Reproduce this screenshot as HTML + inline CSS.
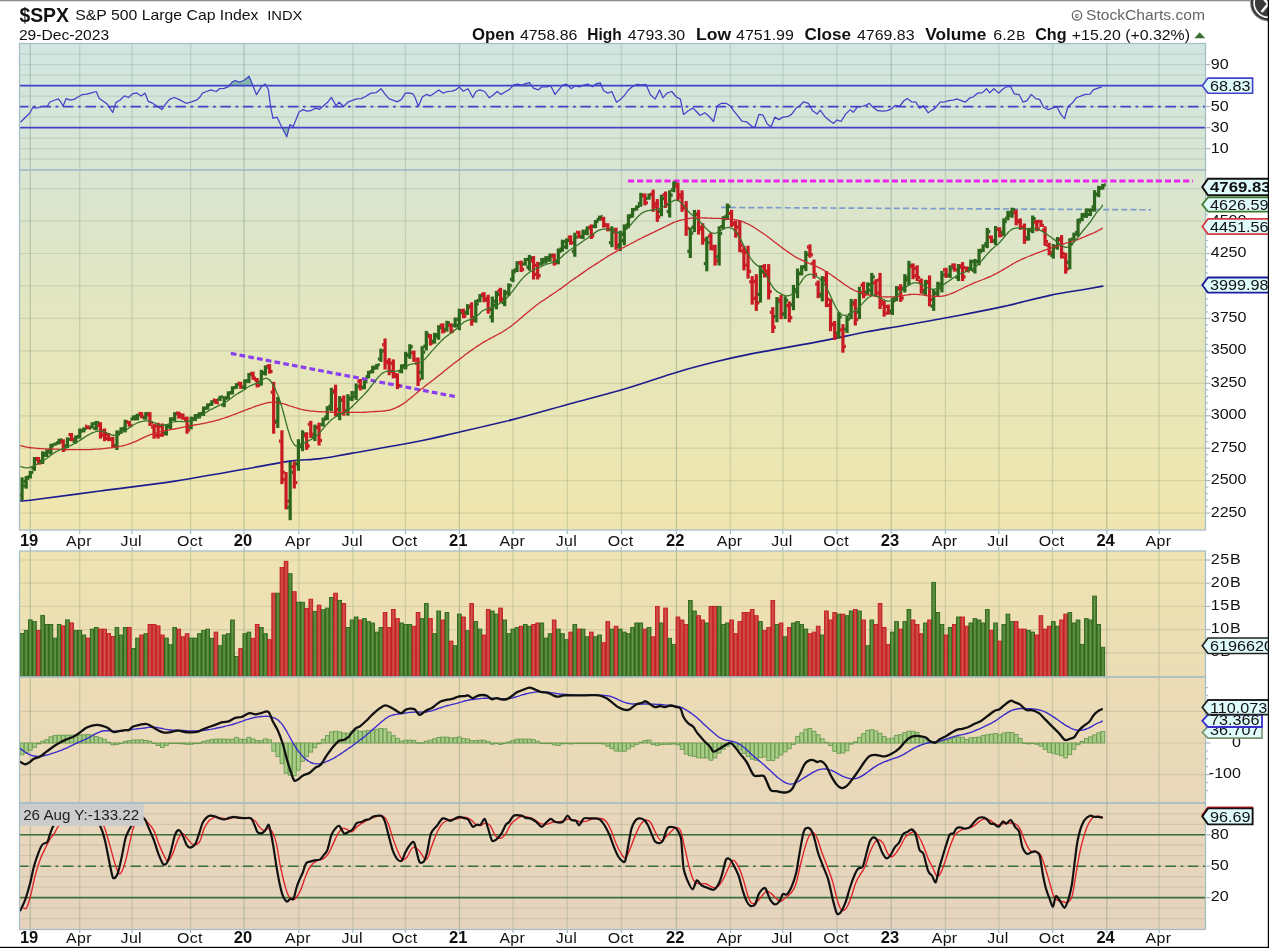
<!DOCTYPE html>
<html><head><meta charset="utf-8"><title>$SPX</title><style>html,body{margin:0;padding:0;background:#fff;overflow:hidden}svg{display:block;filter:blur(0.45px)}</style></head><body>
<svg width="1269" height="948" viewBox="0 0 1269 948" font-family="'Liberation Sans', sans-serif">
<defs>
<linearGradient id="bg" gradientUnits="userSpaceOnUse" x1="0" y1="43" x2="0" y2="930">
<stop offset="0" stop-color="#d1e6e2"/><stop offset="0.14" stop-color="#d8e5d2"/><stop offset="0.32" stop-color="#e4e6bd"/><stop offset="0.52" stop-color="#efe6af"/><stop offset="0.72" stop-color="#ebdcb5"/><stop offset="1" stop-color="#e5d3bf"/>
</linearGradient>
<linearGradient id="vg" x1="0" y1="0" x2="1" y2="0"><stop offset="0" stop-color="#35701f"/><stop offset="0.5" stop-color="#6a9648"/><stop offset="1" stop-color="#35701f"/></linearGradient>
<linearGradient id="vr" x1="0" y1="0" x2="1" y2="0"><stop offset="0" stop-color="#c8202a"/><stop offset="0.5" stop-color="#d05a4a"/><stop offset="1" stop-color="#c8202a"/></linearGradient>
<clipPath id="cR"><rect x="19.5" y="43.5" width="1186" height="126.5"/></clipPath>
<clipPath id="cP"><rect x="19.5" y="170" width="1186" height="360"/></clipPath>
<clipPath id="cM"><rect x="19.5" y="677" width="1186" height="126"/></clipPath>
<clipPath id="cS"><rect x="19.5" y="803" width="1186" height="126.5"/></clipPath>
<clipPath id="c70"><rect x="19.5" y="43.5" width="1186" height="42"/></clipPath>
<clipPath id="c30"><rect x="19.5" y="127.6" width="1186" height="42"/></clipPath>
</defs>
<rect width="1269" height="948" fill="#fff"/>
<rect x="19.5" y="43.5" width="1186.0" height="126.5" fill="url(#bg)"/>
<rect x="19.5" y="170.0" width="1186.0" height="360.0" fill="url(#bg)"/>
<rect x="19.5" y="551.0" width="1186.0" height="126.0" fill="url(#bg)"/>
<rect x="19.5" y="677.0" width="1186.0" height="126.0" fill="url(#bg)"/>
<rect x="19.5" y="803.0" width="1186.0" height="126.5" fill="url(#bg)"/>
<line x1="19.5" y1="159.1" x2="1205.5" y2="159.1" stroke="rgba(105,130,110,0.19)" stroke-width="1.2"/>
<line x1="19.5" y1="148.6" x2="1205.5" y2="148.6" stroke="rgba(105,130,110,0.19)" stroke-width="1.2"/>
<line x1="19.5" y1="138.1" x2="1205.5" y2="138.1" stroke="rgba(105,130,110,0.19)" stroke-width="1.2"/>
<line x1="19.5" y1="127.6" x2="1205.5" y2="127.6" stroke="rgba(105,130,110,0.19)" stroke-width="1.2"/>
<line x1="19.5" y1="117.1" x2="1205.5" y2="117.1" stroke="rgba(105,130,110,0.19)" stroke-width="1.2"/>
<line x1="19.5" y1="106.6" x2="1205.5" y2="106.6" stroke="rgba(105,130,110,0.19)" stroke-width="1.2"/>
<line x1="19.5" y1="96.1" x2="1205.5" y2="96.1" stroke="rgba(105,130,110,0.19)" stroke-width="1.2"/>
<line x1="19.5" y1="85.6" x2="1205.5" y2="85.6" stroke="rgba(105,130,110,0.19)" stroke-width="1.2"/>
<line x1="19.5" y1="75.1" x2="1205.5" y2="75.1" stroke="rgba(105,130,110,0.19)" stroke-width="1.2"/>
<line x1="19.5" y1="64.6" x2="1205.5" y2="64.6" stroke="rgba(105,130,110,0.19)" stroke-width="1.2"/>
<line x1="19.5" y1="54.1" x2="1205.5" y2="54.1" stroke="rgba(105,130,110,0.19)" stroke-width="1.2"/>
<line x1="19.5" y1="513.1" x2="1205.5" y2="513.1" stroke="rgba(105,130,110,0.19)" stroke-width="1.2"/>
<line x1="19.5" y1="480.6" x2="1205.5" y2="480.6" stroke="rgba(105,130,110,0.19)" stroke-width="1.2"/>
<line x1="19.5" y1="448.2" x2="1205.5" y2="448.2" stroke="rgba(105,130,110,0.19)" stroke-width="1.2"/>
<line x1="19.5" y1="415.8" x2="1205.5" y2="415.8" stroke="rgba(105,130,110,0.19)" stroke-width="1.2"/>
<line x1="19.5" y1="383.3" x2="1205.5" y2="383.3" stroke="rgba(105,130,110,0.19)" stroke-width="1.2"/>
<line x1="19.5" y1="350.9" x2="1205.5" y2="350.9" stroke="rgba(105,130,110,0.19)" stroke-width="1.2"/>
<line x1="19.5" y1="318.4" x2="1205.5" y2="318.4" stroke="rgba(105,130,110,0.19)" stroke-width="1.2"/>
<line x1="19.5" y1="285.9" x2="1205.5" y2="285.9" stroke="rgba(105,130,110,0.19)" stroke-width="1.2"/>
<line x1="19.5" y1="253.5" x2="1205.5" y2="253.5" stroke="rgba(105,130,110,0.19)" stroke-width="1.2"/>
<line x1="19.5" y1="221.1" x2="1205.5" y2="221.1" stroke="rgba(105,130,110,0.19)" stroke-width="1.2"/>
<line x1="19.5" y1="188.6" x2="1205.5" y2="188.6" stroke="rgba(105,130,110,0.19)" stroke-width="1.2"/>
<line x1="19.5" y1="652.8" x2="1205.5" y2="652.8" stroke="rgba(105,130,110,0.19)" stroke-width="1.2"/>
<line x1="19.5" y1="629.6" x2="1205.5" y2="629.6" stroke="rgba(105,130,110,0.19)" stroke-width="1.2"/>
<line x1="19.5" y1="606.4" x2="1205.5" y2="606.4" stroke="rgba(105,130,110,0.19)" stroke-width="1.2"/>
<line x1="19.5" y1="583.2" x2="1205.5" y2="583.2" stroke="rgba(105,130,110,0.19)" stroke-width="1.2"/>
<line x1="19.5" y1="560.0" x2="1205.5" y2="560.0" stroke="rgba(105,130,110,0.19)" stroke-width="1.2"/>
<line x1="19.5" y1="774.6" x2="1205.5" y2="774.6" stroke="rgba(105,130,110,0.19)" stroke-width="1.2"/>
<line x1="19.5" y1="743.0" x2="1205.5" y2="743.0" stroke="rgba(105,130,110,0.19)" stroke-width="1.2"/>
<line x1="19.5" y1="711.4" x2="1205.5" y2="711.4" stroke="rgba(105,130,110,0.19)" stroke-width="1.2"/>
<line x1="19.5" y1="918.6" x2="1205.5" y2="918.6" stroke="rgba(105,130,110,0.19)" stroke-width="1.2"/>
<line x1="19.5" y1="908.1" x2="1205.5" y2="908.1" stroke="rgba(105,130,110,0.19)" stroke-width="1.2"/>
<line x1="19.5" y1="897.6" x2="1205.5" y2="897.6" stroke="rgba(105,130,110,0.19)" stroke-width="1.2"/>
<line x1="19.5" y1="887.2" x2="1205.5" y2="887.2" stroke="rgba(105,130,110,0.19)" stroke-width="1.2"/>
<line x1="19.5" y1="876.7" x2="1205.5" y2="876.7" stroke="rgba(105,130,110,0.19)" stroke-width="1.2"/>
<line x1="19.5" y1="866.2" x2="1205.5" y2="866.2" stroke="rgba(105,130,110,0.19)" stroke-width="1.2"/>
<line x1="19.5" y1="855.7" x2="1205.5" y2="855.7" stroke="rgba(105,130,110,0.19)" stroke-width="1.2"/>
<line x1="19.5" y1="845.2" x2="1205.5" y2="845.2" stroke="rgba(105,130,110,0.19)" stroke-width="1.2"/>
<line x1="19.5" y1="834.8" x2="1205.5" y2="834.8" stroke="rgba(105,130,110,0.19)" stroke-width="1.2"/>
<line x1="19.5" y1="824.3" x2="1205.5" y2="824.3" stroke="rgba(105,130,110,0.19)" stroke-width="1.2"/>
<line x1="19.5" y1="813.8" x2="1205.5" y2="813.8" stroke="rgba(105,130,110,0.19)" stroke-width="1.2"/>
<line x1="30.3" y1="43.5" x2="30.3" y2="170.0" stroke="rgba(105,135,110,0.34)" stroke-width="1.3"/>
<line x1="30.3" y1="170.0" x2="30.3" y2="530.0" stroke="rgba(105,135,110,0.34)" stroke-width="1.3"/>
<line x1="30.3" y1="551.0" x2="30.3" y2="677.0" stroke="rgba(105,135,110,0.34)" stroke-width="1.3"/>
<line x1="30.3" y1="677.0" x2="30.3" y2="803.0" stroke="rgba(105,135,110,0.34)" stroke-width="1.3"/>
<line x1="30.3" y1="803.0" x2="30.3" y2="929.5" stroke="rgba(105,135,110,0.34)" stroke-width="1.3"/>
<line x1="30.3" y1="530" x2="30.3" y2="534" stroke="#a3bcc6" stroke-width="1.2"/>
<line x1="30.3" y1="547" x2="30.3" y2="551" stroke="#a3bcc6" stroke-width="1.2"/>
<line x1="30.3" y1="929.5" x2="30.3" y2="933" stroke="#a3bcc6" stroke-width="1.2"/>
<line x1="79.7" y1="43.5" x2="79.7" y2="170.0" stroke="rgba(110,138,112,0.24)" stroke-width="1.3"/>
<line x1="79.7" y1="170.0" x2="79.7" y2="530.0" stroke="rgba(110,138,112,0.24)" stroke-width="1.3"/>
<line x1="79.7" y1="551.0" x2="79.7" y2="677.0" stroke="rgba(110,138,112,0.24)" stroke-width="1.3"/>
<line x1="79.7" y1="677.0" x2="79.7" y2="803.0" stroke="rgba(110,138,112,0.24)" stroke-width="1.3"/>
<line x1="79.7" y1="803.0" x2="79.7" y2="929.5" stroke="rgba(110,138,112,0.24)" stroke-width="1.3"/>
<line x1="79.7" y1="530" x2="79.7" y2="534" stroke="#a3bcc6" stroke-width="1.2"/>
<line x1="79.7" y1="547" x2="79.7" y2="551" stroke="#a3bcc6" stroke-width="1.2"/>
<line x1="79.7" y1="929.5" x2="79.7" y2="933" stroke="#a3bcc6" stroke-width="1.2"/>
<line x1="132.1" y1="43.5" x2="132.1" y2="170.0" stroke="rgba(110,138,112,0.24)" stroke-width="1.3"/>
<line x1="132.1" y1="170.0" x2="132.1" y2="530.0" stroke="rgba(110,138,112,0.24)" stroke-width="1.3"/>
<line x1="132.1" y1="551.0" x2="132.1" y2="677.0" stroke="rgba(110,138,112,0.24)" stroke-width="1.3"/>
<line x1="132.1" y1="677.0" x2="132.1" y2="803.0" stroke="rgba(110,138,112,0.24)" stroke-width="1.3"/>
<line x1="132.1" y1="803.0" x2="132.1" y2="929.5" stroke="rgba(110,138,112,0.24)" stroke-width="1.3"/>
<line x1="132.1" y1="530" x2="132.1" y2="534" stroke="#a3bcc6" stroke-width="1.2"/>
<line x1="132.1" y1="547" x2="132.1" y2="551" stroke="#a3bcc6" stroke-width="1.2"/>
<line x1="132.1" y1="929.5" x2="132.1" y2="933" stroke="#a3bcc6" stroke-width="1.2"/>
<line x1="190.6" y1="43.5" x2="190.6" y2="170.0" stroke="rgba(110,138,112,0.24)" stroke-width="1.3"/>
<line x1="190.6" y1="170.0" x2="190.6" y2="530.0" stroke="rgba(110,138,112,0.24)" stroke-width="1.3"/>
<line x1="190.6" y1="551.0" x2="190.6" y2="677.0" stroke="rgba(110,138,112,0.24)" stroke-width="1.3"/>
<line x1="190.6" y1="677.0" x2="190.6" y2="803.0" stroke="rgba(110,138,112,0.24)" stroke-width="1.3"/>
<line x1="190.6" y1="803.0" x2="190.6" y2="929.5" stroke="rgba(110,138,112,0.24)" stroke-width="1.3"/>
<line x1="190.6" y1="530" x2="190.6" y2="534" stroke="#a3bcc6" stroke-width="1.2"/>
<line x1="190.6" y1="547" x2="190.6" y2="551" stroke="#a3bcc6" stroke-width="1.2"/>
<line x1="190.6" y1="929.5" x2="190.6" y2="933" stroke="#a3bcc6" stroke-width="1.2"/>
<line x1="244.1" y1="43.5" x2="244.1" y2="170.0" stroke="rgba(105,135,110,0.34)" stroke-width="1.3"/>
<line x1="244.1" y1="170.0" x2="244.1" y2="530.0" stroke="rgba(105,135,110,0.34)" stroke-width="1.3"/>
<line x1="244.1" y1="551.0" x2="244.1" y2="677.0" stroke="rgba(105,135,110,0.34)" stroke-width="1.3"/>
<line x1="244.1" y1="677.0" x2="244.1" y2="803.0" stroke="rgba(105,135,110,0.34)" stroke-width="1.3"/>
<line x1="244.1" y1="803.0" x2="244.1" y2="929.5" stroke="rgba(105,135,110,0.34)" stroke-width="1.3"/>
<line x1="244.1" y1="530" x2="244.1" y2="534" stroke="#a3bcc6" stroke-width="1.2"/>
<line x1="244.1" y1="547" x2="244.1" y2="551" stroke="#a3bcc6" stroke-width="1.2"/>
<line x1="244.1" y1="929.5" x2="244.1" y2="933" stroke="#a3bcc6" stroke-width="1.2"/>
<line x1="298.8" y1="43.5" x2="298.8" y2="170.0" stroke="rgba(110,138,112,0.24)" stroke-width="1.3"/>
<line x1="298.8" y1="170.0" x2="298.8" y2="530.0" stroke="rgba(110,138,112,0.24)" stroke-width="1.3"/>
<line x1="298.8" y1="551.0" x2="298.8" y2="677.0" stroke="rgba(110,138,112,0.24)" stroke-width="1.3"/>
<line x1="298.8" y1="677.0" x2="298.8" y2="803.0" stroke="rgba(110,138,112,0.24)" stroke-width="1.3"/>
<line x1="298.8" y1="803.0" x2="298.8" y2="929.5" stroke="rgba(110,138,112,0.24)" stroke-width="1.3"/>
<line x1="298.8" y1="530" x2="298.8" y2="534" stroke="#a3bcc6" stroke-width="1.2"/>
<line x1="298.8" y1="547" x2="298.8" y2="551" stroke="#a3bcc6" stroke-width="1.2"/>
<line x1="298.8" y1="929.5" x2="298.8" y2="933" stroke="#a3bcc6" stroke-width="1.2"/>
<line x1="352.9" y1="43.5" x2="352.9" y2="170.0" stroke="rgba(110,138,112,0.24)" stroke-width="1.3"/>
<line x1="352.9" y1="170.0" x2="352.9" y2="530.0" stroke="rgba(110,138,112,0.24)" stroke-width="1.3"/>
<line x1="352.9" y1="551.0" x2="352.9" y2="677.0" stroke="rgba(110,138,112,0.24)" stroke-width="1.3"/>
<line x1="352.9" y1="677.0" x2="352.9" y2="803.0" stroke="rgba(110,138,112,0.24)" stroke-width="1.3"/>
<line x1="352.9" y1="803.0" x2="352.9" y2="929.5" stroke="rgba(110,138,112,0.24)" stroke-width="1.3"/>
<line x1="352.9" y1="530" x2="352.9" y2="534" stroke="#a3bcc6" stroke-width="1.2"/>
<line x1="352.9" y1="547" x2="352.9" y2="551" stroke="#a3bcc6" stroke-width="1.2"/>
<line x1="352.9" y1="929.5" x2="352.9" y2="933" stroke="#a3bcc6" stroke-width="1.2"/>
<line x1="405.4" y1="43.5" x2="405.4" y2="170.0" stroke="rgba(110,138,112,0.24)" stroke-width="1.3"/>
<line x1="405.4" y1="170.0" x2="405.4" y2="530.0" stroke="rgba(110,138,112,0.24)" stroke-width="1.3"/>
<line x1="405.4" y1="551.0" x2="405.4" y2="677.0" stroke="rgba(110,138,112,0.24)" stroke-width="1.3"/>
<line x1="405.4" y1="677.0" x2="405.4" y2="803.0" stroke="rgba(110,138,112,0.24)" stroke-width="1.3"/>
<line x1="405.4" y1="803.0" x2="405.4" y2="929.5" stroke="rgba(110,138,112,0.24)" stroke-width="1.3"/>
<line x1="405.4" y1="530" x2="405.4" y2="534" stroke="#a3bcc6" stroke-width="1.2"/>
<line x1="405.4" y1="547" x2="405.4" y2="551" stroke="#a3bcc6" stroke-width="1.2"/>
<line x1="405.4" y1="929.5" x2="405.4" y2="933" stroke="#a3bcc6" stroke-width="1.2"/>
<line x1="459.4" y1="43.5" x2="459.4" y2="170.0" stroke="rgba(105,135,110,0.34)" stroke-width="1.3"/>
<line x1="459.4" y1="170.0" x2="459.4" y2="530.0" stroke="rgba(105,135,110,0.34)" stroke-width="1.3"/>
<line x1="459.4" y1="551.0" x2="459.4" y2="677.0" stroke="rgba(105,135,110,0.34)" stroke-width="1.3"/>
<line x1="459.4" y1="677.0" x2="459.4" y2="803.0" stroke="rgba(105,135,110,0.34)" stroke-width="1.3"/>
<line x1="459.4" y1="803.0" x2="459.4" y2="929.5" stroke="rgba(105,135,110,0.34)" stroke-width="1.3"/>
<line x1="459.4" y1="530" x2="459.4" y2="534" stroke="#a3bcc6" stroke-width="1.2"/>
<line x1="459.4" y1="547" x2="459.4" y2="551" stroke="#a3bcc6" stroke-width="1.2"/>
<line x1="459.4" y1="929.5" x2="459.4" y2="933" stroke="#a3bcc6" stroke-width="1.2"/>
<line x1="513.1" y1="43.5" x2="513.1" y2="170.0" stroke="rgba(110,138,112,0.24)" stroke-width="1.3"/>
<line x1="513.1" y1="170.0" x2="513.1" y2="530.0" stroke="rgba(110,138,112,0.24)" stroke-width="1.3"/>
<line x1="513.1" y1="551.0" x2="513.1" y2="677.0" stroke="rgba(110,138,112,0.24)" stroke-width="1.3"/>
<line x1="513.1" y1="677.0" x2="513.1" y2="803.0" stroke="rgba(110,138,112,0.24)" stroke-width="1.3"/>
<line x1="513.1" y1="803.0" x2="513.1" y2="929.5" stroke="rgba(110,138,112,0.24)" stroke-width="1.3"/>
<line x1="513.1" y1="530" x2="513.1" y2="534" stroke="#a3bcc6" stroke-width="1.2"/>
<line x1="513.1" y1="547" x2="513.1" y2="551" stroke="#a3bcc6" stroke-width="1.2"/>
<line x1="513.1" y1="929.5" x2="513.1" y2="933" stroke="#a3bcc6" stroke-width="1.2"/>
<line x1="567.3" y1="43.5" x2="567.3" y2="170.0" stroke="rgba(110,138,112,0.24)" stroke-width="1.3"/>
<line x1="567.3" y1="170.0" x2="567.3" y2="530.0" stroke="rgba(110,138,112,0.24)" stroke-width="1.3"/>
<line x1="567.3" y1="551.0" x2="567.3" y2="677.0" stroke="rgba(110,138,112,0.24)" stroke-width="1.3"/>
<line x1="567.3" y1="677.0" x2="567.3" y2="803.0" stroke="rgba(110,138,112,0.24)" stroke-width="1.3"/>
<line x1="567.3" y1="803.0" x2="567.3" y2="929.5" stroke="rgba(110,138,112,0.24)" stroke-width="1.3"/>
<line x1="567.3" y1="530" x2="567.3" y2="534" stroke="#a3bcc6" stroke-width="1.2"/>
<line x1="567.3" y1="547" x2="567.3" y2="551" stroke="#a3bcc6" stroke-width="1.2"/>
<line x1="567.3" y1="929.5" x2="567.3" y2="933" stroke="#a3bcc6" stroke-width="1.2"/>
<line x1="621.4" y1="43.5" x2="621.4" y2="170.0" stroke="rgba(110,138,112,0.24)" stroke-width="1.3"/>
<line x1="621.4" y1="170.0" x2="621.4" y2="530.0" stroke="rgba(110,138,112,0.24)" stroke-width="1.3"/>
<line x1="621.4" y1="551.0" x2="621.4" y2="677.0" stroke="rgba(110,138,112,0.24)" stroke-width="1.3"/>
<line x1="621.4" y1="677.0" x2="621.4" y2="803.0" stroke="rgba(110,138,112,0.24)" stroke-width="1.3"/>
<line x1="621.4" y1="803.0" x2="621.4" y2="929.5" stroke="rgba(110,138,112,0.24)" stroke-width="1.3"/>
<line x1="621.4" y1="530" x2="621.4" y2="534" stroke="#a3bcc6" stroke-width="1.2"/>
<line x1="621.4" y1="547" x2="621.4" y2="551" stroke="#a3bcc6" stroke-width="1.2"/>
<line x1="621.4" y1="929.5" x2="621.4" y2="933" stroke="#a3bcc6" stroke-width="1.2"/>
<line x1="676.4" y1="43.5" x2="676.4" y2="170.0" stroke="rgba(105,135,110,0.34)" stroke-width="1.3"/>
<line x1="676.4" y1="170.0" x2="676.4" y2="530.0" stroke="rgba(105,135,110,0.34)" stroke-width="1.3"/>
<line x1="676.4" y1="551.0" x2="676.4" y2="677.0" stroke="rgba(105,135,110,0.34)" stroke-width="1.3"/>
<line x1="676.4" y1="677.0" x2="676.4" y2="803.0" stroke="rgba(105,135,110,0.34)" stroke-width="1.3"/>
<line x1="676.4" y1="803.0" x2="676.4" y2="929.5" stroke="rgba(105,135,110,0.34)" stroke-width="1.3"/>
<line x1="676.4" y1="530" x2="676.4" y2="534" stroke="#a3bcc6" stroke-width="1.2"/>
<line x1="676.4" y1="547" x2="676.4" y2="551" stroke="#a3bcc6" stroke-width="1.2"/>
<line x1="676.4" y1="929.5" x2="676.4" y2="933" stroke="#a3bcc6" stroke-width="1.2"/>
<line x1="730.4" y1="43.5" x2="730.4" y2="170.0" stroke="rgba(110,138,112,0.24)" stroke-width="1.3"/>
<line x1="730.4" y1="170.0" x2="730.4" y2="530.0" stroke="rgba(110,138,112,0.24)" stroke-width="1.3"/>
<line x1="730.4" y1="551.0" x2="730.4" y2="677.0" stroke="rgba(110,138,112,0.24)" stroke-width="1.3"/>
<line x1="730.4" y1="677.0" x2="730.4" y2="803.0" stroke="rgba(110,138,112,0.24)" stroke-width="1.3"/>
<line x1="730.4" y1="803.0" x2="730.4" y2="929.5" stroke="rgba(110,138,112,0.24)" stroke-width="1.3"/>
<line x1="730.4" y1="530" x2="730.4" y2="534" stroke="#a3bcc6" stroke-width="1.2"/>
<line x1="730.4" y1="547" x2="730.4" y2="551" stroke="#a3bcc6" stroke-width="1.2"/>
<line x1="730.4" y1="929.5" x2="730.4" y2="933" stroke="#a3bcc6" stroke-width="1.2"/>
<line x1="782.8" y1="43.5" x2="782.8" y2="170.0" stroke="rgba(110,138,112,0.24)" stroke-width="1.3"/>
<line x1="782.8" y1="170.0" x2="782.8" y2="530.0" stroke="rgba(110,138,112,0.24)" stroke-width="1.3"/>
<line x1="782.8" y1="551.0" x2="782.8" y2="677.0" stroke="rgba(110,138,112,0.24)" stroke-width="1.3"/>
<line x1="782.8" y1="677.0" x2="782.8" y2="803.0" stroke="rgba(110,138,112,0.24)" stroke-width="1.3"/>
<line x1="782.8" y1="803.0" x2="782.8" y2="929.5" stroke="rgba(110,138,112,0.24)" stroke-width="1.3"/>
<line x1="782.8" y1="530" x2="782.8" y2="534" stroke="#a3bcc6" stroke-width="1.2"/>
<line x1="782.8" y1="547" x2="782.8" y2="551" stroke="#a3bcc6" stroke-width="1.2"/>
<line x1="782.8" y1="929.5" x2="782.8" y2="933" stroke="#a3bcc6" stroke-width="1.2"/>
<line x1="837.0" y1="43.5" x2="837.0" y2="170.0" stroke="rgba(110,138,112,0.24)" stroke-width="1.3"/>
<line x1="837.0" y1="170.0" x2="837.0" y2="530.0" stroke="rgba(110,138,112,0.24)" stroke-width="1.3"/>
<line x1="837.0" y1="551.0" x2="837.0" y2="677.0" stroke="rgba(110,138,112,0.24)" stroke-width="1.3"/>
<line x1="837.0" y1="677.0" x2="837.0" y2="803.0" stroke="rgba(110,138,112,0.24)" stroke-width="1.3"/>
<line x1="837.0" y1="803.0" x2="837.0" y2="929.5" stroke="rgba(110,138,112,0.24)" stroke-width="1.3"/>
<line x1="837.0" y1="530" x2="837.0" y2="534" stroke="#a3bcc6" stroke-width="1.2"/>
<line x1="837.0" y1="547" x2="837.0" y2="551" stroke="#a3bcc6" stroke-width="1.2"/>
<line x1="837.0" y1="929.5" x2="837.0" y2="933" stroke="#a3bcc6" stroke-width="1.2"/>
<line x1="891.2" y1="43.5" x2="891.2" y2="170.0" stroke="rgba(105,135,110,0.34)" stroke-width="1.3"/>
<line x1="891.2" y1="170.0" x2="891.2" y2="530.0" stroke="rgba(105,135,110,0.34)" stroke-width="1.3"/>
<line x1="891.2" y1="551.0" x2="891.2" y2="677.0" stroke="rgba(105,135,110,0.34)" stroke-width="1.3"/>
<line x1="891.2" y1="677.0" x2="891.2" y2="803.0" stroke="rgba(105,135,110,0.34)" stroke-width="1.3"/>
<line x1="891.2" y1="803.0" x2="891.2" y2="929.5" stroke="rgba(105,135,110,0.34)" stroke-width="1.3"/>
<line x1="891.2" y1="530" x2="891.2" y2="534" stroke="#a3bcc6" stroke-width="1.2"/>
<line x1="891.2" y1="547" x2="891.2" y2="551" stroke="#a3bcc6" stroke-width="1.2"/>
<line x1="891.2" y1="929.5" x2="891.2" y2="933" stroke="#a3bcc6" stroke-width="1.2"/>
<line x1="945.4" y1="43.5" x2="945.4" y2="170.0" stroke="rgba(110,138,112,0.24)" stroke-width="1.3"/>
<line x1="945.4" y1="170.0" x2="945.4" y2="530.0" stroke="rgba(110,138,112,0.24)" stroke-width="1.3"/>
<line x1="945.4" y1="551.0" x2="945.4" y2="677.0" stroke="rgba(110,138,112,0.24)" stroke-width="1.3"/>
<line x1="945.4" y1="677.0" x2="945.4" y2="803.0" stroke="rgba(110,138,112,0.24)" stroke-width="1.3"/>
<line x1="945.4" y1="803.0" x2="945.4" y2="929.5" stroke="rgba(110,138,112,0.24)" stroke-width="1.3"/>
<line x1="945.4" y1="530" x2="945.4" y2="534" stroke="#a3bcc6" stroke-width="1.2"/>
<line x1="945.4" y1="547" x2="945.4" y2="551" stroke="#a3bcc6" stroke-width="1.2"/>
<line x1="945.4" y1="929.5" x2="945.4" y2="933" stroke="#a3bcc6" stroke-width="1.2"/>
<line x1="998.8" y1="43.5" x2="998.8" y2="170.0" stroke="rgba(110,138,112,0.24)" stroke-width="1.3"/>
<line x1="998.8" y1="170.0" x2="998.8" y2="530.0" stroke="rgba(110,138,112,0.24)" stroke-width="1.3"/>
<line x1="998.8" y1="551.0" x2="998.8" y2="677.0" stroke="rgba(110,138,112,0.24)" stroke-width="1.3"/>
<line x1="998.8" y1="677.0" x2="998.8" y2="803.0" stroke="rgba(110,138,112,0.24)" stroke-width="1.3"/>
<line x1="998.8" y1="803.0" x2="998.8" y2="929.5" stroke="rgba(110,138,112,0.24)" stroke-width="1.3"/>
<line x1="998.8" y1="530" x2="998.8" y2="534" stroke="#a3bcc6" stroke-width="1.2"/>
<line x1="998.8" y1="547" x2="998.8" y2="551" stroke="#a3bcc6" stroke-width="1.2"/>
<line x1="998.8" y1="929.5" x2="998.8" y2="933" stroke="#a3bcc6" stroke-width="1.2"/>
<line x1="1052.5" y1="43.5" x2="1052.5" y2="170.0" stroke="rgba(110,138,112,0.24)" stroke-width="1.3"/>
<line x1="1052.5" y1="170.0" x2="1052.5" y2="530.0" stroke="rgba(110,138,112,0.24)" stroke-width="1.3"/>
<line x1="1052.5" y1="551.0" x2="1052.5" y2="677.0" stroke="rgba(110,138,112,0.24)" stroke-width="1.3"/>
<line x1="1052.5" y1="677.0" x2="1052.5" y2="803.0" stroke="rgba(110,138,112,0.24)" stroke-width="1.3"/>
<line x1="1052.5" y1="803.0" x2="1052.5" y2="929.5" stroke="rgba(110,138,112,0.24)" stroke-width="1.3"/>
<line x1="1052.5" y1="530" x2="1052.5" y2="534" stroke="#a3bcc6" stroke-width="1.2"/>
<line x1="1052.5" y1="547" x2="1052.5" y2="551" stroke="#a3bcc6" stroke-width="1.2"/>
<line x1="1052.5" y1="929.5" x2="1052.5" y2="933" stroke="#a3bcc6" stroke-width="1.2"/>
<line x1="1106.8" y1="43.5" x2="1106.8" y2="170.0" stroke="rgba(105,135,110,0.34)" stroke-width="1.3"/>
<line x1="1106.8" y1="170.0" x2="1106.8" y2="530.0" stroke="rgba(105,135,110,0.34)" stroke-width="1.3"/>
<line x1="1106.8" y1="551.0" x2="1106.8" y2="677.0" stroke="rgba(105,135,110,0.34)" stroke-width="1.3"/>
<line x1="1106.8" y1="677.0" x2="1106.8" y2="803.0" stroke="rgba(105,135,110,0.34)" stroke-width="1.3"/>
<line x1="1106.8" y1="803.0" x2="1106.8" y2="929.5" stroke="rgba(105,135,110,0.34)" stroke-width="1.3"/>
<line x1="1106.8" y1="530" x2="1106.8" y2="534" stroke="#a3bcc6" stroke-width="1.2"/>
<line x1="1106.8" y1="547" x2="1106.8" y2="551" stroke="#a3bcc6" stroke-width="1.2"/>
<line x1="1106.8" y1="929.5" x2="1106.8" y2="933" stroke="#a3bcc6" stroke-width="1.2"/>
<line x1="1159.2" y1="43.5" x2="1159.2" y2="170.0" stroke="rgba(110,138,112,0.24)" stroke-width="1.3"/>
<line x1="1159.2" y1="170.0" x2="1159.2" y2="530.0" stroke="rgba(110,138,112,0.24)" stroke-width="1.3"/>
<line x1="1159.2" y1="551.0" x2="1159.2" y2="677.0" stroke="rgba(110,138,112,0.24)" stroke-width="1.3"/>
<line x1="1159.2" y1="677.0" x2="1159.2" y2="803.0" stroke="rgba(110,138,112,0.24)" stroke-width="1.3"/>
<line x1="1159.2" y1="803.0" x2="1159.2" y2="929.5" stroke="rgba(110,138,112,0.24)" stroke-width="1.3"/>
<line x1="1159.2" y1="530" x2="1159.2" y2="534" stroke="#a3bcc6" stroke-width="1.2"/>
<line x1="1159.2" y1="547" x2="1159.2" y2="551" stroke="#a3bcc6" stroke-width="1.2"/>
<line x1="1159.2" y1="929.5" x2="1159.2" y2="933" stroke="#a3bcc6" stroke-width="1.2"/>
<g clip-path="url(#c70)"><polygon points="20.5,85.6 20.5,122.3 30.0,112.8 33.1,107.0 34.7,108.1 38.6,107.6 41.8,106.5 47.3,106.2 49.7,102.2 53.6,100.5 58.3,98.9 60.7,101.8 63.1,106.0 66.2,98.6 70.2,100.2 74.1,99.4 78.0,97.0 82.0,94.7 86.7,94.2 91.4,92.8 96.2,91.5 99.3,98.6 103.3,101.3 107.2,104.1 110.4,108.9 112.7,112.5 115.9,102.6 119.8,100.2 124.5,95.9 128.5,97.5 132.4,93.9 136.4,92.8 141.1,95.9 145.0,93.1 148.2,101.3 152.1,102.9 156.8,106.0 161.9,109.6 165.5,104.1 169.5,99.4 174.2,97.5 178.9,99.4 186.0,103.3 191.5,101.8 196.2,100.2 199.4,97.8 202.5,93.1 206.5,91.5 211.2,89.9 213.2,90.7 216.3,91.5 219.5,88.7 224.2,88.4 228.1,86.8 232.1,82.1 235.2,80.5 239.2,82.1 243.9,80.5 249.1,76.2 251.8,82.9 256.5,94.7 261.2,87.1 265.2,84.0 268.3,89.2 270.7,107.3 273.0,118.3 277.0,117.1 281.7,127.0 286.8,136.8 289.9,124.6 293.2,126.5 295.9,119.9 299.0,112.0 303.0,109.6 306.9,111.2 310.9,110.7 315.6,108.1 319.5,109.3 323.5,105.7 327.4,102.6 331.4,97.4 336.1,105.7 339.2,102.2 343.6,106.5 347.9,102.2 351.8,100.7 356.6,98.9 361.3,98.6 366.0,96.2 370.8,93.1 376.3,92.6 381.0,88.7 384.9,93.9 388.9,98.6 392.8,100.2 397.5,101.8 401.5,99.4 405.4,93.1 408.9,92.8 412.9,93.9 415.2,97.8 418.4,106.5 422.3,97.0 426.3,94.4 430.2,95.9 434.9,92.8 438.9,89.9 442.8,93.1 447.6,91.5 452.3,91.2 456.2,89.6 459.4,87.1 463.3,91.2 468.0,88.7 472.8,97.5 475.9,91.5 479.9,89.9 484.6,91.5 489.3,97.8 493.3,95.0 497.2,91.5 501.1,94.4 505.9,91.5 509.8,89.2 513.7,84.9 517.7,84.1 521.6,85.2 525.6,83.6 529.5,82.5 533.4,88.1 538.2,89.9 542.1,86.8 546.8,86.8 550.8,86.0 555.0,94.4 558.7,89.9 562.6,85.2 566.5,84.1 571.3,88.7 575.2,85.7 579.2,86.8 583.9,85.2 587.8,84.1 592.5,86.8 596.5,83.6 600.4,82.9 603.6,90.7 607.9,93.1 611.8,91.5 616.5,102.2 620.5,99.4 624.4,95.5 628.4,89.9 632.3,86.8 637.0,84.4 641.8,84.9 646.0,84.4 650.4,94.7 655.2,99.1 659.6,89.9 663.0,97.8 667.0,93.1 671.7,91.5 676.4,97.0 680.4,99.1 683.5,114.4 688.3,110.7 693.0,108.1 696.1,111.2 700.1,115.5 704.8,112.8 708.7,115.9 713.5,121.5 717.4,105.7 721.4,103.3 726.1,103.3 730.0,105.7 734.0,111.2 737.9,115.9 741.8,121.2 746.6,121.8 752.6,127.0 755.2,126.5 758.9,114.4 763.1,115.2 767.1,123.8 771.0,127.0 774.9,117.1 778.9,119.6 782.8,117.1 787.5,116.7 791.5,114.4 796.2,108.1 799.7,105.7 803.7,101.8 808.4,103.3 812.3,110.4 817.1,114.1 820.2,110.1 824.9,116.7 829.7,120.7 833.6,123.4 836.8,119.9 841.0,121.5 845.4,114.4 850.2,109.6 853.3,112.3 857.3,107.0 862.0,106.5 866.7,104.9 869.4,103.3 873.0,107.3 877.7,110.7 882.5,111.2 887.2,110.7 891.1,109.2 895.1,105.4 899.8,106.0 903.7,101.0 907.2,98.6 911.6,101.8 916.0,102.2 919.5,108.1 923.4,105.7 928.2,112.8 932.1,110.1 935.3,108.1 940.0,102.2 944.7,101.8 948.7,100.7 953.4,100.2 956.5,98.9 961.3,100.7 965.2,102.2 969.9,97.8 973.1,97.0 977.8,93.1 982.5,92.6 986.5,88.7 989.6,92.8 993.9,88.7 998.7,93.1 1002.6,89.2 1006.5,86.8 1010.5,86.5 1014.4,93.9 1019.2,94.7 1023.1,102.2 1027.0,100.7 1031.3,94.4 1035.7,98.6 1039.6,99.4 1043.6,107.3 1048.3,109.6 1052.3,108.1 1057.0,107.0 1060.9,114.4 1064.5,118.6 1068.0,106.5 1072.0,103.3 1076.7,97.5 1080.6,96.2 1085.4,94.4 1090.1,94.2 1093.2,89.9 1097.2,88.4 1101.9,86.8 1101.9,85.6" fill="#84b8ad"/></g>
<g clip-path="url(#c30)"><polygon points="20.5,127.6 20.5,122.3 30.0,112.8 33.1,107.0 34.7,108.1 38.6,107.6 41.8,106.5 47.3,106.2 49.7,102.2 53.6,100.5 58.3,98.9 60.7,101.8 63.1,106.0 66.2,98.6 70.2,100.2 74.1,99.4 78.0,97.0 82.0,94.7 86.7,94.2 91.4,92.8 96.2,91.5 99.3,98.6 103.3,101.3 107.2,104.1 110.4,108.9 112.7,112.5 115.9,102.6 119.8,100.2 124.5,95.9 128.5,97.5 132.4,93.9 136.4,92.8 141.1,95.9 145.0,93.1 148.2,101.3 152.1,102.9 156.8,106.0 161.9,109.6 165.5,104.1 169.5,99.4 174.2,97.5 178.9,99.4 186.0,103.3 191.5,101.8 196.2,100.2 199.4,97.8 202.5,93.1 206.5,91.5 211.2,89.9 213.2,90.7 216.3,91.5 219.5,88.7 224.2,88.4 228.1,86.8 232.1,82.1 235.2,80.5 239.2,82.1 243.9,80.5 249.1,76.2 251.8,82.9 256.5,94.7 261.2,87.1 265.2,84.0 268.3,89.2 270.7,107.3 273.0,118.3 277.0,117.1 281.7,127.0 286.8,136.8 289.9,124.6 293.2,126.5 295.9,119.9 299.0,112.0 303.0,109.6 306.9,111.2 310.9,110.7 315.6,108.1 319.5,109.3 323.5,105.7 327.4,102.6 331.4,97.4 336.1,105.7 339.2,102.2 343.6,106.5 347.9,102.2 351.8,100.7 356.6,98.9 361.3,98.6 366.0,96.2 370.8,93.1 376.3,92.6 381.0,88.7 384.9,93.9 388.9,98.6 392.8,100.2 397.5,101.8 401.5,99.4 405.4,93.1 408.9,92.8 412.9,93.9 415.2,97.8 418.4,106.5 422.3,97.0 426.3,94.4 430.2,95.9 434.9,92.8 438.9,89.9 442.8,93.1 447.6,91.5 452.3,91.2 456.2,89.6 459.4,87.1 463.3,91.2 468.0,88.7 472.8,97.5 475.9,91.5 479.9,89.9 484.6,91.5 489.3,97.8 493.3,95.0 497.2,91.5 501.1,94.4 505.9,91.5 509.8,89.2 513.7,84.9 517.7,84.1 521.6,85.2 525.6,83.6 529.5,82.5 533.4,88.1 538.2,89.9 542.1,86.8 546.8,86.8 550.8,86.0 555.0,94.4 558.7,89.9 562.6,85.2 566.5,84.1 571.3,88.7 575.2,85.7 579.2,86.8 583.9,85.2 587.8,84.1 592.5,86.8 596.5,83.6 600.4,82.9 603.6,90.7 607.9,93.1 611.8,91.5 616.5,102.2 620.5,99.4 624.4,95.5 628.4,89.9 632.3,86.8 637.0,84.4 641.8,84.9 646.0,84.4 650.4,94.7 655.2,99.1 659.6,89.9 663.0,97.8 667.0,93.1 671.7,91.5 676.4,97.0 680.4,99.1 683.5,114.4 688.3,110.7 693.0,108.1 696.1,111.2 700.1,115.5 704.8,112.8 708.7,115.9 713.5,121.5 717.4,105.7 721.4,103.3 726.1,103.3 730.0,105.7 734.0,111.2 737.9,115.9 741.8,121.2 746.6,121.8 752.6,127.0 755.2,126.5 758.9,114.4 763.1,115.2 767.1,123.8 771.0,127.0 774.9,117.1 778.9,119.6 782.8,117.1 787.5,116.7 791.5,114.4 796.2,108.1 799.7,105.7 803.7,101.8 808.4,103.3 812.3,110.4 817.1,114.1 820.2,110.1 824.9,116.7 829.7,120.7 833.6,123.4 836.8,119.9 841.0,121.5 845.4,114.4 850.2,109.6 853.3,112.3 857.3,107.0 862.0,106.5 866.7,104.9 869.4,103.3 873.0,107.3 877.7,110.7 882.5,111.2 887.2,110.7 891.1,109.2 895.1,105.4 899.8,106.0 903.7,101.0 907.2,98.6 911.6,101.8 916.0,102.2 919.5,108.1 923.4,105.7 928.2,112.8 932.1,110.1 935.3,108.1 940.0,102.2 944.7,101.8 948.7,100.7 953.4,100.2 956.5,98.9 961.3,100.7 965.2,102.2 969.9,97.8 973.1,97.0 977.8,93.1 982.5,92.6 986.5,88.7 989.6,92.8 993.9,88.7 998.7,93.1 1002.6,89.2 1006.5,86.8 1010.5,86.5 1014.4,93.9 1019.2,94.7 1023.1,102.2 1027.0,100.7 1031.3,94.4 1035.7,98.6 1039.6,99.4 1043.6,107.3 1048.3,109.6 1052.3,108.1 1057.0,107.0 1060.9,114.4 1064.5,118.6 1068.0,106.5 1072.0,103.3 1076.7,97.5 1080.6,96.2 1085.4,94.4 1090.1,94.2 1093.2,89.9 1097.2,88.4 1101.9,86.8 1101.9,127.6" fill="#84b8ad"/></g>
<line x1="19.5" y1="85.6" x2="1205.5" y2="85.6" stroke="#4242c8" stroke-width="1.6"/>
<line x1="19.5" y1="127.6" x2="1205.5" y2="127.6" stroke="#4242c8" stroke-width="1.6"/>
<line x1="19.5" y1="106.6" x2="1205.5" y2="106.6" stroke="#4242c8" stroke-width="1.6" stroke-dasharray="10.5,4.6,2.8,4.6" stroke-dashoffset="1.6"/>
<polyline points="20.5,122.3 30.0,112.8 33.1,107.0 34.7,108.1 38.6,107.6 41.8,106.5 47.3,106.2 49.7,102.2 53.6,100.5 58.3,98.9 60.7,101.8 63.1,106.0 66.2,98.6 70.2,100.2 74.1,99.4 78.0,97.0 82.0,94.7 86.7,94.2 91.4,92.8 96.2,91.5 99.3,98.6 103.3,101.3 107.2,104.1 110.4,108.9 112.7,112.5 115.9,102.6 119.8,100.2 124.5,95.9 128.5,97.5 132.4,93.9 136.4,92.8 141.1,95.9 145.0,93.1 148.2,101.3 152.1,102.9 156.8,106.0 161.9,109.6 165.5,104.1 169.5,99.4 174.2,97.5 178.9,99.4 186.0,103.3 191.5,101.8 196.2,100.2 199.4,97.8 202.5,93.1 206.5,91.5 211.2,89.9 213.2,90.7 216.3,91.5 219.5,88.7 224.2,88.4 228.1,86.8 232.1,82.1 235.2,80.5 239.2,82.1 243.9,80.5 249.1,76.2 251.8,82.9 256.5,94.7 261.2,87.1 265.2,84.0 268.3,89.2 270.7,107.3 273.0,118.3 277.0,117.1 281.7,127.0 286.8,136.8 289.9,124.6 293.2,126.5 295.9,119.9 299.0,112.0 303.0,109.6 306.9,111.2 310.9,110.7 315.6,108.1 319.5,109.3 323.5,105.7 327.4,102.6 331.4,97.4 336.1,105.7 339.2,102.2 343.6,106.5 347.9,102.2 351.8,100.7 356.6,98.9 361.3,98.6 366.0,96.2 370.8,93.1 376.3,92.6 381.0,88.7 384.9,93.9 388.9,98.6 392.8,100.2 397.5,101.8 401.5,99.4 405.4,93.1 408.9,92.8 412.9,93.9 415.2,97.8 418.4,106.5 422.3,97.0 426.3,94.4 430.2,95.9 434.9,92.8 438.9,89.9 442.8,93.1 447.6,91.5 452.3,91.2 456.2,89.6 459.4,87.1 463.3,91.2 468.0,88.7 472.8,97.5 475.9,91.5 479.9,89.9 484.6,91.5 489.3,97.8 493.3,95.0 497.2,91.5 501.1,94.4 505.9,91.5 509.8,89.2 513.7,84.9 517.7,84.1 521.6,85.2 525.6,83.6 529.5,82.5 533.4,88.1 538.2,89.9 542.1,86.8 546.8,86.8 550.8,86.0 555.0,94.4 558.7,89.9 562.6,85.2 566.5,84.1 571.3,88.7 575.2,85.7 579.2,86.8 583.9,85.2 587.8,84.1 592.5,86.8 596.5,83.6 600.4,82.9 603.6,90.7 607.9,93.1 611.8,91.5 616.5,102.2 620.5,99.4 624.4,95.5 628.4,89.9 632.3,86.8 637.0,84.4 641.8,84.9 646.0,84.4 650.4,94.7 655.2,99.1 659.6,89.9 663.0,97.8 667.0,93.1 671.7,91.5 676.4,97.0 680.4,99.1 683.5,114.4 688.3,110.7 693.0,108.1 696.1,111.2 700.1,115.5 704.8,112.8 708.7,115.9 713.5,121.5 717.4,105.7 721.4,103.3 726.1,103.3 730.0,105.7 734.0,111.2 737.9,115.9 741.8,121.2 746.6,121.8 752.6,127.0 755.2,126.5 758.9,114.4 763.1,115.2 767.1,123.8 771.0,127.0 774.9,117.1 778.9,119.6 782.8,117.1 787.5,116.7 791.5,114.4 796.2,108.1 799.7,105.7 803.7,101.8 808.4,103.3 812.3,110.4 817.1,114.1 820.2,110.1 824.9,116.7 829.7,120.7 833.6,123.4 836.8,119.9 841.0,121.5 845.4,114.4 850.2,109.6 853.3,112.3 857.3,107.0 862.0,106.5 866.7,104.9 869.4,103.3 873.0,107.3 877.7,110.7 882.5,111.2 887.2,110.7 891.1,109.2 895.1,105.4 899.8,106.0 903.7,101.0 907.2,98.6 911.6,101.8 916.0,102.2 919.5,108.1 923.4,105.7 928.2,112.8 932.1,110.1 935.3,108.1 940.0,102.2 944.7,101.8 948.7,100.7 953.4,100.2 956.5,98.9 961.3,100.7 965.2,102.2 969.9,97.8 973.1,97.0 977.8,93.1 982.5,92.6 986.5,88.7 989.6,92.8 993.9,88.7 998.7,93.1 1002.6,89.2 1006.5,86.8 1010.5,86.5 1014.4,93.9 1019.2,94.7 1023.1,102.2 1027.0,100.7 1031.3,94.4 1035.7,98.6 1039.6,99.4 1043.6,107.3 1048.3,109.6 1052.3,108.1 1057.0,107.0 1060.9,114.4 1064.5,118.6 1068.0,106.5 1072.0,103.3 1076.7,97.5 1080.6,96.2 1085.4,94.4 1090.1,94.2 1093.2,89.9 1097.2,88.4 1101.9,86.8" fill="none" stroke="#4242c8" stroke-width="1.25" stroke-linejoin="round" clip-path="url(#cR)"/>
<g clip-path="url(#cP)">
<line x1="230.8" y1="353.4" x2="458" y2="397.1" stroke="#8a3ff2" stroke-width="3.2" stroke-dasharray="5.7,3.2"/>
<line x1="628" y1="181" x2="1193" y2="181" stroke="#ee22ee" stroke-width="3.2" stroke-dasharray="6.1,3"/>
<line x1="721" y1="207.4" x2="1151" y2="209.8" stroke="#7c9ccc" stroke-width="1.7" stroke-dasharray="6,3.1"/>
<path d="M19.8,500.4 C21.5,500.4 16.8,501.8 30.2,500.2 C43.6,498.6 75.9,494.2 100.0,491.0 C124.1,487.8 148.3,485.2 175.0,481.1 C201.7,477.0 240.6,469.8 260.0,466.4 C279.4,463.0 281.5,462.2 291.6,460.9 C301.7,459.6 310.7,459.9 320.8,458.6 C330.9,457.3 335.9,456.0 352.4,453.1 C368.9,450.2 402.6,444.4 420.0,441.0 C437.4,437.6 441.1,436.3 456.7,432.7 C472.3,429.1 494.6,424.2 513.5,419.4 C532.4,414.6 551.3,409.0 570.2,403.8 C589.1,398.6 609.1,393.5 627.0,388.2 C644.9,382.9 663.0,376.3 677.8,371.9 C692.6,367.5 703.0,364.9 715.6,361.8 C728.2,358.7 740.9,355.9 753.5,353.4 C766.1,350.9 778.7,348.9 791.3,346.6 C803.9,344.3 816.5,342.1 829.1,339.6 C841.7,337.1 854.3,334.2 866.9,331.8 C879.5,329.4 889.3,328.0 904.8,325.2 C920.3,322.4 943.5,318.3 960.0,315.2 C976.5,312.1 988.9,309.7 1003.9,306.4 C1018.9,303.1 1036.2,298.3 1050.0,295.4 C1063.8,292.5 1078.2,290.6 1087.0,289.0 C1095.8,287.4 1100.2,286.6 1102.8,286.1" fill="none" stroke="#1c1c8c" stroke-width="1.6" stroke-linecap="round"/>
<rect x="20.45" y="477.3" width="3.2" height="22.8" fill="#2c661c"/>
<rect x="19.05" y="493.5" width="1.7" height="3.2" fill="#2c661c"/>
<rect x="23.35" y="479.8" width="1.7" height="3.2" fill="#2c661c"/>
<rect x="24.57" y="476.0" width="3.2" height="12.7" fill="#2c661c"/>
<rect x="23.18" y="484.3" width="1.7" height="3.2" fill="#2c661c"/>
<rect x="27.48" y="476.7" width="1.7" height="3.2" fill="#2c661c"/>
<rect x="28.70" y="470.9" width="3.2" height="7.6" fill="#2c661c"/>
<rect x="27.30" y="475.3" width="1.7" height="3.2" fill="#2c661c"/>
<rect x="31.60" y="470.7" width="1.7" height="3.2" fill="#2c661c"/>
<rect x="32.82" y="457.0" width="3.2" height="13.9" fill="#2c661c"/>
<rect x="31.42" y="466.3" width="1.7" height="3.2" fill="#2c661c"/>
<rect x="35.72" y="457.9" width="1.7" height="3.2" fill="#2c661c"/>
<rect x="36.95" y="457.0" width="3.2" height="7.6" fill="#c81a22"/>
<rect x="35.55" y="456.9" width="1.7" height="3.2" fill="#c81a22"/>
<rect x="39.85" y="461.3" width="1.7" height="3.2" fill="#c81a22"/>
<rect x="41.07" y="451.3" width="3.2" height="12.7" fill="#2c661c"/>
<rect x="39.67" y="459.6" width="1.7" height="3.2" fill="#2c661c"/>
<rect x="43.97" y="452.0" width="1.7" height="3.2" fill="#2c661c"/>
<rect x="45.20" y="449.4" width="3.2" height="7.6" fill="#2c661c"/>
<rect x="43.80" y="453.8" width="1.7" height="3.2" fill="#2c661c"/>
<rect x="48.10" y="449.2" width="1.7" height="3.2" fill="#2c661c"/>
<rect x="49.32" y="443.7" width="3.2" height="10.8" fill="#2c661c"/>
<rect x="47.92" y="450.5" width="1.7" height="3.2" fill="#2c661c"/>
<rect x="52.22" y="444.1" width="1.7" height="3.2" fill="#2c661c"/>
<rect x="53.45" y="442.5" width="3.2" height="3.2" fill="#2c661c"/>
<rect x="52.05" y="443.3" width="1.7" height="3.2" fill="#2c661c"/>
<rect x="56.35" y="441.4" width="1.7" height="3.2" fill="#2c661c"/>
<rect x="57.57" y="438.7" width="3.2" height="5.7" fill="#2c661c"/>
<rect x="56.17" y="441.5" width="1.7" height="3.2" fill="#2c661c"/>
<rect x="60.47" y="438.1" width="1.7" height="3.2" fill="#2c661c"/>
<rect x="61.70" y="439.3" width="3.2" height="12.7" fill="#c81a22"/>
<rect x="60.30" y="440.2" width="1.7" height="3.2" fill="#c81a22"/>
<rect x="64.60" y="447.6" width="1.7" height="3.2" fill="#c81a22"/>
<rect x="65.83" y="437.4" width="3.2" height="10.8" fill="#2c661c"/>
<rect x="64.42" y="444.2" width="1.7" height="3.2" fill="#2c661c"/>
<rect x="68.72" y="437.7" width="1.7" height="3.2" fill="#2c661c"/>
<rect x="69.95" y="433.0" width="3.2" height="8.2" fill="#c81a22"/>
<rect x="68.55" y="433.0" width="1.7" height="3.2" fill="#c81a22"/>
<rect x="72.85" y="437.8" width="1.7" height="3.2" fill="#c81a22"/>
<rect x="74.08" y="435.5" width="3.2" height="8.2" fill="#2c661c"/>
<rect x="72.67" y="440.3" width="1.7" height="3.2" fill="#2c661c"/>
<rect x="76.97" y="435.4" width="1.7" height="3.2" fill="#2c661c"/>
<rect x="78.20" y="428.5" width="3.2" height="10.1" fill="#2c661c"/>
<rect x="76.80" y="434.8" width="1.7" height="3.2" fill="#2c661c"/>
<rect x="81.10" y="428.8" width="1.7" height="3.2" fill="#2c661c"/>
<rect x="82.33" y="427.3" width="3.2" height="5.1" fill="#2c661c"/>
<rect x="80.92" y="429.6" width="1.7" height="3.2" fill="#2c661c"/>
<rect x="85.22" y="426.6" width="1.7" height="3.2" fill="#2c661c"/>
<rect x="86.45" y="425.4" width="3.2" height="3.8" fill="#c81a22"/>
<rect x="85.05" y="424.5" width="1.7" height="3.2" fill="#c81a22"/>
<rect x="89.35" y="426.7" width="1.7" height="3.2" fill="#c81a22"/>
<rect x="90.58" y="422.2" width="3.2" height="6.3" fill="#2c661c"/>
<rect x="89.17" y="425.6" width="1.7" height="3.2" fill="#2c661c"/>
<rect x="93.47" y="421.8" width="1.7" height="3.2" fill="#2c661c"/>
<rect x="94.70" y="420.9" width="3.2" height="9.5" fill="#2c661c"/>
<rect x="93.30" y="426.8" width="1.7" height="3.2" fill="#2c661c"/>
<rect x="97.60" y="421.1" width="1.7" height="3.2" fill="#2c661c"/>
<rect x="98.83" y="422.2" width="3.2" height="16.5" fill="#c81a22"/>
<rect x="97.42" y="423.9" width="1.7" height="3.2" fill="#c81a22"/>
<rect x="101.72" y="433.5" width="1.7" height="3.2" fill="#c81a22"/>
<rect x="102.95" y="428.5" width="3.2" height="12.7" fill="#c81a22"/>
<rect x="101.55" y="429.5" width="1.7" height="3.2" fill="#c81a22"/>
<rect x="105.85" y="436.8" width="1.7" height="3.2" fill="#c81a22"/>
<rect x="107.08" y="433.0" width="3.2" height="8.2" fill="#c81a22"/>
<rect x="105.67" y="433.0" width="1.7" height="3.2" fill="#c81a22"/>
<rect x="109.97" y="437.8" width="1.7" height="3.2" fill="#c81a22"/>
<rect x="111.20" y="436.8" width="3.2" height="11.4" fill="#c81a22"/>
<rect x="109.80" y="437.5" width="1.7" height="3.2" fill="#c81a22"/>
<rect x="114.10" y="444.1" width="1.7" height="3.2" fill="#c81a22"/>
<rect x="115.33" y="430.4" width="3.2" height="19.6" fill="#2c661c"/>
<rect x="113.92" y="444.1" width="1.7" height="3.2" fill="#2c661c"/>
<rect x="118.22" y="432.4" width="1.7" height="3.2" fill="#2c661c"/>
<rect x="119.45" y="427.3" width="3.2" height="6.3" fill="#2c661c"/>
<rect x="118.05" y="430.6" width="1.7" height="3.2" fill="#2c661c"/>
<rect x="122.35" y="426.8" width="1.7" height="3.2" fill="#2c661c"/>
<rect x="123.58" y="419.7" width="3.2" height="12.7" fill="#2c661c"/>
<rect x="122.17" y="428.0" width="1.7" height="3.2" fill="#2c661c"/>
<rect x="126.47" y="420.4" width="1.7" height="3.2" fill="#2c661c"/>
<rect x="127.70" y="420.9" width="3.2" height="5.7" fill="#c81a22"/>
<rect x="126.30" y="420.5" width="1.7" height="3.2" fill="#c81a22"/>
<rect x="130.60" y="423.8" width="1.7" height="3.2" fill="#c81a22"/>
<rect x="131.83" y="415.3" width="3.2" height="5.1" fill="#2c661c"/>
<rect x="130.43" y="417.6" width="1.7" height="3.2" fill="#2c661c"/>
<rect x="134.73" y="414.6" width="1.7" height="3.2" fill="#2c661c"/>
<rect x="135.95" y="413.7" width="3.2" height="6.6" fill="#2c661c"/>
<rect x="134.55" y="417.3" width="1.7" height="3.2" fill="#2c661c"/>
<rect x="138.85" y="413.3" width="1.7" height="3.2" fill="#2c661c"/>
<rect x="140.08" y="412.1" width="3.2" height="6.3" fill="#c81a22"/>
<rect x="138.68" y="411.8" width="1.7" height="3.2" fill="#c81a22"/>
<rect x="142.98" y="415.4" width="1.7" height="3.2" fill="#c81a22"/>
<rect x="144.20" y="412.1" width="3.2" height="7.6" fill="#2c661c"/>
<rect x="142.80" y="416.4" width="1.7" height="3.2" fill="#2c661c"/>
<rect x="147.10" y="411.9" width="1.7" height="3.2" fill="#2c661c"/>
<rect x="148.33" y="412.1" width="3.2" height="13.9" fill="#c81a22"/>
<rect x="146.93" y="413.3" width="1.7" height="3.2" fill="#c81a22"/>
<rect x="151.23" y="421.3" width="1.7" height="3.2" fill="#c81a22"/>
<rect x="152.45" y="424.1" width="3.2" height="14.6" fill="#c81a22"/>
<rect x="151.05" y="425.4" width="1.7" height="3.2" fill="#c81a22"/>
<rect x="155.35" y="433.9" width="1.7" height="3.2" fill="#c81a22"/>
<rect x="156.58" y="422.8" width="3.2" height="15.8" fill="#c81a22"/>
<rect x="155.18" y="424.4" width="1.7" height="3.2" fill="#c81a22"/>
<rect x="159.48" y="433.6" width="1.7" height="3.2" fill="#c81a22"/>
<rect x="160.70" y="423.5" width="3.2" height="13.3" fill="#c81a22"/>
<rect x="159.30" y="424.5" width="1.7" height="3.2" fill="#c81a22"/>
<rect x="163.60" y="432.2" width="1.7" height="3.2" fill="#c81a22"/>
<rect x="164.83" y="424.1" width="3.2" height="11.4" fill="#2c661c"/>
<rect x="163.43" y="431.4" width="1.7" height="3.2" fill="#2c661c"/>
<rect x="167.73" y="424.6" width="1.7" height="3.2" fill="#2c661c"/>
<rect x="168.95" y="417.3" width="3.2" height="12.0" fill="#2c661c"/>
<rect x="167.55" y="425.1" width="1.7" height="3.2" fill="#2c661c"/>
<rect x="171.85" y="417.8" width="1.7" height="3.2" fill="#2c661c"/>
<rect x="173.08" y="412.2" width="3.2" height="8.9" fill="#2c661c"/>
<rect x="171.68" y="417.5" width="1.7" height="3.2" fill="#2c661c"/>
<rect x="175.98" y="412.2" width="1.7" height="3.2" fill="#2c661c"/>
<rect x="177.20" y="411.6" width="3.2" height="7.0" fill="#c81a22"/>
<rect x="175.80" y="411.4" width="1.7" height="3.2" fill="#c81a22"/>
<rect x="180.10" y="415.4" width="1.7" height="3.2" fill="#c81a22"/>
<rect x="181.33" y="413.5" width="3.2" height="6.3" fill="#c81a22"/>
<rect x="179.93" y="413.1" width="1.7" height="3.2" fill="#c81a22"/>
<rect x="184.23" y="416.8" width="1.7" height="3.2" fill="#c81a22"/>
<rect x="185.45" y="416.6" width="3.2" height="17.1" fill="#c81a22"/>
<rect x="184.05" y="418.5" width="1.7" height="3.2" fill="#c81a22"/>
<rect x="188.35" y="428.4" width="1.7" height="3.2" fill="#c81a22"/>
<rect x="189.58" y="416.6" width="3.2" height="12.7" fill="#2c661c"/>
<rect x="188.18" y="424.9" width="1.7" height="3.2" fill="#2c661c"/>
<rect x="192.48" y="417.3" width="1.7" height="3.2" fill="#2c661c"/>
<rect x="193.70" y="414.1" width="3.2" height="7.0" fill="#2c661c"/>
<rect x="192.30" y="417.9" width="1.7" height="3.2" fill="#2c661c"/>
<rect x="196.60" y="413.8" width="1.7" height="3.2" fill="#2c661c"/>
<rect x="197.83" y="412.2" width="3.2" height="6.3" fill="#2c661c"/>
<rect x="196.43" y="415.6" width="1.7" height="3.2" fill="#2c661c"/>
<rect x="200.73" y="411.8" width="1.7" height="3.2" fill="#2c661c"/>
<rect x="201.95" y="406.5" width="3.2" height="9.5" fill="#2c661c"/>
<rect x="200.55" y="412.3" width="1.7" height="3.2" fill="#2c661c"/>
<rect x="204.85" y="406.6" width="1.7" height="3.2" fill="#2c661c"/>
<rect x="206.08" y="403.4" width="3.2" height="6.3" fill="#2c661c"/>
<rect x="204.68" y="406.7" width="1.7" height="3.2" fill="#2c661c"/>
<rect x="208.98" y="402.9" width="1.7" height="3.2" fill="#2c661c"/>
<rect x="210.20" y="400.2" width="3.2" height="5.7" fill="#2c661c"/>
<rect x="208.80" y="403.0" width="1.7" height="3.2" fill="#2c661c"/>
<rect x="213.10" y="399.6" width="1.7" height="3.2" fill="#2c661c"/>
<rect x="214.33" y="398.9" width="3.2" height="5.1" fill="#c81a22"/>
<rect x="212.93" y="398.3" width="1.7" height="3.2" fill="#c81a22"/>
<rect x="217.23" y="401.3" width="1.7" height="3.2" fill="#c81a22"/>
<rect x="218.45" y="395.8" width="3.2" height="5.1" fill="#2c661c"/>
<rect x="217.05" y="398.1" width="1.7" height="3.2" fill="#2c661c"/>
<rect x="221.35" y="395.1" width="1.7" height="3.2" fill="#2c661c"/>
<rect x="222.58" y="396.4" width="3.2" height="10.8" fill="#2c661c"/>
<rect x="221.18" y="403.2" width="1.7" height="3.2" fill="#2c661c"/>
<rect x="225.48" y="396.7" width="1.7" height="3.2" fill="#2c661c"/>
<rect x="226.70" y="391.3" width="3.2" height="8.2" fill="#2c661c"/>
<rect x="225.30" y="396.1" width="1.7" height="3.2" fill="#2c661c"/>
<rect x="229.60" y="391.2" width="1.7" height="3.2" fill="#2c661c"/>
<rect x="230.83" y="386.3" width="3.2" height="8.2" fill="#2c661c"/>
<rect x="229.43" y="391.1" width="1.7" height="3.2" fill="#2c661c"/>
<rect x="233.73" y="386.1" width="1.7" height="3.2" fill="#2c661c"/>
<rect x="234.95" y="383.1" width="3.2" height="5.7" fill="#2c661c"/>
<rect x="233.55" y="385.9" width="1.7" height="3.2" fill="#2c661c"/>
<rect x="237.85" y="382.5" width="1.7" height="3.2" fill="#2c661c"/>
<rect x="239.08" y="381.8" width="3.2" height="7.0" fill="#c81a22"/>
<rect x="237.68" y="381.6" width="1.7" height="3.2" fill="#c81a22"/>
<rect x="241.98" y="385.7" width="1.7" height="3.2" fill="#c81a22"/>
<rect x="243.20" y="379.3" width="3.2" height="10.1" fill="#2c661c"/>
<rect x="241.80" y="385.6" width="1.7" height="3.2" fill="#2c661c"/>
<rect x="246.10" y="379.5" width="1.7" height="3.2" fill="#2c661c"/>
<rect x="247.33" y="373.0" width="3.2" height="10.1" fill="#2c661c"/>
<rect x="245.93" y="379.3" width="1.7" height="3.2" fill="#2c661c"/>
<rect x="250.23" y="373.2" width="1.7" height="3.2" fill="#2c661c"/>
<rect x="251.45" y="371.7" width="3.2" height="8.2" fill="#c81a22"/>
<rect x="250.05" y="371.8" width="1.7" height="3.2" fill="#c81a22"/>
<rect x="254.35" y="376.5" width="1.7" height="3.2" fill="#c81a22"/>
<rect x="255.58" y="378.0" width="3.2" height="9.5" fill="#c81a22"/>
<rect x="254.18" y="378.3" width="1.7" height="3.2" fill="#c81a22"/>
<rect x="258.48" y="383.8" width="1.7" height="3.2" fill="#c81a22"/>
<rect x="259.70" y="369.8" width="3.2" height="15.8" fill="#2c661c"/>
<rect x="258.30" y="380.6" width="1.7" height="3.2" fill="#2c661c"/>
<rect x="262.60" y="371.1" width="1.7" height="3.2" fill="#2c661c"/>
<rect x="263.82" y="365.4" width="3.2" height="10.1" fill="#2c661c"/>
<rect x="262.43" y="371.7" width="1.7" height="3.2" fill="#2c661c"/>
<rect x="266.73" y="365.6" width="1.7" height="3.2" fill="#2c661c"/>
<rect x="267.95" y="364.1" width="3.2" height="9.5" fill="#c81a22"/>
<rect x="266.55" y="364.4" width="1.7" height="3.2" fill="#c81a22"/>
<rect x="270.85" y="369.9" width="1.7" height="3.2" fill="#c81a22"/>
<rect x="272.07" y="381.8" width="3.2" height="51.9" fill="#c81a22"/>
<rect x="270.68" y="390.6" width="1.7" height="3.2" fill="#c81a22"/>
<rect x="274.98" y="420.7" width="1.7" height="3.2" fill="#c81a22"/>
<rect x="276.20" y="397.0" width="3.2" height="31.0" fill="#2c661c"/>
<rect x="274.80" y="419.6" width="1.7" height="3.2" fill="#2c661c"/>
<rect x="279.10" y="401.0" width="1.7" height="3.2" fill="#2c661c"/>
<rect x="280.32" y="430.3" width="3.2" height="53.8" fill="#c81a22"/>
<rect x="278.93" y="439.5" width="1.7" height="3.2" fill="#c81a22"/>
<rect x="283.23" y="470.7" width="1.7" height="3.2" fill="#c81a22"/>
<rect x="284.45" y="472.1" width="3.2" height="37.3" fill="#c81a22"/>
<rect x="283.05" y="478.0" width="1.7" height="3.2" fill="#c81a22"/>
<rect x="287.35" y="499.6" width="1.7" height="3.2" fill="#c81a22"/>
<rect x="288.57" y="462.0" width="3.2" height="58.2" fill="#2c661c"/>
<rect x="287.18" y="505.8" width="1.7" height="3.2" fill="#2c661c"/>
<rect x="291.48" y="470.8" width="1.7" height="3.2" fill="#2c661c"/>
<rect x="292.70" y="461.3" width="3.2" height="27.2" fill="#c81a22"/>
<rect x="291.30" y="465.2" width="1.7" height="3.2" fill="#c81a22"/>
<rect x="295.60" y="481.0" width="1.7" height="3.2" fill="#c81a22"/>
<rect x="296.82" y="439.2" width="3.2" height="31.6" fill="#2c661c"/>
<rect x="295.43" y="462.3" width="1.7" height="3.2" fill="#2c661c"/>
<rect x="299.73" y="443.3" width="1.7" height="3.2" fill="#2c661c"/>
<rect x="300.95" y="430.3" width="3.2" height="20.9" fill="#2c661c"/>
<rect x="299.55" y="445.0" width="1.7" height="3.2" fill="#2c661c"/>
<rect x="303.85" y="432.5" width="1.7" height="3.2" fill="#2c661c"/>
<rect x="305.07" y="432.2" width="3.2" height="17.7" fill="#c81a22"/>
<rect x="303.68" y="434.2" width="1.7" height="3.2" fill="#c81a22"/>
<rect x="307.98" y="444.4" width="1.7" height="3.2" fill="#c81a22"/>
<rect x="309.20" y="420.8" width="3.2" height="17.1" fill="#c81a22"/>
<rect x="307.80" y="422.6" width="1.7" height="3.2" fill="#c81a22"/>
<rect x="312.10" y="432.6" width="1.7" height="3.2" fill="#c81a22"/>
<rect x="313.32" y="424.6" width="3.2" height="16.5" fill="#2c661c"/>
<rect x="311.93" y="435.9" width="1.7" height="3.2" fill="#2c661c"/>
<rect x="316.23" y="426.0" width="1.7" height="3.2" fill="#2c661c"/>
<rect x="317.45" y="422.7" width="3.2" height="22.8" fill="#c81a22"/>
<rect x="316.05" y="425.7" width="1.7" height="3.2" fill="#c81a22"/>
<rect x="320.35" y="438.9" width="1.7" height="3.2" fill="#c81a22"/>
<rect x="321.57" y="417.6" width="3.2" height="8.9" fill="#2c661c"/>
<rect x="320.18" y="422.9" width="1.7" height="3.2" fill="#2c661c"/>
<rect x="324.48" y="417.6" width="1.7" height="3.2" fill="#2c661c"/>
<rect x="325.70" y="406.2" width="3.2" height="13.9" fill="#2c661c"/>
<rect x="324.30" y="415.5" width="1.7" height="3.2" fill="#2c661c"/>
<rect x="328.60" y="407.1" width="1.7" height="3.2" fill="#2c661c"/>
<rect x="329.82" y="387.8" width="3.2" height="23.4" fill="#2c661c"/>
<rect x="328.43" y="404.5" width="1.7" height="3.2" fill="#2c661c"/>
<rect x="332.73" y="390.5" width="1.7" height="3.2" fill="#2c661c"/>
<rect x="333.95" y="384.7" width="3.2" height="31.6" fill="#c81a22"/>
<rect x="332.55" y="389.4" width="1.7" height="3.2" fill="#c81a22"/>
<rect x="336.85" y="407.8" width="1.7" height="3.2" fill="#c81a22"/>
<rect x="338.07" y="396.1" width="3.2" height="24.1" fill="#2c661c"/>
<rect x="336.68" y="413.2" width="1.7" height="3.2" fill="#2c661c"/>
<rect x="340.98" y="398.8" width="1.7" height="3.2" fill="#2c661c"/>
<rect x="342.20" y="395.4" width="3.2" height="20.3" fill="#c81a22"/>
<rect x="340.80" y="397.9" width="1.7" height="3.2" fill="#c81a22"/>
<rect x="345.10" y="409.6" width="1.7" height="3.2" fill="#c81a22"/>
<rect x="346.32" y="394.2" width="3.2" height="21.5" fill="#2c661c"/>
<rect x="344.93" y="409.4" width="1.7" height="3.2" fill="#2c661c"/>
<rect x="349.23" y="396.5" width="1.7" height="3.2" fill="#2c661c"/>
<rect x="350.45" y="391.0" width="3.2" height="10.1" fill="#2c661c"/>
<rect x="349.05" y="397.3" width="1.7" height="3.2" fill="#2c661c"/>
<rect x="353.35" y="391.2" width="1.7" height="3.2" fill="#2c661c"/>
<rect x="354.57" y="383.4" width="3.2" height="16.5" fill="#2c661c"/>
<rect x="353.18" y="394.7" width="1.7" height="3.2" fill="#2c661c"/>
<rect x="357.48" y="384.8" width="1.7" height="3.2" fill="#2c661c"/>
<rect x="358.70" y="379.0" width="3.2" height="11.4" fill="#c81a22"/>
<rect x="357.30" y="379.7" width="1.7" height="3.2" fill="#c81a22"/>
<rect x="361.60" y="386.3" width="1.7" height="3.2" fill="#c81a22"/>
<rect x="362.82" y="380.3" width="3.2" height="8.9" fill="#2c661c"/>
<rect x="361.43" y="385.6" width="1.7" height="3.2" fill="#2c661c"/>
<rect x="365.73" y="380.2" width="1.7" height="3.2" fill="#2c661c"/>
<rect x="366.95" y="370.8" width="3.2" height="7.6" fill="#2c661c"/>
<rect x="365.55" y="375.1" width="1.7" height="3.2" fill="#2c661c"/>
<rect x="369.85" y="370.5" width="1.7" height="3.2" fill="#2c661c"/>
<rect x="371.07" y="365.7" width="3.2" height="7.6" fill="#2c661c"/>
<rect x="369.68" y="370.0" width="1.7" height="3.2" fill="#2c661c"/>
<rect x="373.98" y="365.5" width="1.7" height="3.2" fill="#2c661c"/>
<rect x="375.20" y="363.8" width="3.2" height="5.7" fill="#2c661c"/>
<rect x="373.80" y="366.6" width="1.7" height="3.2" fill="#2c661c"/>
<rect x="378.10" y="363.2" width="1.7" height="3.2" fill="#2c661c"/>
<rect x="379.32" y="348.6" width="3.2" height="13.3" fill="#2c661c"/>
<rect x="377.93" y="357.4" width="1.7" height="3.2" fill="#2c661c"/>
<rect x="382.23" y="349.4" width="1.7" height="3.2" fill="#2c661c"/>
<rect x="383.45" y="338.5" width="3.2" height="31.0" fill="#c81a22"/>
<rect x="382.05" y="343.1" width="1.7" height="3.2" fill="#c81a22"/>
<rect x="386.35" y="361.1" width="1.7" height="3.2" fill="#c81a22"/>
<rect x="387.57" y="358.1" width="3.2" height="17.1" fill="#c81a22"/>
<rect x="386.18" y="359.9" width="1.7" height="3.2" fill="#c81a22"/>
<rect x="390.48" y="369.8" width="1.7" height="3.2" fill="#c81a22"/>
<rect x="391.70" y="359.4" width="3.2" height="19.0" fill="#c81a22"/>
<rect x="390.30" y="361.6" width="1.7" height="3.2" fill="#c81a22"/>
<rect x="394.60" y="372.6" width="1.7" height="3.2" fill="#c81a22"/>
<rect x="395.82" y="373.3" width="3.2" height="15.8" fill="#c81a22"/>
<rect x="394.43" y="374.9" width="1.7" height="3.2" fill="#c81a22"/>
<rect x="398.73" y="384.0" width="1.7" height="3.2" fill="#c81a22"/>
<rect x="399.95" y="364.4" width="3.2" height="8.9" fill="#2c661c"/>
<rect x="398.55" y="369.7" width="1.7" height="3.2" fill="#2c661c"/>
<rect x="402.85" y="364.4" width="1.7" height="3.2" fill="#2c661c"/>
<rect x="404.07" y="351.8" width="3.2" height="17.7" fill="#2c661c"/>
<rect x="402.68" y="364.0" width="1.7" height="3.2" fill="#2c661c"/>
<rect x="406.98" y="353.4" width="1.7" height="3.2" fill="#2c661c"/>
<rect x="408.20" y="344.2" width="3.2" height="14.6" fill="#2c661c"/>
<rect x="406.80" y="353.9" width="1.7" height="3.2" fill="#2c661c"/>
<rect x="411.10" y="345.2" width="1.7" height="3.2" fill="#2c661c"/>
<rect x="412.32" y="350.5" width="3.2" height="11.4" fill="#c81a22"/>
<rect x="410.93" y="351.2" width="1.7" height="3.2" fill="#c81a22"/>
<rect x="415.23" y="357.8" width="1.7" height="3.2" fill="#c81a22"/>
<rect x="416.45" y="357.5" width="3.2" height="28.5" fill="#c81a22"/>
<rect x="415.05" y="361.6" width="1.7" height="3.2" fill="#c81a22"/>
<rect x="419.35" y="378.1" width="1.7" height="3.2" fill="#c81a22"/>
<rect x="420.57" y="346.1" width="3.2" height="33.5" fill="#2c661c"/>
<rect x="419.18" y="370.6" width="1.7" height="3.2" fill="#2c661c"/>
<rect x="423.48" y="350.5" width="1.7" height="3.2" fill="#2c661c"/>
<rect x="424.70" y="330.9" width="3.2" height="19.6" fill="#2c661c"/>
<rect x="423.30" y="344.6" width="1.7" height="3.2" fill="#2c661c"/>
<rect x="427.60" y="332.8" width="1.7" height="3.2" fill="#2c661c"/>
<rect x="428.82" y="334.1" width="3.2" height="11.4" fill="#c81a22"/>
<rect x="427.43" y="334.7" width="1.7" height="3.2" fill="#c81a22"/>
<rect x="431.73" y="341.3" width="1.7" height="3.2" fill="#c81a22"/>
<rect x="432.95" y="332.8" width="3.2" height="10.8" fill="#2c661c"/>
<rect x="431.55" y="339.6" width="1.7" height="3.2" fill="#2c661c"/>
<rect x="435.85" y="333.1" width="1.7" height="3.2" fill="#2c661c"/>
<rect x="437.07" y="325.2" width="3.2" height="14.6" fill="#2c661c"/>
<rect x="435.68" y="334.9" width="1.7" height="3.2" fill="#2c661c"/>
<rect x="439.98" y="326.2" width="1.7" height="3.2" fill="#2c661c"/>
<rect x="441.20" y="323.3" width="3.2" height="10.1" fill="#c81a22"/>
<rect x="439.80" y="323.7" width="1.7" height="3.2" fill="#c81a22"/>
<rect x="444.10" y="329.6" width="1.7" height="3.2" fill="#c81a22"/>
<rect x="445.32" y="320.8" width="3.2" height="10.8" fill="#2c661c"/>
<rect x="443.93" y="327.6" width="1.7" height="3.2" fill="#2c661c"/>
<rect x="448.23" y="321.1" width="1.7" height="3.2" fill="#2c661c"/>
<rect x="449.45" y="323.3" width="3.2" height="10.1" fill="#c81a22"/>
<rect x="448.05" y="323.7" width="1.7" height="3.2" fill="#c81a22"/>
<rect x="452.35" y="329.6" width="1.7" height="3.2" fill="#c81a22"/>
<rect x="453.57" y="317.5" width="3.2" height="10.1" fill="#2c661c"/>
<rect x="452.18" y="323.8" width="1.7" height="3.2" fill="#2c661c"/>
<rect x="456.48" y="317.8" width="1.7" height="3.2" fill="#2c661c"/>
<rect x="457.70" y="308.7" width="3.2" height="21.5" fill="#2c661c"/>
<rect x="456.30" y="323.9" width="1.7" height="3.2" fill="#2c661c"/>
<rect x="460.60" y="310.9" width="1.7" height="3.2" fill="#2c661c"/>
<rect x="461.82" y="308.7" width="3.2" height="9.5" fill="#c81a22"/>
<rect x="460.43" y="309.0" width="1.7" height="3.2" fill="#c81a22"/>
<rect x="464.73" y="314.5" width="1.7" height="3.2" fill="#c81a22"/>
<rect x="465.95" y="304.2" width="3.2" height="10.8" fill="#2c661c"/>
<rect x="464.55" y="311.0" width="1.7" height="3.2" fill="#2c661c"/>
<rect x="468.85" y="304.6" width="1.7" height="3.2" fill="#2c661c"/>
<rect x="470.07" y="302.3" width="3.2" height="23.4" fill="#c81a22"/>
<rect x="468.68" y="305.4" width="1.7" height="3.2" fill="#c81a22"/>
<rect x="472.98" y="319.0" width="1.7" height="3.2" fill="#c81a22"/>
<rect x="474.20" y="299.8" width="3.2" height="22.8" fill="#2c661c"/>
<rect x="472.80" y="316.0" width="1.7" height="3.2" fill="#2c661c"/>
<rect x="477.10" y="302.3" width="1.7" height="3.2" fill="#2c661c"/>
<rect x="478.32" y="294.1" width="3.2" height="8.2" fill="#2c661c"/>
<rect x="476.93" y="298.9" width="1.7" height="3.2" fill="#2c661c"/>
<rect x="481.23" y="294.0" width="1.7" height="3.2" fill="#2c661c"/>
<rect x="482.45" y="292.2" width="3.2" height="10.1" fill="#c81a22"/>
<rect x="481.05" y="292.6" width="1.7" height="3.2" fill="#c81a22"/>
<rect x="485.35" y="298.5" width="1.7" height="3.2" fill="#c81a22"/>
<rect x="486.57" y="294.7" width="3.2" height="19.0" fill="#c81a22"/>
<rect x="485.18" y="296.9" width="1.7" height="3.2" fill="#c81a22"/>
<rect x="489.48" y="308.0" width="1.7" height="3.2" fill="#c81a22"/>
<rect x="490.70" y="296.6" width="3.2" height="25.9" fill="#2c661c"/>
<rect x="489.30" y="315.3" width="1.7" height="3.2" fill="#2c661c"/>
<rect x="493.60" y="299.7" width="1.7" height="3.2" fill="#2c661c"/>
<rect x="494.82" y="290.9" width="3.2" height="18.4" fill="#2c661c"/>
<rect x="493.43" y="303.7" width="1.7" height="3.2" fill="#2c661c"/>
<rect x="497.73" y="292.7" width="1.7" height="3.2" fill="#2c661c"/>
<rect x="498.95" y="287.8" width="3.2" height="14.6" fill="#c81a22"/>
<rect x="497.55" y="289.1" width="1.7" height="3.2" fill="#c81a22"/>
<rect x="501.85" y="297.5" width="1.7" height="3.2" fill="#c81a22"/>
<rect x="503.07" y="289.7" width="3.2" height="16.5" fill="#2c661c"/>
<rect x="501.68" y="300.9" width="1.7" height="3.2" fill="#2c661c"/>
<rect x="505.98" y="291.0" width="1.7" height="3.2" fill="#2c661c"/>
<rect x="507.20" y="283.4" width="3.2" height="12.7" fill="#2c661c"/>
<rect x="505.80" y="291.6" width="1.7" height="3.2" fill="#2c661c"/>
<rect x="510.10" y="284.0" width="1.7" height="3.2" fill="#2c661c"/>
<rect x="511.32" y="269.4" width="3.2" height="12.7" fill="#2c661c"/>
<rect x="509.92" y="277.7" width="1.7" height="3.2" fill="#2c661c"/>
<rect x="514.22" y="270.1" width="1.7" height="3.2" fill="#2c661c"/>
<rect x="515.45" y="261.2" width="3.2" height="10.8" fill="#2c661c"/>
<rect x="514.05" y="268.0" width="1.7" height="3.2" fill="#2c661c"/>
<rect x="518.35" y="261.5" width="1.7" height="3.2" fill="#2c661c"/>
<rect x="519.57" y="260.6" width="3.2" height="11.4" fill="#c81a22"/>
<rect x="518.17" y="261.2" width="1.7" height="3.2" fill="#c81a22"/>
<rect x="522.47" y="267.9" width="1.7" height="3.2" fill="#c81a22"/>
<rect x="523.70" y="258.0" width="3.2" height="7.6" fill="#2c661c"/>
<rect x="522.30" y="262.4" width="1.7" height="3.2" fill="#2c661c"/>
<rect x="526.60" y="257.8" width="1.7" height="3.2" fill="#2c661c"/>
<rect x="527.82" y="254.9" width="3.2" height="15.8" fill="#2c661c"/>
<rect x="526.42" y="265.6" width="1.7" height="3.2" fill="#2c661c"/>
<rect x="530.72" y="256.1" width="1.7" height="3.2" fill="#2c661c"/>
<rect x="531.95" y="256.1" width="3.2" height="23.4" fill="#c81a22"/>
<rect x="530.55" y="259.2" width="1.7" height="3.2" fill="#c81a22"/>
<rect x="534.85" y="272.8" width="1.7" height="3.2" fill="#c81a22"/>
<rect x="536.07" y="261.8" width="3.2" height="17.7" fill="#c81a22"/>
<rect x="534.67" y="263.8" width="1.7" height="3.2" fill="#c81a22"/>
<rect x="538.97" y="274.1" width="1.7" height="3.2" fill="#c81a22"/>
<rect x="540.20" y="258.0" width="3.2" height="7.6" fill="#2c661c"/>
<rect x="538.80" y="262.4" width="1.7" height="3.2" fill="#2c661c"/>
<rect x="543.10" y="257.8" width="1.7" height="3.2" fill="#2c661c"/>
<rect x="544.32" y="256.1" width="3.2" height="7.6" fill="#2c661c"/>
<rect x="542.92" y="260.5" width="1.7" height="3.2" fill="#2c661c"/>
<rect x="547.22" y="255.9" width="1.7" height="3.2" fill="#2c661c"/>
<rect x="548.45" y="253.6" width="3.2" height="8.2" fill="#2c661c"/>
<rect x="547.05" y="258.4" width="1.7" height="3.2" fill="#2c661c"/>
<rect x="551.35" y="253.5" width="1.7" height="3.2" fill="#2c661c"/>
<rect x="552.57" y="253.6" width="3.2" height="12.0" fill="#c81a22"/>
<rect x="551.17" y="254.4" width="1.7" height="3.2" fill="#c81a22"/>
<rect x="555.47" y="261.4" width="1.7" height="3.2" fill="#c81a22"/>
<rect x="556.70" y="248.5" width="3.2" height="15.8" fill="#2c661c"/>
<rect x="555.30" y="259.3" width="1.7" height="3.2" fill="#2c661c"/>
<rect x="559.60" y="249.8" width="1.7" height="3.2" fill="#2c661c"/>
<rect x="560.82" y="239.7" width="3.2" height="12.0" fill="#2c661c"/>
<rect x="559.42" y="247.5" width="1.7" height="3.2" fill="#2c661c"/>
<rect x="563.72" y="240.2" width="1.7" height="3.2" fill="#2c661c"/>
<rect x="564.95" y="238.4" width="3.2" height="10.8" fill="#2c661c"/>
<rect x="563.55" y="245.2" width="1.7" height="3.2" fill="#2c661c"/>
<rect x="567.85" y="238.8" width="1.7" height="3.2" fill="#2c661c"/>
<rect x="569.07" y="235.3" width="3.2" height="9.5" fill="#c81a22"/>
<rect x="567.67" y="235.6" width="1.7" height="3.2" fill="#c81a22"/>
<rect x="571.97" y="241.1" width="1.7" height="3.2" fill="#c81a22"/>
<rect x="573.20" y="232.7" width="3.2" height="24.1" fill="#2c661c"/>
<rect x="571.80" y="249.9" width="1.7" height="3.2" fill="#2c661c"/>
<rect x="576.10" y="235.5" width="1.7" height="3.2" fill="#2c661c"/>
<rect x="577.32" y="230.8" width="3.2" height="7.6" fill="#c81a22"/>
<rect x="575.92" y="230.7" width="1.7" height="3.2" fill="#c81a22"/>
<rect x="580.22" y="235.1" width="1.7" height="3.2" fill="#c81a22"/>
<rect x="581.45" y="229.6" width="3.2" height="9.5" fill="#2c661c"/>
<rect x="580.05" y="235.4" width="1.7" height="3.2" fill="#2c661c"/>
<rect x="584.35" y="229.7" width="1.7" height="3.2" fill="#2c661c"/>
<rect x="585.57" y="226.4" width="3.2" height="8.9" fill="#2c661c"/>
<rect x="584.17" y="231.7" width="1.7" height="3.2" fill="#2c661c"/>
<rect x="588.47" y="226.4" width="1.7" height="3.2" fill="#2c661c"/>
<rect x="589.70" y="224.4" width="3.2" height="14.6" fill="#c81a22"/>
<rect x="588.30" y="225.7" width="1.7" height="3.2" fill="#c81a22"/>
<rect x="592.60" y="234.2" width="1.7" height="3.2" fill="#c81a22"/>
<rect x="593.82" y="220.0" width="3.2" height="8.2" fill="#2c661c"/>
<rect x="592.42" y="224.8" width="1.7" height="3.2" fill="#2c661c"/>
<rect x="596.72" y="219.9" width="1.7" height="3.2" fill="#2c661c"/>
<rect x="597.95" y="215.6" width="3.2" height="5.1" fill="#2c661c"/>
<rect x="596.55" y="217.9" width="1.7" height="3.2" fill="#2c661c"/>
<rect x="600.85" y="214.9" width="1.7" height="3.2" fill="#2c661c"/>
<rect x="602.07" y="216.8" width="3.2" height="10.8" fill="#c81a22"/>
<rect x="600.67" y="217.4" width="1.7" height="3.2" fill="#c81a22"/>
<rect x="604.97" y="223.6" width="1.7" height="3.2" fill="#c81a22"/>
<rect x="606.20" y="223.2" width="3.2" height="8.2" fill="#c81a22"/>
<rect x="604.80" y="223.2" width="1.7" height="3.2" fill="#c81a22"/>
<rect x="609.10" y="228.0" width="1.7" height="3.2" fill="#c81a22"/>
<rect x="610.32" y="226.3" width="3.2" height="20.9" fill="#2c661c"/>
<rect x="608.92" y="241.0" width="1.7" height="3.2" fill="#2c661c"/>
<rect x="613.22" y="228.5" width="1.7" height="3.2" fill="#2c661c"/>
<rect x="614.45" y="227.6" width="3.2" height="22.2" fill="#c81a22"/>
<rect x="613.05" y="230.4" width="1.7" height="3.2" fill="#c81a22"/>
<rect x="617.35" y="243.3" width="1.7" height="3.2" fill="#c81a22"/>
<rect x="618.57" y="230.8" width="3.2" height="20.3" fill="#2c661c"/>
<rect x="617.17" y="245.0" width="1.7" height="3.2" fill="#2c661c"/>
<rect x="621.47" y="232.8" width="1.7" height="3.2" fill="#2c661c"/>
<rect x="622.70" y="224.4" width="3.2" height="20.9" fill="#2c661c"/>
<rect x="621.30" y="239.1" width="1.7" height="3.2" fill="#2c661c"/>
<rect x="625.60" y="226.6" width="1.7" height="3.2" fill="#2c661c"/>
<rect x="626.82" y="214.3" width="3.2" height="13.9" fill="#2c661c"/>
<rect x="625.42" y="223.6" width="1.7" height="3.2" fill="#2c661c"/>
<rect x="629.72" y="215.2" width="1.7" height="3.2" fill="#2c661c"/>
<rect x="630.95" y="208.0" width="3.2" height="9.5" fill="#2c661c"/>
<rect x="629.55" y="213.8" width="1.7" height="3.2" fill="#2c661c"/>
<rect x="633.85" y="208.1" width="1.7" height="3.2" fill="#2c661c"/>
<rect x="635.07" y="205.4" width="3.2" height="5.1" fill="#2c661c"/>
<rect x="633.67" y="207.8" width="1.7" height="3.2" fill="#2c661c"/>
<rect x="637.97" y="204.8" width="1.7" height="3.2" fill="#2c661c"/>
<rect x="639.20" y="192.8" width="3.2" height="13.9" fill="#2c661c"/>
<rect x="637.80" y="202.0" width="1.7" height="3.2" fill="#2c661c"/>
<rect x="642.10" y="193.7" width="1.7" height="3.2" fill="#2c661c"/>
<rect x="643.32" y="193.4" width="3.2" height="12.0" fill="#c81a22"/>
<rect x="641.92" y="194.2" width="1.7" height="3.2" fill="#c81a22"/>
<rect x="646.22" y="201.2" width="1.7" height="3.2" fill="#c81a22"/>
<rect x="647.45" y="193.4" width="3.2" height="6.3" fill="#2c661c"/>
<rect x="646.05" y="196.8" width="1.7" height="3.2" fill="#2c661c"/>
<rect x="650.35" y="193.0" width="1.7" height="3.2" fill="#2c661c"/>
<rect x="651.57" y="189.6" width="3.2" height="22.2" fill="#c81a22"/>
<rect x="650.17" y="192.5" width="1.7" height="3.2" fill="#c81a22"/>
<rect x="654.47" y="205.3" width="1.7" height="3.2" fill="#c81a22"/>
<rect x="655.70" y="199.1" width="3.2" height="22.8" fill="#c81a22"/>
<rect x="654.30" y="202.1" width="1.7" height="3.2" fill="#c81a22"/>
<rect x="658.60" y="215.3" width="1.7" height="3.2" fill="#c81a22"/>
<rect x="659.82" y="194.7" width="3.2" height="21.5" fill="#2c661c"/>
<rect x="658.42" y="209.9" width="1.7" height="3.2" fill="#2c661c"/>
<rect x="662.72" y="197.0" width="1.7" height="3.2" fill="#2c661c"/>
<rect x="663.95" y="191.5" width="3.2" height="16.5" fill="#c81a22"/>
<rect x="662.55" y="193.2" width="1.7" height="3.2" fill="#c81a22"/>
<rect x="666.85" y="202.8" width="1.7" height="3.2" fill="#c81a22"/>
<rect x="668.07" y="190.3" width="3.2" height="27.2" fill="#2c661c"/>
<rect x="666.67" y="209.9" width="1.7" height="3.2" fill="#2c661c"/>
<rect x="670.97" y="193.6" width="1.7" height="3.2" fill="#2c661c"/>
<rect x="672.20" y="181.4" width="3.2" height="10.8" fill="#2c661c"/>
<rect x="670.80" y="188.2" width="1.7" height="3.2" fill="#2c661c"/>
<rect x="675.10" y="181.7" width="1.7" height="3.2" fill="#2c661c"/>
<rect x="676.32" y="182.7" width="3.2" height="18.4" fill="#c81a22"/>
<rect x="674.92" y="184.7" width="1.7" height="3.2" fill="#c81a22"/>
<rect x="679.22" y="195.4" width="1.7" height="3.2" fill="#c81a22"/>
<rect x="680.45" y="190.3" width="3.2" height="21.5" fill="#c81a22"/>
<rect x="679.05" y="193.0" width="1.7" height="3.2" fill="#c81a22"/>
<rect x="683.35" y="205.4" width="1.7" height="3.2" fill="#c81a22"/>
<rect x="684.57" y="201.0" width="3.2" height="34.8" fill="#c81a22"/>
<rect x="683.17" y="206.4" width="1.7" height="3.2" fill="#c81a22"/>
<rect x="687.47" y="226.6" width="1.7" height="3.2" fill="#c81a22"/>
<rect x="688.70" y="227.6" width="3.2" height="30.4" fill="#2c661c"/>
<rect x="687.30" y="249.7" width="1.7" height="3.2" fill="#2c661c"/>
<rect x="691.60" y="231.5" width="1.7" height="3.2" fill="#2c661c"/>
<rect x="692.82" y="209.9" width="3.2" height="22.2" fill="#2c661c"/>
<rect x="691.42" y="225.6" width="1.7" height="3.2" fill="#2c661c"/>
<rect x="695.72" y="212.3" width="1.7" height="3.2" fill="#2c661c"/>
<rect x="696.95" y="209.9" width="3.2" height="24.7" fill="#c81a22"/>
<rect x="695.55" y="213.2" width="1.7" height="3.2" fill="#c81a22"/>
<rect x="699.85" y="227.5" width="1.7" height="3.2" fill="#c81a22"/>
<rect x="701.07" y="223.2" width="3.2" height="21.5" fill="#c81a22"/>
<rect x="699.67" y="225.9" width="1.7" height="3.2" fill="#c81a22"/>
<rect x="703.97" y="238.3" width="1.7" height="3.2" fill="#c81a22"/>
<rect x="705.20" y="236.5" width="3.2" height="34.8" fill="#2c661c"/>
<rect x="703.80" y="262.0" width="1.7" height="3.2" fill="#2c661c"/>
<rect x="708.10" y="241.1" width="1.7" height="3.2" fill="#2c661c"/>
<rect x="709.32" y="232.7" width="3.2" height="17.7" fill="#c81a22"/>
<rect x="707.92" y="234.6" width="1.7" height="3.2" fill="#c81a22"/>
<rect x="712.22" y="244.9" width="1.7" height="3.2" fill="#c81a22"/>
<rect x="713.45" y="244.7" width="3.2" height="20.9" fill="#c81a22"/>
<rect x="712.05" y="247.3" width="1.7" height="3.2" fill="#c81a22"/>
<rect x="716.35" y="259.4" width="1.7" height="3.2" fill="#c81a22"/>
<rect x="717.57" y="226.3" width="3.2" height="39.2" fill="#2c661c"/>
<rect x="716.17" y="255.3" width="1.7" height="3.2" fill="#2c661c"/>
<rect x="720.47" y="231.8" width="1.7" height="3.2" fill="#2c661c"/>
<rect x="721.70" y="216.2" width="3.2" height="13.3" fill="#2c661c"/>
<rect x="720.30" y="225.0" width="1.7" height="3.2" fill="#2c661c"/>
<rect x="724.60" y="217.0" width="1.7" height="3.2" fill="#2c661c"/>
<rect x="725.82" y="203.5" width="3.2" height="16.5" fill="#2c661c"/>
<rect x="724.42" y="214.8" width="1.7" height="3.2" fill="#2c661c"/>
<rect x="728.72" y="204.9" width="1.7" height="3.2" fill="#2c661c"/>
<rect x="729.95" y="209.9" width="3.2" height="17.1" fill="#c81a22"/>
<rect x="728.55" y="211.7" width="1.7" height="3.2" fill="#c81a22"/>
<rect x="732.85" y="221.6" width="1.7" height="3.2" fill="#c81a22"/>
<rect x="734.07" y="220.6" width="3.2" height="17.1" fill="#c81a22"/>
<rect x="732.67" y="222.5" width="1.7" height="3.2" fill="#c81a22"/>
<rect x="736.97" y="232.4" width="1.7" height="3.2" fill="#c81a22"/>
<rect x="738.20" y="220.6" width="3.2" height="31.6" fill="#c81a22"/>
<rect x="736.80" y="225.4" width="1.7" height="3.2" fill="#c81a22"/>
<rect x="741.10" y="243.7" width="1.7" height="3.2" fill="#c81a22"/>
<rect x="742.32" y="246.3" width="3.2" height="24.1" fill="#c81a22"/>
<rect x="740.92" y="249.5" width="1.7" height="3.2" fill="#c81a22"/>
<rect x="745.22" y="263.5" width="1.7" height="3.2" fill="#c81a22"/>
<rect x="746.45" y="245.7" width="3.2" height="32.9" fill="#c81a22"/>
<rect x="745.05" y="250.7" width="1.7" height="3.2" fill="#c81a22"/>
<rect x="749.35" y="269.8" width="1.7" height="3.2" fill="#c81a22"/>
<rect x="750.57" y="276.1" width="3.2" height="28.5" fill="#c81a22"/>
<rect x="749.17" y="280.2" width="1.7" height="3.2" fill="#c81a22"/>
<rect x="753.47" y="296.7" width="1.7" height="3.2" fill="#c81a22"/>
<rect x="754.70" y="274.2" width="3.2" height="36.7" fill="#c81a22"/>
<rect x="753.30" y="279.9" width="1.7" height="3.2" fill="#c81a22"/>
<rect x="757.60" y="301.2" width="1.7" height="3.2" fill="#c81a22"/>
<rect x="758.82" y="265.3" width="3.2" height="37.3" fill="#2c661c"/>
<rect x="757.42" y="292.8" width="1.7" height="3.2" fill="#2c661c"/>
<rect x="761.72" y="270.4" width="1.7" height="3.2" fill="#2c661c"/>
<rect x="762.95" y="264.1" width="3.2" height="13.3" fill="#c81a22"/>
<rect x="761.55" y="265.1" width="1.7" height="3.2" fill="#c81a22"/>
<rect x="765.85" y="272.8" width="1.7" height="3.2" fill="#c81a22"/>
<rect x="767.07" y="264.1" width="3.2" height="35.4" fill="#c81a22"/>
<rect x="765.67" y="269.5" width="1.7" height="3.2" fill="#c81a22"/>
<rect x="769.97" y="290.1" width="1.7" height="3.2" fill="#c81a22"/>
<rect x="771.20" y="307.1" width="3.2" height="25.9" fill="#c81a22"/>
<rect x="769.80" y="310.7" width="1.7" height="3.2" fill="#c81a22"/>
<rect x="774.10" y="325.7" width="1.7" height="3.2" fill="#c81a22"/>
<rect x="775.32" y="297.0" width="3.2" height="25.3" fill="#2c661c"/>
<rect x="773.92" y="315.1" width="1.7" height="3.2" fill="#2c661c"/>
<rect x="778.22" y="299.9" width="1.7" height="3.2" fill="#2c661c"/>
<rect x="779.45" y="295.1" width="3.2" height="24.1" fill="#c81a22"/>
<rect x="778.05" y="298.3" width="1.7" height="3.2" fill="#c81a22"/>
<rect x="782.35" y="312.2" width="1.7" height="3.2" fill="#c81a22"/>
<rect x="783.57" y="296.3" width="3.2" height="22.8" fill="#2c661c"/>
<rect x="782.17" y="312.5" width="1.7" height="3.2" fill="#2c661c"/>
<rect x="786.47" y="298.8" width="1.7" height="3.2" fill="#2c661c"/>
<rect x="787.70" y="301.4" width="3.2" height="20.9" fill="#c81a22"/>
<rect x="786.30" y="304.0" width="1.7" height="3.2" fill="#c81a22"/>
<rect x="790.60" y="316.1" width="1.7" height="3.2" fill="#c81a22"/>
<rect x="791.82" y="284.9" width="3.2" height="25.3" fill="#2c661c"/>
<rect x="790.42" y="303.1" width="1.7" height="3.2" fill="#2c661c"/>
<rect x="794.72" y="287.9" width="1.7" height="3.2" fill="#2c661c"/>
<rect x="795.95" y="268.5" width="3.2" height="29.7" fill="#2c661c"/>
<rect x="794.55" y="290.1" width="1.7" height="3.2" fill="#2c661c"/>
<rect x="798.85" y="272.2" width="1.7" height="3.2" fill="#2c661c"/>
<rect x="800.07" y="265.3" width="3.2" height="10.1" fill="#2c661c"/>
<rect x="798.67" y="271.6" width="1.7" height="3.2" fill="#2c661c"/>
<rect x="802.97" y="265.5" width="1.7" height="3.2" fill="#2c661c"/>
<rect x="804.20" y="250.8" width="3.2" height="20.3" fill="#2c661c"/>
<rect x="802.80" y="265.0" width="1.7" height="3.2" fill="#2c661c"/>
<rect x="807.10" y="252.8" width="1.7" height="3.2" fill="#2c661c"/>
<rect x="808.32" y="244.4" width="3.2" height="13.3" fill="#c81a22"/>
<rect x="806.92" y="245.5" width="1.7" height="3.2" fill="#c81a22"/>
<rect x="811.22" y="253.2" width="1.7" height="3.2" fill="#c81a22"/>
<rect x="812.45" y="259.6" width="3.2" height="19.0" fill="#c81a22"/>
<rect x="811.05" y="261.8" width="1.7" height="3.2" fill="#c81a22"/>
<rect x="815.35" y="272.8" width="1.7" height="3.2" fill="#c81a22"/>
<rect x="816.57" y="280.5" width="3.2" height="17.7" fill="#c81a22"/>
<rect x="815.17" y="282.5" width="1.7" height="3.2" fill="#c81a22"/>
<rect x="819.47" y="292.7" width="1.7" height="3.2" fill="#c81a22"/>
<rect x="820.70" y="276.1" width="3.2" height="25.3" fill="#2c661c"/>
<rect x="819.30" y="294.2" width="1.7" height="3.2" fill="#2c661c"/>
<rect x="823.60" y="279.0" width="1.7" height="3.2" fill="#2c661c"/>
<rect x="824.82" y="271.0" width="3.2" height="36.1" fill="#c81a22"/>
<rect x="823.42" y="276.6" width="1.7" height="3.2" fill="#c81a22"/>
<rect x="827.72" y="297.6" width="1.7" height="3.2" fill="#c81a22"/>
<rect x="828.95" y="298.9" width="3.2" height="32.3" fill="#c81a22"/>
<rect x="827.55" y="303.7" width="1.7" height="3.2" fill="#c81a22"/>
<rect x="831.85" y="322.4" width="1.7" height="3.2" fill="#c81a22"/>
<rect x="833.07" y="321.0" width="3.2" height="19.0" fill="#c81a22"/>
<rect x="831.67" y="323.2" width="1.7" height="3.2" fill="#c81a22"/>
<rect x="835.97" y="334.2" width="1.7" height="3.2" fill="#c81a22"/>
<rect x="837.20" y="312.2" width="3.2" height="26.6" fill="#2c661c"/>
<rect x="835.80" y="331.3" width="1.7" height="3.2" fill="#2c661c"/>
<rect x="840.10" y="315.3" width="1.7" height="3.2" fill="#2c661c"/>
<rect x="841.32" y="324.2" width="3.2" height="28.5" fill="#c81a22"/>
<rect x="839.92" y="328.3" width="1.7" height="3.2" fill="#c81a22"/>
<rect x="844.22" y="344.8" width="1.7" height="3.2" fill="#c81a22"/>
<rect x="845.45" y="315.9" width="3.2" height="17.1" fill="#2c661c"/>
<rect x="844.05" y="327.7" width="1.7" height="3.2" fill="#2c661c"/>
<rect x="848.35" y="317.4" width="1.7" height="3.2" fill="#2c661c"/>
<rect x="849.57" y="298.9" width="3.2" height="20.3" fill="#2c661c"/>
<rect x="848.17" y="313.1" width="1.7" height="3.2" fill="#2c661c"/>
<rect x="852.47" y="300.9" width="1.7" height="3.2" fill="#2c661c"/>
<rect x="853.70" y="298.9" width="3.2" height="26.6" fill="#c81a22"/>
<rect x="852.30" y="302.6" width="1.7" height="3.2" fill="#c81a22"/>
<rect x="856.60" y="318.0" width="1.7" height="3.2" fill="#c81a22"/>
<rect x="857.82" y="286.8" width="3.2" height="32.3" fill="#2c661c"/>
<rect x="856.42" y="310.4" width="1.7" height="3.2" fill="#2c661c"/>
<rect x="860.72" y="291.0" width="1.7" height="3.2" fill="#2c661c"/>
<rect x="861.95" y="281.8" width="3.2" height="16.5" fill="#c81a22"/>
<rect x="860.55" y="283.5" width="1.7" height="3.2" fill="#c81a22"/>
<rect x="864.85" y="293.0" width="1.7" height="3.2" fill="#c81a22"/>
<rect x="866.07" y="282.4" width="3.2" height="12.7" fill="#2c661c"/>
<rect x="864.67" y="290.7" width="1.7" height="3.2" fill="#2c661c"/>
<rect x="868.97" y="283.1" width="1.7" height="3.2" fill="#2c661c"/>
<rect x="870.20" y="272.9" width="3.2" height="22.2" fill="#2c661c"/>
<rect x="868.80" y="288.6" width="1.7" height="3.2" fill="#2c661c"/>
<rect x="873.10" y="275.3" width="1.7" height="3.2" fill="#2c661c"/>
<rect x="874.32" y="279.2" width="3.2" height="17.7" fill="#c81a22"/>
<rect x="872.92" y="281.2" width="1.7" height="3.2" fill="#c81a22"/>
<rect x="877.22" y="291.5" width="1.7" height="3.2" fill="#c81a22"/>
<rect x="878.45" y="272.9" width="3.2" height="36.1" fill="#c81a22"/>
<rect x="877.05" y="278.5" width="1.7" height="3.2" fill="#c81a22"/>
<rect x="881.35" y="299.5" width="1.7" height="3.2" fill="#c81a22"/>
<rect x="882.57" y="300.8" width="3.2" height="15.8" fill="#c81a22"/>
<rect x="881.17" y="302.3" width="1.7" height="3.2" fill="#c81a22"/>
<rect x="885.47" y="311.5" width="1.7" height="3.2" fill="#c81a22"/>
<rect x="886.70" y="304.6" width="3.2" height="10.1" fill="#c81a22"/>
<rect x="885.30" y="305.0" width="1.7" height="3.2" fill="#c81a22"/>
<rect x="889.60" y="310.9" width="1.7" height="3.2" fill="#c81a22"/>
<rect x="890.82" y="297.5" width="3.2" height="17.5" fill="#2c661c"/>
<rect x="889.42" y="309.6" width="1.7" height="3.2" fill="#2c661c"/>
<rect x="893.72" y="299.1" width="1.7" height="3.2" fill="#2c661c"/>
<rect x="894.95" y="286.1" width="3.2" height="15.2" fill="#2c661c"/>
<rect x="893.55" y="296.4" width="1.7" height="3.2" fill="#2c661c"/>
<rect x="897.85" y="287.3" width="1.7" height="3.2" fill="#2c661c"/>
<rect x="899.07" y="284.2" width="3.2" height="17.7" fill="#c81a22"/>
<rect x="897.67" y="286.2" width="1.7" height="3.2" fill="#c81a22"/>
<rect x="901.97" y="296.5" width="1.7" height="3.2" fill="#c81a22"/>
<rect x="903.20" y="274.1" width="3.2" height="18.4" fill="#2c661c"/>
<rect x="901.80" y="286.8" width="1.7" height="3.2" fill="#2c661c"/>
<rect x="906.10" y="275.8" width="1.7" height="3.2" fill="#2c661c"/>
<rect x="907.32" y="260.8" width="3.2" height="24.7" fill="#2c661c"/>
<rect x="905.92" y="278.5" width="1.7" height="3.2" fill="#2c661c"/>
<rect x="910.22" y="263.7" width="1.7" height="3.2" fill="#2c661c"/>
<rect x="911.45" y="263.4" width="3.2" height="15.8" fill="#c81a22"/>
<rect x="910.05" y="264.9" width="1.7" height="3.2" fill="#c81a22"/>
<rect x="914.35" y="274.1" width="1.7" height="3.2" fill="#c81a22"/>
<rect x="915.57" y="265.3" width="3.2" height="15.8" fill="#c81a22"/>
<rect x="914.17" y="266.8" width="1.7" height="3.2" fill="#c81a22"/>
<rect x="918.47" y="276.0" width="1.7" height="3.2" fill="#c81a22"/>
<rect x="919.70" y="278.5" width="3.2" height="15.2" fill="#c81a22"/>
<rect x="918.30" y="280.0" width="1.7" height="3.2" fill="#c81a22"/>
<rect x="922.60" y="288.8" width="1.7" height="3.2" fill="#c81a22"/>
<rect x="923.82" y="279.8" width="3.2" height="15.8" fill="#2c661c"/>
<rect x="922.42" y="290.6" width="1.7" height="3.2" fill="#2c661c"/>
<rect x="926.72" y="281.1" width="1.7" height="3.2" fill="#2c661c"/>
<rect x="927.95" y="275.4" width="3.2" height="31.0" fill="#c81a22"/>
<rect x="926.55" y="280.0" width="1.7" height="3.2" fill="#c81a22"/>
<rect x="930.85" y="298.0" width="1.7" height="3.2" fill="#c81a22"/>
<rect x="932.07" y="289.3" width="3.2" height="21.5" fill="#2c661c"/>
<rect x="930.67" y="304.5" width="1.7" height="3.2" fill="#2c661c"/>
<rect x="934.97" y="291.6" width="1.7" height="3.2" fill="#2c661c"/>
<rect x="936.20" y="281.7" width="3.2" height="14.6" fill="#2c661c"/>
<rect x="934.80" y="291.5" width="1.7" height="3.2" fill="#2c661c"/>
<rect x="939.10" y="282.7" width="1.7" height="3.2" fill="#2c661c"/>
<rect x="940.32" y="270.9" width="3.2" height="21.5" fill="#2c661c"/>
<rect x="938.92" y="286.1" width="1.7" height="3.2" fill="#2c661c"/>
<rect x="943.22" y="273.2" width="1.7" height="3.2" fill="#2c661c"/>
<rect x="944.45" y="267.8" width="3.2" height="10.1" fill="#c81a22"/>
<rect x="943.05" y="268.2" width="1.7" height="3.2" fill="#c81a22"/>
<rect x="947.35" y="274.1" width="1.7" height="3.2" fill="#c81a22"/>
<rect x="948.57" y="265.3" width="3.2" height="12.7" fill="#2c661c"/>
<rect x="947.17" y="273.5" width="1.7" height="3.2" fill="#2c661c"/>
<rect x="951.47" y="265.9" width="1.7" height="3.2" fill="#2c661c"/>
<rect x="952.70" y="263.4" width="3.2" height="8.2" fill="#c81a22"/>
<rect x="951.30" y="263.4" width="1.7" height="3.2" fill="#c81a22"/>
<rect x="955.60" y="268.2" width="1.7" height="3.2" fill="#c81a22"/>
<rect x="956.82" y="264.0" width="3.2" height="17.1" fill="#2c661c"/>
<rect x="955.42" y="275.7" width="1.7" height="3.2" fill="#2c661c"/>
<rect x="959.72" y="265.5" width="1.7" height="3.2" fill="#2c661c"/>
<rect x="960.95" y="262.1" width="3.2" height="19.0" fill="#c81a22"/>
<rect x="959.55" y="264.3" width="1.7" height="3.2" fill="#c81a22"/>
<rect x="963.85" y="275.3" width="1.7" height="3.2" fill="#c81a22"/>
<rect x="965.07" y="266.5" width="3.2" height="5.7" fill="#c81a22"/>
<rect x="963.67" y="266.1" width="1.7" height="3.2" fill="#c81a22"/>
<rect x="967.97" y="269.4" width="1.7" height="3.2" fill="#c81a22"/>
<rect x="969.20" y="259.6" width="3.2" height="11.4" fill="#2c661c"/>
<rect x="967.80" y="266.8" width="1.7" height="3.2" fill="#2c661c"/>
<rect x="972.10" y="260.0" width="1.7" height="3.2" fill="#2c661c"/>
<rect x="973.32" y="258.9" width="3.2" height="14.6" fill="#2c661c"/>
<rect x="971.92" y="268.7" width="1.7" height="3.2" fill="#2c661c"/>
<rect x="976.22" y="259.9" width="1.7" height="3.2" fill="#2c661c"/>
<rect x="977.45" y="248.8" width="3.2" height="16.5" fill="#2c661c"/>
<rect x="976.05" y="260.0" width="1.7" height="3.2" fill="#2c661c"/>
<rect x="980.35" y="250.2" width="1.7" height="3.2" fill="#2c661c"/>
<rect x="981.57" y="244.4" width="3.2" height="7.6" fill="#2c661c"/>
<rect x="980.17" y="248.7" width="1.7" height="3.2" fill="#2c661c"/>
<rect x="984.47" y="244.1" width="1.7" height="3.2" fill="#2c661c"/>
<rect x="985.70" y="227.9" width="3.2" height="20.3" fill="#2c661c"/>
<rect x="984.30" y="242.1" width="1.7" height="3.2" fill="#2c661c"/>
<rect x="988.60" y="230.0" width="1.7" height="3.2" fill="#2c661c"/>
<rect x="989.82" y="235.5" width="3.2" height="7.6" fill="#c81a22"/>
<rect x="988.42" y="235.4" width="1.7" height="3.2" fill="#c81a22"/>
<rect x="992.72" y="239.8" width="1.7" height="3.2" fill="#c81a22"/>
<rect x="993.95" y="226.0" width="3.2" height="19.0" fill="#2c661c"/>
<rect x="992.55" y="239.2" width="1.7" height="3.2" fill="#2c661c"/>
<rect x="996.85" y="227.8" width="1.7" height="3.2" fill="#2c661c"/>
<rect x="998.07" y="227.3" width="3.2" height="10.1" fill="#c81a22"/>
<rect x="996.67" y="227.7" width="1.7" height="3.2" fill="#c81a22"/>
<rect x="1000.97" y="233.6" width="1.7" height="3.2" fill="#c81a22"/>
<rect x="1002.20" y="218.4" width="3.2" height="17.7" fill="#2c661c"/>
<rect x="1000.80" y="230.6" width="1.7" height="3.2" fill="#2c661c"/>
<rect x="1005.10" y="220.0" width="1.7" height="3.2" fill="#2c661c"/>
<rect x="1006.32" y="210.8" width="3.2" height="9.5" fill="#2c661c"/>
<rect x="1004.92" y="216.6" width="1.7" height="3.2" fill="#2c661c"/>
<rect x="1009.22" y="210.9" width="1.7" height="3.2" fill="#2c661c"/>
<rect x="1010.45" y="207.7" width="3.2" height="10.1" fill="#2c661c"/>
<rect x="1009.05" y="214.0" width="1.7" height="3.2" fill="#2c661c"/>
<rect x="1013.35" y="207.9" width="1.7" height="3.2" fill="#2c661c"/>
<rect x="1014.57" y="209.6" width="3.2" height="15.8" fill="#c81a22"/>
<rect x="1013.17" y="211.1" width="1.7" height="3.2" fill="#c81a22"/>
<rect x="1017.47" y="220.3" width="1.7" height="3.2" fill="#c81a22"/>
<rect x="1018.70" y="218.4" width="3.2" height="11.4" fill="#c81a22"/>
<rect x="1017.30" y="219.1" width="1.7" height="3.2" fill="#c81a22"/>
<rect x="1021.60" y="225.7" width="1.7" height="3.2" fill="#c81a22"/>
<rect x="1022.82" y="223.5" width="3.2" height="20.3" fill="#c81a22"/>
<rect x="1021.42" y="225.9" width="1.7" height="3.2" fill="#c81a22"/>
<rect x="1025.72" y="237.7" width="1.7" height="3.2" fill="#c81a22"/>
<rect x="1026.95" y="227.9" width="3.2" height="12.7" fill="#2c661c"/>
<rect x="1025.55" y="236.2" width="1.7" height="3.2" fill="#2c661c"/>
<rect x="1029.85" y="228.6" width="1.7" height="3.2" fill="#2c661c"/>
<rect x="1031.08" y="215.5" width="3.2" height="17.7" fill="#2c661c"/>
<rect x="1029.67" y="227.7" width="1.7" height="3.2" fill="#2c661c"/>
<rect x="1033.97" y="217.1" width="1.7" height="3.2" fill="#2c661c"/>
<rect x="1035.20" y="219.9" width="3.2" height="11.4" fill="#c81a22"/>
<rect x="1033.80" y="220.6" width="1.7" height="3.2" fill="#c81a22"/>
<rect x="1038.10" y="227.2" width="1.7" height="3.2" fill="#c81a22"/>
<rect x="1039.33" y="219.9" width="3.2" height="7.0" fill="#c81a22"/>
<rect x="1037.92" y="219.7" width="1.7" height="3.2" fill="#c81a22"/>
<rect x="1042.22" y="223.8" width="1.7" height="3.2" fill="#c81a22"/>
<rect x="1043.45" y="226.3" width="3.2" height="19.6" fill="#c81a22"/>
<rect x="1042.05" y="228.6" width="1.7" height="3.2" fill="#c81a22"/>
<rect x="1046.35" y="240.0" width="1.7" height="3.2" fill="#c81a22"/>
<rect x="1047.58" y="242.7" width="3.2" height="12.7" fill="#c81a22"/>
<rect x="1046.17" y="243.7" width="1.7" height="3.2" fill="#c81a22"/>
<rect x="1050.47" y="251.0" width="1.7" height="3.2" fill="#c81a22"/>
<rect x="1051.70" y="244.0" width="3.2" height="14.6" fill="#2c661c"/>
<rect x="1050.30" y="253.7" width="1.7" height="3.2" fill="#2c661c"/>
<rect x="1054.60" y="245.0" width="1.7" height="3.2" fill="#2c661c"/>
<rect x="1055.83" y="237.0" width="3.2" height="12.7" fill="#2c661c"/>
<rect x="1054.42" y="245.3" width="1.7" height="3.2" fill="#2c661c"/>
<rect x="1058.72" y="237.7" width="1.7" height="3.2" fill="#2c661c"/>
<rect x="1059.95" y="235.1" width="3.2" height="23.4" fill="#c81a22"/>
<rect x="1058.55" y="238.2" width="1.7" height="3.2" fill="#c81a22"/>
<rect x="1062.85" y="251.8" width="1.7" height="3.2" fill="#c81a22"/>
<rect x="1064.08" y="252.8" width="3.2" height="20.9" fill="#c81a22"/>
<rect x="1062.67" y="255.4" width="1.7" height="3.2" fill="#c81a22"/>
<rect x="1066.97" y="267.5" width="1.7" height="3.2" fill="#c81a22"/>
<rect x="1068.20" y="238.3" width="3.2" height="31.0" fill="#2c661c"/>
<rect x="1066.80" y="260.9" width="1.7" height="3.2" fill="#2c661c"/>
<rect x="1071.10" y="242.3" width="1.7" height="3.2" fill="#2c661c"/>
<rect x="1072.33" y="232.6" width="3.2" height="8.2" fill="#2c661c"/>
<rect x="1070.92" y="237.4" width="1.7" height="3.2" fill="#2c661c"/>
<rect x="1075.22" y="232.5" width="1.7" height="3.2" fill="#2c661c"/>
<rect x="1076.45" y="218.7" width="3.2" height="17.7" fill="#2c661c"/>
<rect x="1075.05" y="230.9" width="1.7" height="3.2" fill="#2c661c"/>
<rect x="1079.35" y="220.3" width="1.7" height="3.2" fill="#2c661c"/>
<rect x="1080.58" y="213.0" width="3.2" height="8.2" fill="#2c661c"/>
<rect x="1079.17" y="217.8" width="1.7" height="3.2" fill="#2c661c"/>
<rect x="1083.47" y="212.9" width="1.7" height="3.2" fill="#2c661c"/>
<rect x="1084.70" y="208.5" width="3.2" height="9.5" fill="#2c661c"/>
<rect x="1083.30" y="214.3" width="1.7" height="3.2" fill="#2c661c"/>
<rect x="1087.60" y="208.7" width="1.7" height="3.2" fill="#2c661c"/>
<rect x="1088.83" y="208.5" width="3.2" height="7.6" fill="#2c661c"/>
<rect x="1087.42" y="212.9" width="1.7" height="3.2" fill="#2c661c"/>
<rect x="1091.72" y="208.3" width="1.7" height="3.2" fill="#2c661c"/>
<rect x="1092.95" y="190.2" width="3.2" height="21.5" fill="#2c661c"/>
<rect x="1091.55" y="205.4" width="1.7" height="3.2" fill="#2c661c"/>
<rect x="1095.85" y="192.5" width="1.7" height="3.2" fill="#2c661c"/>
<rect x="1097.08" y="185.8" width="3.2" height="11.4" fill="#2c661c"/>
<rect x="1095.67" y="193.0" width="1.7" height="3.2" fill="#2c661c"/>
<rect x="1099.97" y="186.2" width="1.7" height="3.2" fill="#2c661c"/>
<rect x="1101.20" y="183.9" width="3.2" height="5.7" fill="#2c661c"/>
<rect x="1099.80" y="186.7" width="1.7" height="3.2" fill="#2c661c"/>
<rect x="1104.10" y="183.3" width="1.7" height="3.2" fill="#2c661c"/>
<path d="M20.7,445.6 C22.1,446.0 22.1,446.0 24.8,446.6 C27.6,447.2 26.2,447.1 28.9,447.5 C31.7,447.9 30.3,447.6 33.1,447.9 C35.8,448.1 34.4,448.1 37.2,448.3 C39.9,448.6 38.6,448.5 41.3,448.7 C44.1,448.9 42.7,448.8 45.4,448.9 C48.2,449.0 46.8,448.9 49.6,449.0 C52.3,449.0 50.9,449.0 53.7,449.1 C56.4,449.2 55.1,449.1 57.8,449.2 C60.6,449.3 59.2,449.3 61.9,449.4 C64.7,449.4 63.3,449.4 66.1,449.5 C68.8,449.5 67.4,449.5 70.2,449.6 C72.9,449.6 71.6,449.6 74.3,449.6 C77.1,449.7 75.7,449.7 78.4,449.7 C81.2,449.7 79.8,449.7 82.6,449.7 C85.3,449.7 83.9,449.7 86.7,449.6 C89.4,449.6 88.1,449.6 90.8,449.5 C93.6,449.3 92.2,449.4 94.9,449.2 C97.7,449.1 96.3,449.2 99.1,449.0 C101.8,448.7 100.4,448.9 103.2,448.6 C105.9,448.4 104.6,448.5 107.3,448.2 C110.1,447.9 108.7,448.0 111.4,447.7 C114.2,447.3 112.8,447.5 115.6,447.1 C118.3,446.7 116.9,447.0 119.7,446.4 C122.4,445.9 121.1,446.2 123.8,445.5 C126.6,444.8 125.2,445.2 127.9,444.3 C130.7,443.4 129.3,443.9 132.1,442.8 C134.8,441.7 133.4,442.3 136.2,441.1 C138.9,439.9 137.6,440.5 140.3,439.2 C143.1,437.9 141.7,438.5 144.4,437.2 C147.2,436.0 145.8,436.5 148.6,435.4 C151.3,434.3 149.9,434.8 152.7,433.9 C155.4,433.0 154.1,433.4 156.8,432.6 C159.6,431.9 158.2,432.2 160.9,431.6 C163.7,430.9 162.3,431.2 165.1,430.6 C167.8,430.1 166.4,430.4 169.2,429.9 C171.9,429.3 170.6,429.6 173.3,429.1 C176.1,428.6 174.7,428.9 177.4,428.4 C180.2,427.9 178.8,428.2 181.6,427.6 C184.3,427.0 182.9,427.3 185.7,426.7 C188.4,426.1 187.1,426.4 189.8,425.9 C192.6,425.3 191.2,425.6 193.9,425.1 C196.7,424.6 195.3,424.9 198.1,424.4 C200.8,423.9 199.4,424.1 202.2,423.6 C204.9,423.1 203.6,423.4 206.3,422.8 C209.1,422.3 207.7,422.6 210.4,421.9 C213.2,421.3 211.8,421.6 214.6,420.9 C217.3,420.2 215.9,420.6 218.7,419.8 C221.4,419.0 220.1,419.4 222.8,418.5 C225.6,417.6 224.2,418.1 226.9,417.1 C229.7,416.2 228.3,416.6 231.1,415.6 C233.8,414.6 232.4,415.1 235.2,414.1 C237.9,413.0 236.6,413.5 239.3,412.5 C242.1,411.5 240.7,412.0 243.4,410.9 C246.2,409.9 244.8,410.4 247.6,409.3 C250.3,408.3 248.9,408.8 251.7,407.8 C254.4,406.7 253.1,407.2 255.8,406.2 C258.6,405.3 257.2,405.7 259.9,404.9 C262.7,404.0 261.3,404.4 264.1,403.7 C266.8,403.0 265.4,403.2 268.2,402.7 C270.9,402.3 269.6,402.4 272.3,402.3 C275.1,402.3 273.7,402.2 276.4,402.5 C279.2,402.8 277.8,402.6 280.6,403.2 C283.3,403.7 281.9,403.5 284.7,404.2 C287.4,405.0 286.1,404.6 288.8,405.5 C291.6,406.3 290.2,405.9 292.9,406.8 C295.7,407.7 294.3,407.4 297.1,408.2 C299.8,409.0 298.4,408.6 301.2,409.3 C303.9,409.9 302.6,409.6 305.3,410.1 C308.1,410.6 306.7,410.4 309.4,410.8 C312.2,411.2 310.8,411.0 313.6,411.2 C316.3,411.5 314.9,411.4 317.7,411.6 C320.4,411.8 319.1,411.7 321.8,411.8 C324.6,411.9 323.2,411.9 325.9,412.0 C328.7,412.1 327.3,412.1 330.1,412.2 C332.8,412.3 331.4,412.2 334.2,412.3 C336.9,412.3 335.6,412.3 338.3,412.3 C341.1,412.3 339.7,412.3 342.4,412.3 C345.2,412.3 343.8,412.3 346.6,412.3 C349.3,412.3 347.9,412.3 350.7,412.3 C353.4,412.3 352.1,412.3 354.8,412.3 C357.6,412.3 356.2,412.3 358.9,412.3 C361.7,412.3 360.3,412.3 363.1,412.3 C365.8,412.2 364.4,412.3 367.2,412.1 C369.9,412.0 368.6,412.0 371.3,411.8 C374.1,411.5 372.7,411.7 375.4,411.5 C378.2,411.4 376.8,411.5 379.6,411.3 C382.3,411.1 380.9,411.3 383.7,411.0 C386.4,410.7 385.1,411.0 387.8,410.4 C390.6,409.9 389.2,410.2 391.9,409.3 C394.7,408.4 393.3,408.9 396.1,407.7 C398.8,406.4 397.4,407.2 400.2,405.6 C402.9,404.0 401.6,404.9 404.3,403.0 C407.1,401.0 405.7,402.0 408.4,399.8 C411.2,397.7 409.8,398.8 412.6,396.5 C415.3,394.2 413.9,395.3 416.7,393.0 C419.4,390.7 418.1,391.8 420.8,389.6 C423.6,387.4 422.2,388.5 424.9,386.3 C427.7,384.2 426.3,385.3 429.1,383.1 C431.8,381.0 430.4,382.0 433.2,379.9 C435.9,377.8 434.6,378.9 437.3,376.7 C440.1,374.5 438.7,375.6 441.4,373.4 C444.2,371.2 442.8,372.3 445.6,370.1 C448.3,367.9 446.9,368.9 449.7,366.7 C452.4,364.5 451.1,365.6 453.8,363.5 C456.6,361.4 455.2,362.4 457.9,360.4 C460.7,358.3 459.3,359.4 462.1,357.3 C464.8,355.2 463.4,356.2 466.2,354.1 C468.9,352.1 467.6,353.1 470.3,351.1 C473.1,349.1 471.7,350.1 474.4,348.2 C477.2,346.3 475.8,347.2 478.6,345.4 C481.3,343.6 479.9,344.5 482.7,342.8 C485.4,341.1 484.1,341.9 486.8,340.3 C489.6,338.8 488.2,339.5 490.9,338.1 C493.7,336.6 492.3,337.4 495.1,335.9 C497.8,334.5 496.4,335.2 499.2,333.7 C501.9,332.2 500.6,333.0 503.3,331.3 C506.1,329.6 504.7,330.5 507.4,328.7 C510.2,326.8 508.8,327.8 511.6,325.7 C514.3,323.6 512.9,324.6 515.7,322.4 C518.4,320.2 517.1,321.3 519.8,319.0 C522.6,316.8 521.2,317.9 523.9,315.6 C526.7,313.3 525.3,314.4 528.1,312.1 C530.8,309.8 529.4,310.9 532.2,308.6 C534.9,306.3 533.6,307.3 536.3,305.2 C539.1,303.2 537.7,304.2 540.4,302.3 C543.2,300.4 541.8,301.4 544.6,299.6 C547.3,297.7 545.9,298.7 548.7,296.8 C551.4,294.9 550.1,295.9 552.8,294.0 C555.6,292.1 554.2,293.1 556.9,291.2 C559.7,289.3 558.3,290.3 561.1,288.4 C563.8,286.4 562.4,287.4 565.2,285.4 C567.9,283.3 566.6,284.3 569.3,282.3 C572.1,280.2 570.7,281.2 573.4,279.3 C576.2,277.4 574.8,278.4 577.6,276.5 C580.3,274.6 578.9,275.6 581.7,273.6 C584.4,271.7 583.1,272.6 585.8,270.7 C588.6,268.8 587.2,269.7 589.9,267.9 C592.7,266.1 591.3,267.0 594.1,265.2 C596.8,263.5 595.4,264.4 598.2,262.6 C600.9,260.8 599.6,261.7 602.3,259.9 C605.1,258.1 603.7,258.9 606.4,257.2 C609.2,255.4 607.8,256.3 610.6,254.7 C613.3,253.1 611.9,253.9 614.7,252.4 C617.4,250.8 616.1,251.6 618.8,250.1 C621.6,248.6 620.2,249.3 622.9,247.8 C625.7,246.4 624.3,247.1 627.1,245.7 C629.8,244.2 628.4,245.0 631.2,243.5 C633.9,242.0 632.6,242.7 635.3,241.3 C638.1,239.8 636.7,240.5 639.4,239.2 C642.2,237.8 640.8,238.5 643.6,237.2 C646.3,235.9 644.9,236.6 647.7,235.2 C650.4,233.9 649.1,234.5 651.8,233.2 C654.6,231.8 653.2,232.5 655.9,231.1 C658.7,229.8 657.3,230.5 660.1,229.1 C662.8,227.8 661.4,228.5 664.2,227.2 C666.9,225.8 665.6,226.4 668.3,225.1 C671.1,223.7 669.7,224.3 672.4,223.1 C675.2,222.0 673.8,222.5 676.6,221.5 C679.3,220.5 677.9,221.0 680.7,220.2 C683.4,219.5 682.1,219.8 684.8,219.3 C687.6,218.7 686.2,218.9 688.9,218.5 C691.7,218.1 690.3,218.3 693.1,218.0 C695.8,217.8 694.4,217.9 697.2,217.9 C699.9,217.8 698.6,217.8 701.3,217.9 C704.1,218.0 702.7,217.9 705.4,218.0 C708.2,218.1 706.8,218.1 709.6,218.2 C712.3,218.3 710.9,218.2 713.7,218.3 C716.4,218.4 715.1,218.3 717.8,218.4 C720.6,218.5 719.2,218.4 721.9,218.6 C724.7,218.8 723.3,218.7 726.1,218.9 C728.8,219.1 727.4,218.9 730.2,219.2 C732.9,219.4 731.6,219.3 734.3,219.7 C737.1,220.1 735.7,219.7 738.4,220.4 C741.2,221.1 739.8,220.7 742.6,221.7 C745.3,222.7 743.9,222.2 746.7,223.5 C749.4,224.7 748.1,224.0 750.8,225.5 C753.6,227.0 752.2,226.2 754.9,228.0 C757.7,229.7 756.3,228.9 759.1,230.7 C761.8,232.6 760.4,231.6 763.2,233.5 C765.9,235.4 764.6,234.4 767.3,236.4 C770.1,238.4 768.7,237.5 771.4,239.6 C774.2,241.7 772.8,240.7 775.6,242.8 C778.3,244.9 776.9,243.8 779.7,245.9 C782.4,248.0 781.1,247.0 783.8,249.0 C786.6,251.0 785.2,250.0 787.9,251.9 C790.7,253.8 789.3,252.9 792.1,254.7 C794.8,256.5 793.4,255.8 796.2,257.4 C798.9,258.9 797.6,258.1 800.3,259.4 C803.1,260.8 801.7,260.1 804.4,261.4 C807.2,262.6 805.8,262.0 808.6,263.2 C811.3,264.4 809.9,263.7 812.7,264.9 C815.4,266.0 814.1,265.4 816.8,266.6 C819.6,267.9 818.2,267.2 820.9,268.7 C823.7,270.1 822.3,269.3 825.1,271.0 C827.8,272.6 826.4,271.7 829.2,273.6 C831.9,275.4 830.6,274.5 833.3,276.4 C836.1,278.3 834.7,277.3 837.4,279.3 C840.2,281.2 838.8,280.3 841.6,282.3 C844.3,284.3 842.9,283.4 845.7,285.2 C848.4,287.1 847.1,286.2 849.8,287.9 C852.6,289.5 851.2,288.8 853.9,290.1 C856.7,291.5 855.3,290.9 858.1,291.9 C860.8,292.9 859.4,292.4 862.2,293.2 C864.9,294.0 863.6,293.7 866.3,294.3 C869.1,295.0 867.7,294.7 870.4,295.3 C873.2,295.8 871.8,295.5 874.6,296.0 C877.3,296.4 875.9,296.3 878.7,296.6 C881.4,296.9 880.1,296.7 882.8,296.9 C885.6,297.0 884.2,297.0 886.9,297.0 C889.7,297.0 888.3,297.0 891.1,296.9 C893.8,296.8 892.4,296.9 895.2,296.7 C897.9,296.4 896.6,296.5 899.3,296.1 C902.1,295.7 900.7,295.9 903.4,295.5 C906.2,295.0 904.8,295.1 907.6,294.8 C910.3,294.4 908.9,294.6 911.7,294.4 C914.4,294.3 913.1,294.3 915.8,294.4 C918.6,294.5 917.2,294.4 919.9,294.7 C922.7,294.9 921.3,294.8 924.1,295.2 C926.8,295.6 925.4,295.4 928.2,295.8 C930.9,296.1 929.6,296.0 932.3,296.2 C935.1,296.4 933.7,296.4 936.4,296.4 C939.2,296.5 937.8,296.6 940.6,296.3 C943.3,296.1 941.9,296.3 944.7,295.7 C947.4,295.1 946.1,295.5 948.8,294.5 C951.6,293.6 950.2,294.0 952.9,292.9 C955.7,291.7 954.3,292.3 957.1,291.0 C959.8,289.7 958.4,290.4 961.2,289.0 C963.9,287.7 962.6,288.3 965.3,287.0 C968.1,285.7 966.7,286.3 969.4,285.0 C972.2,283.8 970.8,284.4 973.6,283.2 C976.3,282.1 974.9,282.6 977.7,281.5 C980.4,280.5 979.1,281.1 981.8,280.0 C984.6,278.9 983.2,279.5 985.9,278.4 C988.7,277.2 987.3,277.9 990.1,276.6 C992.8,275.4 991.4,276.0 994.2,274.6 C996.9,273.2 995.6,273.9 998.3,272.4 C1001.1,270.9 999.7,271.7 1002.4,270.1 C1005.2,268.5 1003.8,269.3 1006.6,267.7 C1009.3,266.0 1007.9,266.8 1010.7,265.2 C1013.4,263.6 1012.1,264.3 1014.8,262.8 C1017.6,261.3 1016.2,262.0 1018.9,260.7 C1021.7,259.3 1020.3,260.0 1023.1,258.7 C1025.8,257.5 1024.4,258.1 1027.2,257.0 C1029.9,255.8 1028.6,256.4 1031.3,255.3 C1034.1,254.2 1032.7,254.8 1035.4,253.7 C1038.2,252.7 1036.8,253.2 1039.6,252.2 C1042.3,251.1 1040.9,251.6 1043.7,250.6 C1046.4,249.6 1045.1,250.1 1047.8,249.1 C1050.6,248.1 1049.2,248.6 1051.9,247.7 C1054.7,246.8 1053.3,247.2 1056.1,246.3 C1058.8,245.5 1057.4,245.9 1060.2,245.0 C1062.9,244.1 1061.6,244.6 1064.3,243.7 C1067.1,242.9 1065.7,243.3 1068.4,242.5 C1071.2,241.7 1069.8,242.1 1072.6,241.3 C1075.3,240.5 1073.9,241.0 1076.7,240.0 C1079.4,239.1 1078.1,239.6 1080.8,238.4 C1083.6,237.3 1082.2,237.9 1084.9,236.6 C1087.7,235.4 1086.3,236.0 1089.1,234.8 C1091.8,233.6 1090.4,234.3 1093.2,233.1 C1095.9,231.9 1094.6,232.5 1097.3,231.1 C1100.1,229.7 1099.8,229.9 1101.4,228.9 C1103.1,227.9 1101.9,228.4 1102.2,228.2" fill="none" stroke="#cc2a30" stroke-width="1.3" stroke-linejoin="round" stroke-linecap="round" />
<path d="M20.7,466.5 C22.1,466.9 22.1,467.3 24.8,467.7 C27.6,468.0 26.2,468.1 28.9,467.6 C31.7,467.1 30.3,467.4 33.1,466.2 C35.8,465.1 34.4,465.6 37.2,464.2 C39.9,462.7 38.6,463.6 41.3,461.9 C44.1,460.2 42.7,461.1 45.4,459.2 C48.2,457.2 46.8,458.1 49.6,456.1 C52.3,454.2 50.9,455.0 53.7,453.2 C56.4,451.5 55.1,452.3 57.8,450.9 C60.6,449.5 59.2,450.2 61.9,449.1 C64.7,447.9 63.3,448.5 66.1,447.4 C68.8,446.2 67.4,446.8 70.2,445.6 C72.9,444.4 71.6,445.2 74.3,443.7 C77.1,442.3 75.7,443.0 78.4,441.3 C81.2,439.6 79.8,440.4 82.6,438.6 C85.3,436.8 83.9,437.6 86.7,435.9 C89.4,434.3 88.1,435.0 90.8,433.7 C93.6,432.3 92.2,432.8 94.9,432.0 C97.7,431.1 96.3,431.2 99.1,431.1 C101.8,430.9 100.4,430.9 103.2,431.5 C105.9,432.2 104.6,431.9 107.3,433.0 C110.1,434.1 108.7,434.1 111.4,434.8 C114.2,435.5 112.8,435.3 115.6,435.1 C118.3,434.8 116.9,435.2 119.7,434.0 C122.4,432.8 121.1,433.3 123.8,431.5 C126.6,429.8 125.2,430.6 127.9,428.7 C130.7,426.8 129.3,427.6 132.1,425.9 C134.8,424.2 133.4,424.8 136.2,423.5 C138.9,422.2 137.6,422.8 140.3,421.9 C143.1,421.1 141.7,421.3 144.4,421.0 C147.2,420.7 145.8,420.7 148.6,421.0 C151.3,421.4 149.9,421.3 152.7,422.2 C155.4,423.1 154.1,422.7 156.8,423.8 C159.6,424.8 158.2,424.9 160.9,425.3 C163.7,425.7 162.3,425.6 165.1,425.0 C167.8,424.5 166.4,424.8 169.2,423.8 C171.9,422.8 170.6,422.8 173.3,422.0 C176.1,421.2 174.7,421.7 177.4,421.5 C180.2,421.3 178.8,421.5 181.6,421.5 C184.3,421.5 182.9,421.7 185.7,421.6 C188.4,421.4 187.1,421.6 189.8,420.9 C192.6,420.3 191.2,420.7 193.9,419.5 C196.7,418.4 195.3,419.0 198.1,417.4 C200.8,415.9 199.4,416.6 202.2,414.9 C204.9,413.2 203.6,414.0 206.3,412.3 C209.1,410.6 207.7,411.4 210.4,409.8 C213.2,408.3 211.8,409.0 214.6,407.7 C217.3,406.3 215.9,406.9 218.7,405.7 C221.4,404.4 220.1,405.3 222.8,403.8 C225.6,402.3 224.2,403.1 226.9,401.3 C229.7,399.4 228.3,400.3 231.1,398.3 C233.8,396.3 232.4,397.1 235.2,395.2 C237.9,393.3 236.6,394.3 239.3,392.6 C242.1,391.0 240.7,391.9 243.4,390.2 C246.2,388.4 244.8,389.0 247.6,387.3 C250.3,385.7 248.9,386.5 251.7,385.3 C254.4,384.0 253.1,384.9 255.8,383.7 C258.6,382.4 257.2,383.1 259.9,381.5 C262.7,380.0 261.3,379.8 264.1,378.9 C266.8,378.1 265.4,377.5 268.2,379.1 C270.9,380.6 269.6,379.5 272.3,383.7 C275.1,387.9 273.7,385.2 276.4,391.7 C279.2,398.1 277.8,394.5 280.6,403.0 C283.3,411.5 281.9,407.5 284.7,417.2 C287.4,427.0 286.1,423.8 288.8,432.2 C291.6,440.7 290.2,437.9 292.9,442.5 C295.7,447.1 294.3,445.2 297.1,446.0 C299.8,446.9 298.4,446.3 301.2,445.1 C303.9,443.9 302.6,444.1 305.3,442.5 C308.1,440.9 306.7,441.8 309.4,440.2 C312.2,438.7 310.8,439.7 313.6,437.8 C316.3,436.0 314.9,437.3 317.7,434.8 C320.4,432.3 319.1,433.5 321.8,430.3 C324.6,427.2 323.2,428.6 325.9,425.4 C328.7,422.3 327.3,423.6 330.1,421.0 C332.8,418.4 331.4,419.6 334.2,417.8 C336.9,416.0 335.6,416.9 338.3,415.5 C341.1,414.1 339.7,415.0 342.4,413.5 C345.2,412.1 343.8,413.0 346.6,411.1 C349.3,409.3 347.9,410.3 350.7,407.9 C353.4,405.5 352.1,406.6 354.8,403.9 C357.6,401.3 356.2,402.6 358.9,399.8 C361.7,397.1 360.3,398.5 363.1,395.6 C365.8,392.7 364.4,394.4 367.2,391.2 C369.9,388.0 368.6,389.5 371.3,386.0 C374.1,382.5 372.7,384.2 375.4,380.7 C378.2,377.3 376.8,378.5 379.6,375.8 C382.3,373.1 380.9,374.1 383.7,372.6 C386.4,371.1 385.1,371.6 387.8,371.2 C390.6,370.8 389.2,371.4 391.9,371.4 C394.7,371.4 393.3,371.6 396.1,371.2 C398.8,370.7 397.4,371.3 400.2,370.1 C402.9,368.9 401.6,369.2 404.3,367.6 C407.1,365.9 405.7,366.4 408.4,365.1 C411.2,363.9 409.8,364.4 412.6,363.8 C415.3,363.3 413.9,363.9 416.7,363.4 C419.4,362.9 418.1,363.7 420.8,362.2 C423.6,360.7 422.2,361.6 424.9,358.9 C427.7,356.3 426.3,357.4 429.1,354.3 C431.8,351.2 430.4,352.6 433.2,349.6 C435.9,346.5 434.6,348.0 437.3,345.1 C440.1,342.2 438.7,343.6 441.4,340.9 C444.2,338.3 442.8,339.5 445.6,337.1 C448.3,334.8 446.9,336.0 449.7,333.9 C452.4,331.9 451.1,333.1 453.8,331.0 C456.6,328.8 455.2,329.9 457.9,327.4 C460.7,325.0 459.3,325.9 462.1,323.7 C464.8,321.5 463.4,322.2 466.2,320.9 C468.9,319.5 467.6,320.7 470.3,319.6 C473.1,318.4 471.7,319.2 474.4,317.5 C477.2,315.8 475.8,316.6 478.6,314.4 C481.3,312.2 479.9,312.6 482.7,310.8 C485.4,309.1 484.1,310.1 486.8,309.0 C489.6,308.0 488.2,308.8 490.9,307.8 C493.7,306.9 492.3,307.5 495.1,306.2 C497.8,304.8 496.4,305.6 499.2,303.8 C501.9,302.0 500.6,303.1 503.3,300.8 C506.1,298.6 504.7,300.0 507.4,297.2 C510.2,294.4 508.8,295.8 511.6,292.4 C514.3,289.1 512.9,290.6 515.7,287.1 C518.4,283.5 517.1,285.0 519.8,281.7 C522.6,278.3 521.2,279.8 523.9,277.0 C526.7,274.2 525.3,275.4 528.1,273.3 C530.8,271.1 529.4,272.2 532.2,270.6 C534.9,269.0 533.6,269.8 536.3,268.5 C539.1,267.3 537.7,268.0 540.4,266.9 C543.2,265.7 541.8,266.1 544.6,265.0 C547.3,263.9 545.9,264.4 548.7,263.6 C551.4,262.7 550.1,263.5 552.8,262.4 C555.6,261.4 554.2,262.1 556.9,260.5 C559.7,258.8 558.3,259.7 561.1,257.4 C563.8,255.2 562.4,255.9 565.2,253.6 C567.9,251.3 566.6,252.4 569.3,250.5 C572.1,248.5 570.7,249.5 573.4,247.7 C576.2,245.8 574.8,246.8 577.6,245.0 C580.3,243.1 578.9,244.0 581.7,242.1 C584.4,240.2 583.1,241.2 585.8,239.3 C588.6,237.4 587.2,238.3 589.9,236.3 C592.7,234.3 591.3,235.3 594.1,233.4 C596.8,231.5 595.4,232.1 598.2,230.7 C600.9,229.3 599.6,229.8 602.3,229.3 C605.1,228.8 603.7,228.8 606.4,229.2 C609.2,229.5 607.8,229.4 610.6,230.3 C613.3,231.2 611.9,231.1 614.7,231.9 C617.4,232.7 616.1,232.7 618.8,232.7 C621.6,232.6 620.2,233.2 622.9,231.8 C625.7,230.4 624.3,231.1 627.1,228.6 C629.8,226.0 628.4,227.2 631.2,224.2 C633.9,221.2 632.6,222.4 635.3,219.5 C638.1,216.5 636.7,217.7 639.4,215.3 C642.2,212.9 640.8,213.7 643.6,212.2 C646.3,210.7 644.9,211.4 647.7,210.7 C650.4,210.0 649.1,210.5 651.8,210.1 C654.6,209.7 653.2,210.2 655.9,209.6 C658.7,209.0 657.3,209.5 660.1,208.4 C662.8,207.3 661.4,207.9 664.2,206.3 C666.9,204.7 665.6,205.3 668.3,203.7 C671.1,202.0 669.7,202.4 672.4,201.3 C675.2,200.2 673.8,199.8 676.6,200.3 C679.3,200.7 677.9,200.4 680.7,202.6 C683.4,204.8 682.1,203.7 684.8,206.9 C687.6,210.0 686.2,209.0 688.9,212.0 C691.7,215.0 690.3,213.4 693.1,215.8 C695.8,218.2 694.4,216.8 697.2,219.3 C699.9,221.8 698.6,220.5 701.3,223.2 C704.1,225.9 702.7,224.6 705.4,227.5 C708.2,230.3 706.8,229.7 709.6,231.6 C712.3,233.5 710.9,232.9 713.7,233.2 C716.4,233.4 715.1,233.5 717.8,232.4 C720.6,231.2 719.2,231.2 721.9,229.7 C724.7,228.2 723.3,228.6 726.1,228.0 C728.8,227.3 727.4,226.9 730.2,227.8 C732.9,228.6 731.6,227.7 734.3,230.4 C737.1,233.1 735.7,231.6 738.4,235.9 C741.2,240.1 739.8,238.1 742.6,243.2 C745.3,248.2 743.9,245.9 746.7,251.0 C749.4,256.1 748.1,254.3 750.8,258.5 C753.6,262.6 752.2,260.7 754.9,263.5 C757.7,266.2 756.3,264.4 759.1,266.8 C761.8,269.3 760.4,267.1 763.2,270.8 C765.9,274.4 764.6,273.0 767.3,277.7 C770.1,282.4 768.7,280.7 771.4,284.9 C774.2,289.0 772.8,287.5 775.6,290.3 C778.3,293.0 776.9,291.5 779.7,293.1 C782.4,294.8 781.1,294.3 783.8,295.2 C786.6,296.0 785.2,296.1 787.9,295.7 C790.7,295.3 789.3,296.1 792.1,293.9 C794.8,291.8 793.4,292.9 796.2,289.3 C798.9,285.6 797.6,287.0 800.3,283.0 C803.1,279.1 801.7,280.2 804.4,277.4 C807.2,274.6 805.8,275.5 808.6,274.6 C811.3,273.7 809.9,274.0 812.7,274.8 C815.4,275.5 814.1,275.1 816.8,276.8 C819.6,278.6 818.2,277.3 820.9,280.1 C823.7,282.9 822.3,281.0 825.1,285.4 C827.8,289.7 826.4,287.5 829.2,293.1 C831.9,298.7 830.6,296.5 833.3,302.1 C836.1,307.6 834.7,305.8 837.4,309.8 C840.2,313.9 838.8,312.4 841.6,314.2 C844.3,316.0 842.9,315.3 845.7,315.2 C848.4,315.1 847.1,315.2 849.8,313.9 C852.6,312.7 851.2,313.4 853.9,311.4 C856.7,309.5 855.3,310.5 858.1,308.0 C860.8,305.5 859.4,306.8 862.2,303.9 C864.9,301.0 863.6,301.8 866.3,299.4 C869.1,296.9 867.7,297.8 870.4,296.5 C873.2,295.2 871.8,295.3 874.6,295.5 C877.3,295.8 875.9,296.0 878.7,297.2 C881.4,298.4 880.1,297.8 882.8,299.1 C885.6,300.3 884.2,300.5 886.9,301.0 C889.7,301.4 888.3,301.4 891.1,300.4 C893.8,299.3 892.4,300.2 895.2,297.8 C897.9,295.5 896.6,296.2 899.3,293.4 C902.1,290.5 900.7,291.8 903.4,289.3 C906.2,286.9 904.8,287.9 907.6,286.0 C910.3,284.1 908.9,284.6 911.7,283.6 C914.4,282.6 913.1,282.9 915.8,282.9 C918.6,282.9 917.2,282.7 919.9,283.7 C922.7,284.7 921.3,284.5 924.1,285.9 C926.8,287.3 925.4,286.9 928.2,288.0 C930.9,289.1 929.6,289.0 932.3,289.2 C935.1,289.4 933.7,289.4 936.4,288.5 C939.2,287.7 937.8,288.2 940.6,286.6 C943.3,285.0 941.9,285.7 944.7,283.9 C947.4,282.0 946.1,283.0 948.8,281.0 C951.6,279.1 950.2,280.0 952.9,278.1 C955.7,276.3 954.3,277.1 957.1,275.5 C959.8,273.9 958.4,274.6 961.2,273.3 C963.9,272.1 962.6,272.8 965.3,271.8 C968.1,270.8 966.7,271.5 969.4,270.3 C972.2,269.1 970.8,270.0 973.6,268.2 C976.3,266.4 974.9,267.4 977.7,264.9 C980.4,262.4 979.1,263.7 981.8,260.6 C984.6,257.5 983.2,258.8 985.9,255.6 C988.7,252.4 987.3,253.8 990.1,251.0 C992.8,248.2 991.4,249.6 994.2,247.2 C996.9,244.7 995.6,246.4 998.3,243.7 C1001.1,241.1 999.7,242.4 1002.4,239.3 C1005.2,236.1 1003.8,237.3 1006.6,234.3 C1009.3,231.3 1007.9,232.2 1010.7,230.2 C1013.4,228.2 1012.1,229.0 1014.8,228.3 C1017.6,227.6 1016.2,228.0 1018.9,228.1 C1021.7,228.2 1020.3,228.2 1023.1,228.6 C1025.8,228.9 1024.4,228.9 1027.2,229.0 C1029.9,229.1 1028.6,228.9 1031.3,228.9 C1034.1,229.0 1032.7,228.7 1035.4,229.1 C1038.2,229.4 1036.8,229.0 1039.6,230.1 C1042.3,231.1 1040.9,230.6 1043.7,232.2 C1046.4,233.9 1045.1,233.1 1047.8,235.0 C1050.6,236.9 1049.2,235.9 1051.9,237.9 C1054.7,239.9 1053.3,238.8 1056.1,241.0 C1058.8,243.2 1057.4,242.5 1060.2,244.4 C1062.9,246.4 1061.6,246.0 1064.3,246.8 C1067.1,247.6 1065.7,247.8 1068.4,246.8 C1071.2,245.9 1069.8,246.5 1072.6,243.9 C1075.3,241.2 1073.9,242.4 1076.7,238.9 C1079.4,235.5 1078.1,237.0 1080.8,233.5 C1083.6,230.0 1082.2,231.9 1084.9,228.5 C1087.7,225.2 1086.3,227.1 1089.1,223.5 C1091.8,219.9 1090.4,221.7 1093.2,217.7 C1095.9,213.8 1094.6,215.1 1097.3,211.7 C1100.1,208.2 1099.8,209.6 1101.4,207.4 C1103.1,205.2 1101.9,205.9 1102.2,205.1" fill="none" stroke="#38742a" stroke-width="1.3" stroke-linejoin="round" stroke-linecap="round" />
</g>
<rect x="20.19" y="633.5" width="3.73" height="42.8" fill="url(#vg)" stroke="#2c661c" stroke-width="0.9"/>
<rect x="24.31" y="630.4" width="3.73" height="45.9" fill="url(#vg)" stroke="#2c661c" stroke-width="0.9"/>
<rect x="28.44" y="619.9" width="3.73" height="56.4" fill="url(#vg)" stroke="#2c661c" stroke-width="0.9"/>
<rect x="32.56" y="621.6" width="3.73" height="54.7" fill="url(#vg)" stroke="#2c661c" stroke-width="0.9"/>
<rect x="36.69" y="630.4" width="3.73" height="45.9" fill="url(#vr)" stroke="#c41c24" stroke-width="0.9"/>
<rect x="40.81" y="615.4" width="3.73" height="60.9" fill="url(#vg)" stroke="#2c661c" stroke-width="0.9"/>
<rect x="44.94" y="624.5" width="3.73" height="51.8" fill="url(#vg)" stroke="#2c661c" stroke-width="0.9"/>
<rect x="49.06" y="624.5" width="3.73" height="51.8" fill="url(#vg)" stroke="#2c661c" stroke-width="0.9"/>
<rect x="53.19" y="638.1" width="3.73" height="38.2" fill="url(#vg)" stroke="#2c661c" stroke-width="0.9"/>
<rect x="57.31" y="624.5" width="3.73" height="51.8" fill="url(#vg)" stroke="#2c661c" stroke-width="0.9"/>
<rect x="61.44" y="625.9" width="3.73" height="50.4" fill="url(#vr)" stroke="#c41c24" stroke-width="0.9"/>
<rect x="65.56" y="619.9" width="3.73" height="56.4" fill="url(#vg)" stroke="#2c661c" stroke-width="0.9"/>
<rect x="69.69" y="622.9" width="3.73" height="53.4" fill="url(#vr)" stroke="#c41c24" stroke-width="0.9"/>
<rect x="73.81" y="630.4" width="3.73" height="45.9" fill="url(#vg)" stroke="#2c661c" stroke-width="0.9"/>
<rect x="77.94" y="630.4" width="3.73" height="45.9" fill="url(#vg)" stroke="#2c661c" stroke-width="0.9"/>
<rect x="82.06" y="635.0" width="3.73" height="41.3" fill="url(#vg)" stroke="#2c661c" stroke-width="0.9"/>
<rect x="86.19" y="638.1" width="3.73" height="38.2" fill="url(#vr)" stroke="#c41c24" stroke-width="0.9"/>
<rect x="90.31" y="629.1" width="3.73" height="47.2" fill="url(#vg)" stroke="#2c661c" stroke-width="0.9"/>
<rect x="94.44" y="627.5" width="3.73" height="48.8" fill="url(#vg)" stroke="#2c661c" stroke-width="0.9"/>
<rect x="98.56" y="629.1" width="3.73" height="47.2" fill="url(#vr)" stroke="#c41c24" stroke-width="0.9"/>
<rect x="102.69" y="629.1" width="3.73" height="47.2" fill="url(#vr)" stroke="#c41c24" stroke-width="0.9"/>
<rect x="106.81" y="633.5" width="3.73" height="42.8" fill="url(#vr)" stroke="#c41c24" stroke-width="0.9"/>
<rect x="110.94" y="636.5" width="3.73" height="39.8" fill="url(#vr)" stroke="#c41c24" stroke-width="0.9"/>
<rect x="115.06" y="627.5" width="3.73" height="48.8" fill="url(#vg)" stroke="#2c661c" stroke-width="0.9"/>
<rect x="119.19" y="635.0" width="3.73" height="41.3" fill="url(#vg)" stroke="#2c661c" stroke-width="0.9"/>
<rect x="123.31" y="627.5" width="3.73" height="48.8" fill="url(#vg)" stroke="#2c661c" stroke-width="0.9"/>
<rect x="127.44" y="627.5" width="3.73" height="48.8" fill="url(#vr)" stroke="#c41c24" stroke-width="0.9"/>
<rect x="131.56" y="648.6" width="3.73" height="27.7" fill="url(#vg)" stroke="#2c661c" stroke-width="0.9"/>
<rect x="135.69" y="638.1" width="3.73" height="38.2" fill="url(#vg)" stroke="#2c661c" stroke-width="0.9"/>
<rect x="139.81" y="635.0" width="3.73" height="41.3" fill="url(#vr)" stroke="#c41c24" stroke-width="0.9"/>
<rect x="143.94" y="633.7" width="3.73" height="42.6" fill="url(#vg)" stroke="#2c661c" stroke-width="0.9"/>
<rect x="148.06" y="624.5" width="3.73" height="51.8" fill="url(#vr)" stroke="#c41c24" stroke-width="0.9"/>
<rect x="152.19" y="624.5" width="3.73" height="51.8" fill="url(#vr)" stroke="#c41c24" stroke-width="0.9"/>
<rect x="156.31" y="625.9" width="3.73" height="50.4" fill="url(#vr)" stroke="#c41c24" stroke-width="0.9"/>
<rect x="160.44" y="635.0" width="3.73" height="41.3" fill="url(#vr)" stroke="#c41c24" stroke-width="0.9"/>
<rect x="164.56" y="638.1" width="3.73" height="38.2" fill="url(#vg)" stroke="#2c661c" stroke-width="0.9"/>
<rect x="168.69" y="644.7" width="3.73" height="31.6" fill="url(#vg)" stroke="#2c661c" stroke-width="0.9"/>
<rect x="172.81" y="627.5" width="3.73" height="48.8" fill="url(#vg)" stroke="#2c661c" stroke-width="0.9"/>
<rect x="176.94" y="629.1" width="3.73" height="47.2" fill="url(#vr)" stroke="#c41c24" stroke-width="0.9"/>
<rect x="181.06" y="636.8" width="3.73" height="39.5" fill="url(#vr)" stroke="#c41c24" stroke-width="0.9"/>
<rect x="185.19" y="633.7" width="3.73" height="42.6" fill="url(#vr)" stroke="#c41c24" stroke-width="0.9"/>
<rect x="189.31" y="638.1" width="3.73" height="38.2" fill="url(#vg)" stroke="#2c661c" stroke-width="0.9"/>
<rect x="193.44" y="638.1" width="3.73" height="38.2" fill="url(#vg)" stroke="#2c661c" stroke-width="0.9"/>
<rect x="197.56" y="633.7" width="3.73" height="42.6" fill="url(#vg)" stroke="#2c661c" stroke-width="0.9"/>
<rect x="201.69" y="630.4" width="3.73" height="45.9" fill="url(#vg)" stroke="#2c661c" stroke-width="0.9"/>
<rect x="205.81" y="629.1" width="3.73" height="47.2" fill="url(#vg)" stroke="#2c661c" stroke-width="0.9"/>
<rect x="209.94" y="638.3" width="3.73" height="38.0" fill="url(#vg)" stroke="#2c661c" stroke-width="0.9"/>
<rect x="214.06" y="632.1" width="3.73" height="44.2" fill="url(#vr)" stroke="#c41c24" stroke-width="0.9"/>
<rect x="218.19" y="645.7" width="3.73" height="30.6" fill="url(#vg)" stroke="#2c661c" stroke-width="0.9"/>
<rect x="222.31" y="635.0" width="3.73" height="41.3" fill="url(#vg)" stroke="#2c661c" stroke-width="0.9"/>
<rect x="226.44" y="633.7" width="3.73" height="42.6" fill="url(#vg)" stroke="#2c661c" stroke-width="0.9"/>
<rect x="230.56" y="620.0" width="3.73" height="56.3" fill="url(#vg)" stroke="#2c661c" stroke-width="0.9"/>
<rect x="234.69" y="656.5" width="3.73" height="19.8" fill="url(#vg)" stroke="#2c661c" stroke-width="0.9"/>
<rect x="238.81" y="648.6" width="3.73" height="27.7" fill="url(#vr)" stroke="#c41c24" stroke-width="0.9"/>
<rect x="242.94" y="633.7" width="3.73" height="42.6" fill="url(#vg)" stroke="#2c661c" stroke-width="0.9"/>
<rect x="247.06" y="632.1" width="3.73" height="44.2" fill="url(#vg)" stroke="#2c661c" stroke-width="0.9"/>
<rect x="251.19" y="638.3" width="3.73" height="38.0" fill="url(#vr)" stroke="#c41c24" stroke-width="0.9"/>
<rect x="255.31" y="624.5" width="3.73" height="51.8" fill="url(#vr)" stroke="#c41c24" stroke-width="0.9"/>
<rect x="259.44" y="627.5" width="3.73" height="48.8" fill="url(#vg)" stroke="#2c661c" stroke-width="0.9"/>
<rect x="263.56" y="633.7" width="3.73" height="42.6" fill="url(#vg)" stroke="#2c661c" stroke-width="0.9"/>
<rect x="267.69" y="639.7" width="3.73" height="36.6" fill="url(#vr)" stroke="#c41c24" stroke-width="0.9"/>
<rect x="271.81" y="593.2" width="3.73" height="83.1" fill="url(#vr)" stroke="#c41c24" stroke-width="0.9"/>
<rect x="275.94" y="593.2" width="3.73" height="83.1" fill="url(#vg)" stroke="#2c661c" stroke-width="0.9"/>
<rect x="280.06" y="567.5" width="3.73" height="108.8" fill="url(#vr)" stroke="#c41c24" stroke-width="0.9"/>
<rect x="284.19" y="561.3" width="3.73" height="115.0" fill="url(#vr)" stroke="#c41c24" stroke-width="0.9"/>
<rect x="288.31" y="573.7" width="3.73" height="102.6" fill="url(#vg)" stroke="#2c661c" stroke-width="0.9"/>
<rect x="292.44" y="591.7" width="3.73" height="84.6" fill="url(#vr)" stroke="#c41c24" stroke-width="0.9"/>
<rect x="296.56" y="602.2" width="3.73" height="74.1" fill="url(#vg)" stroke="#2c661c" stroke-width="0.9"/>
<rect x="300.69" y="602.2" width="3.73" height="74.1" fill="url(#vg)" stroke="#2c661c" stroke-width="0.9"/>
<rect x="304.81" y="608.4" width="3.73" height="67.9" fill="url(#vr)" stroke="#c41c24" stroke-width="0.9"/>
<rect x="308.94" y="599.2" width="3.73" height="77.1" fill="url(#vr)" stroke="#c41c24" stroke-width="0.9"/>
<rect x="313.06" y="611.4" width="3.73" height="64.9" fill="url(#vg)" stroke="#2c661c" stroke-width="0.9"/>
<rect x="317.19" y="605.1" width="3.73" height="71.2" fill="url(#vr)" stroke="#c41c24" stroke-width="0.9"/>
<rect x="321.31" y="609.7" width="3.73" height="66.6" fill="url(#vg)" stroke="#2c661c" stroke-width="0.9"/>
<rect x="325.44" y="608.1" width="3.73" height="68.2" fill="url(#vg)" stroke="#2c661c" stroke-width="0.9"/>
<rect x="329.56" y="597.5" width="3.73" height="78.8" fill="url(#vg)" stroke="#2c661c" stroke-width="0.9"/>
<rect x="333.69" y="593.2" width="3.73" height="83.1" fill="url(#vr)" stroke="#c41c24" stroke-width="0.9"/>
<rect x="337.81" y="600.5" width="3.73" height="75.8" fill="url(#vg)" stroke="#2c661c" stroke-width="0.9"/>
<rect x="341.94" y="603.5" width="3.73" height="72.8" fill="url(#vr)" stroke="#c41c24" stroke-width="0.9"/>
<rect x="346.06" y="627.5" width="3.73" height="48.8" fill="url(#vg)" stroke="#2c661c" stroke-width="0.9"/>
<rect x="350.19" y="620.0" width="3.73" height="56.3" fill="url(#vg)" stroke="#2c661c" stroke-width="0.9"/>
<rect x="354.31" y="617.0" width="3.73" height="59.3" fill="url(#vg)" stroke="#2c661c" stroke-width="0.9"/>
<rect x="358.44" y="620.0" width="3.73" height="56.3" fill="url(#vr)" stroke="#c41c24" stroke-width="0.9"/>
<rect x="362.56" y="618.6" width="3.73" height="57.7" fill="url(#vg)" stroke="#2c661c" stroke-width="0.9"/>
<rect x="366.69" y="621.6" width="3.73" height="54.7" fill="url(#vg)" stroke="#2c661c" stroke-width="0.9"/>
<rect x="370.81" y="623.0" width="3.73" height="53.3" fill="url(#vg)" stroke="#2c661c" stroke-width="0.9"/>
<rect x="374.94" y="632.1" width="3.73" height="44.2" fill="url(#vg)" stroke="#2c661c" stroke-width="0.9"/>
<rect x="379.06" y="627.5" width="3.73" height="48.8" fill="url(#vg)" stroke="#2c661c" stroke-width="0.9"/>
<rect x="383.19" y="612.5" width="3.73" height="63.8" fill="url(#vr)" stroke="#c41c24" stroke-width="0.9"/>
<rect x="387.31" y="627.5" width="3.73" height="48.8" fill="url(#vr)" stroke="#c41c24" stroke-width="0.9"/>
<rect x="391.44" y="609.5" width="3.73" height="66.8" fill="url(#vr)" stroke="#c41c24" stroke-width="0.9"/>
<rect x="395.56" y="618.6" width="3.73" height="57.7" fill="url(#vr)" stroke="#c41c24" stroke-width="0.9"/>
<rect x="399.69" y="623.0" width="3.73" height="53.3" fill="url(#vg)" stroke="#2c661c" stroke-width="0.9"/>
<rect x="403.81" y="624.5" width="3.73" height="51.8" fill="url(#vg)" stroke="#2c661c" stroke-width="0.9"/>
<rect x="407.94" y="624.5" width="3.73" height="51.8" fill="url(#vg)" stroke="#2c661c" stroke-width="0.9"/>
<rect x="412.06" y="626.2" width="3.73" height="50.1" fill="url(#vr)" stroke="#c41c24" stroke-width="0.9"/>
<rect x="416.19" y="612.5" width="3.73" height="63.8" fill="url(#vr)" stroke="#c41c24" stroke-width="0.9"/>
<rect x="420.31" y="618.6" width="3.73" height="57.7" fill="url(#vg)" stroke="#2c661c" stroke-width="0.9"/>
<rect x="424.44" y="603.5" width="3.73" height="72.8" fill="url(#vg)" stroke="#2c661c" stroke-width="0.9"/>
<rect x="428.56" y="618.6" width="3.73" height="57.7" fill="url(#vr)" stroke="#c41c24" stroke-width="0.9"/>
<rect x="432.69" y="633.7" width="3.73" height="42.6" fill="url(#vg)" stroke="#2c661c" stroke-width="0.9"/>
<rect x="436.81" y="611.0" width="3.73" height="65.3" fill="url(#vg)" stroke="#2c661c" stroke-width="0.9"/>
<rect x="440.94" y="620.0" width="3.73" height="56.3" fill="url(#vr)" stroke="#c41c24" stroke-width="0.9"/>
<rect x="445.06" y="612.5" width="3.73" height="63.8" fill="url(#vg)" stroke="#2c661c" stroke-width="0.9"/>
<rect x="449.19" y="641.1" width="3.73" height="35.2" fill="url(#vr)" stroke="#c41c24" stroke-width="0.9"/>
<rect x="453.31" y="645.7" width="3.73" height="30.6" fill="url(#vg)" stroke="#2c661c" stroke-width="0.9"/>
<rect x="457.44" y="614.1" width="3.73" height="62.2" fill="url(#vg)" stroke="#2c661c" stroke-width="0.9"/>
<rect x="461.56" y="617.0" width="3.73" height="59.3" fill="url(#vr)" stroke="#c41c24" stroke-width="0.9"/>
<rect x="465.69" y="630.7" width="3.73" height="45.6" fill="url(#vg)" stroke="#2c661c" stroke-width="0.9"/>
<rect x="469.81" y="603.5" width="3.73" height="72.8" fill="url(#vr)" stroke="#c41c24" stroke-width="0.9"/>
<rect x="473.94" y="621.6" width="3.73" height="54.7" fill="url(#vg)" stroke="#2c661c" stroke-width="0.9"/>
<rect x="478.06" y="629.1" width="3.73" height="47.2" fill="url(#vg)" stroke="#2c661c" stroke-width="0.9"/>
<rect x="482.19" y="635.0" width="3.73" height="41.3" fill="url(#vr)" stroke="#c41c24" stroke-width="0.9"/>
<rect x="486.31" y="609.5" width="3.73" height="66.8" fill="url(#vr)" stroke="#c41c24" stroke-width="0.9"/>
<rect x="490.44" y="611.0" width="3.73" height="65.3" fill="url(#vg)" stroke="#2c661c" stroke-width="0.9"/>
<rect x="494.56" y="614.1" width="3.73" height="62.2" fill="url(#vg)" stroke="#2c661c" stroke-width="0.9"/>
<rect x="498.69" y="608.1" width="3.73" height="68.2" fill="url(#vr)" stroke="#c41c24" stroke-width="0.9"/>
<rect x="502.81" y="620.0" width="3.73" height="56.3" fill="url(#vg)" stroke="#2c661c" stroke-width="0.9"/>
<rect x="506.94" y="633.7" width="3.73" height="42.6" fill="url(#vg)" stroke="#2c661c" stroke-width="0.9"/>
<rect x="511.06" y="629.1" width="3.73" height="47.2" fill="url(#vg)" stroke="#2c661c" stroke-width="0.9"/>
<rect x="515.19" y="627.5" width="3.73" height="48.8" fill="url(#vg)" stroke="#2c661c" stroke-width="0.9"/>
<rect x="519.31" y="626.2" width="3.73" height="50.1" fill="url(#vr)" stroke="#c41c24" stroke-width="0.9"/>
<rect x="523.44" y="624.5" width="3.73" height="51.8" fill="url(#vg)" stroke="#2c661c" stroke-width="0.9"/>
<rect x="527.56" y="626.2" width="3.73" height="50.1" fill="url(#vg)" stroke="#2c661c" stroke-width="0.9"/>
<rect x="531.69" y="624.5" width="3.73" height="51.8" fill="url(#vr)" stroke="#c41c24" stroke-width="0.9"/>
<rect x="535.81" y="623.0" width="3.73" height="53.3" fill="url(#vr)" stroke="#c41c24" stroke-width="0.9"/>
<rect x="539.94" y="623.0" width="3.73" height="53.3" fill="url(#vg)" stroke="#2c661c" stroke-width="0.9"/>
<rect x="544.06" y="638.1" width="3.73" height="38.2" fill="url(#vg)" stroke="#2c661c" stroke-width="0.9"/>
<rect x="548.19" y="633.7" width="3.73" height="42.6" fill="url(#vg)" stroke="#2c661c" stroke-width="0.9"/>
<rect x="552.31" y="620.0" width="3.73" height="56.3" fill="url(#vr)" stroke="#c41c24" stroke-width="0.9"/>
<rect x="556.44" y="629.1" width="3.73" height="47.2" fill="url(#vg)" stroke="#2c661c" stroke-width="0.9"/>
<rect x="560.56" y="633.7" width="3.73" height="42.6" fill="url(#vg)" stroke="#2c661c" stroke-width="0.9"/>
<rect x="564.69" y="639.7" width="3.73" height="36.6" fill="url(#vg)" stroke="#2c661c" stroke-width="0.9"/>
<rect x="568.81" y="632.1" width="3.73" height="44.2" fill="url(#vr)" stroke="#c41c24" stroke-width="0.9"/>
<rect x="572.94" y="624.5" width="3.73" height="51.8" fill="url(#vg)" stroke="#2c661c" stroke-width="0.9"/>
<rect x="577.06" y="629.1" width="3.73" height="47.2" fill="url(#vr)" stroke="#c41c24" stroke-width="0.9"/>
<rect x="581.19" y="629.1" width="3.73" height="47.2" fill="url(#vg)" stroke="#2c661c" stroke-width="0.9"/>
<rect x="585.31" y="636.8" width="3.73" height="39.5" fill="url(#vg)" stroke="#2c661c" stroke-width="0.9"/>
<rect x="589.44" y="632.1" width="3.73" height="44.2" fill="url(#vr)" stroke="#c41c24" stroke-width="0.9"/>
<rect x="593.56" y="636.8" width="3.73" height="39.5" fill="url(#vg)" stroke="#2c661c" stroke-width="0.9"/>
<rect x="597.69" y="635.0" width="3.73" height="41.3" fill="url(#vg)" stroke="#2c661c" stroke-width="0.9"/>
<rect x="601.81" y="642.7" width="3.73" height="33.6" fill="url(#vr)" stroke="#c41c24" stroke-width="0.9"/>
<rect x="605.94" y="621.6" width="3.73" height="54.7" fill="url(#vr)" stroke="#c41c24" stroke-width="0.9"/>
<rect x="610.06" y="629.1" width="3.73" height="47.2" fill="url(#vg)" stroke="#2c661c" stroke-width="0.9"/>
<rect x="614.19" y="626.2" width="3.73" height="50.1" fill="url(#vr)" stroke="#c41c24" stroke-width="0.9"/>
<rect x="618.31" y="629.1" width="3.73" height="47.2" fill="url(#vg)" stroke="#2c661c" stroke-width="0.9"/>
<rect x="622.44" y="632.1" width="3.73" height="44.2" fill="url(#vg)" stroke="#2c661c" stroke-width="0.9"/>
<rect x="626.56" y="633.7" width="3.73" height="42.6" fill="url(#vg)" stroke="#2c661c" stroke-width="0.9"/>
<rect x="630.69" y="627.5" width="3.73" height="48.8" fill="url(#vg)" stroke="#2c661c" stroke-width="0.9"/>
<rect x="634.81" y="623.0" width="3.73" height="53.3" fill="url(#vg)" stroke="#2c661c" stroke-width="0.9"/>
<rect x="638.94" y="623.0" width="3.73" height="53.3" fill="url(#vg)" stroke="#2c661c" stroke-width="0.9"/>
<rect x="643.06" y="629.1" width="3.73" height="47.2" fill="url(#vr)" stroke="#c41c24" stroke-width="0.9"/>
<rect x="647.19" y="627.5" width="3.73" height="48.8" fill="url(#vg)" stroke="#2c661c" stroke-width="0.9"/>
<rect x="651.31" y="636.8" width="3.73" height="39.5" fill="url(#vr)" stroke="#c41c24" stroke-width="0.9"/>
<rect x="655.44" y="606.4" width="3.73" height="69.9" fill="url(#vr)" stroke="#c41c24" stroke-width="0.9"/>
<rect x="659.56" y="623.0" width="3.73" height="53.3" fill="url(#vg)" stroke="#2c661c" stroke-width="0.9"/>
<rect x="663.69" y="608.1" width="3.73" height="68.2" fill="url(#vr)" stroke="#c41c24" stroke-width="0.9"/>
<rect x="667.81" y="638.3" width="3.73" height="38.0" fill="url(#vg)" stroke="#2c661c" stroke-width="0.9"/>
<rect x="671.94" y="644.4" width="3.73" height="31.9" fill="url(#vg)" stroke="#2c661c" stroke-width="0.9"/>
<rect x="676.06" y="617.0" width="3.73" height="59.3" fill="url(#vr)" stroke="#c41c24" stroke-width="0.9"/>
<rect x="680.19" y="620.0" width="3.73" height="56.3" fill="url(#vr)" stroke="#c41c24" stroke-width="0.9"/>
<rect x="684.31" y="624.5" width="3.73" height="51.8" fill="url(#vr)" stroke="#c41c24" stroke-width="0.9"/>
<rect x="688.44" y="600.5" width="3.73" height="75.8" fill="url(#vg)" stroke="#2c661c" stroke-width="0.9"/>
<rect x="692.56" y="611.0" width="3.73" height="65.3" fill="url(#vg)" stroke="#2c661c" stroke-width="0.9"/>
<rect x="696.69" y="615.7" width="3.73" height="60.6" fill="url(#vr)" stroke="#c41c24" stroke-width="0.9"/>
<rect x="700.81" y="620.0" width="3.73" height="56.3" fill="url(#vr)" stroke="#c41c24" stroke-width="0.9"/>
<rect x="704.94" y="623.0" width="3.73" height="53.3" fill="url(#vg)" stroke="#2c661c" stroke-width="0.9"/>
<rect x="709.06" y="606.4" width="3.73" height="69.9" fill="url(#vr)" stroke="#c41c24" stroke-width="0.9"/>
<rect x="713.19" y="606.4" width="3.73" height="69.9" fill="url(#vr)" stroke="#c41c24" stroke-width="0.9"/>
<rect x="717.31" y="606.4" width="3.73" height="69.9" fill="url(#vg)" stroke="#2c661c" stroke-width="0.9"/>
<rect x="721.44" y="624.5" width="3.73" height="51.8" fill="url(#vg)" stroke="#2c661c" stroke-width="0.9"/>
<rect x="725.56" y="623.0" width="3.73" height="53.3" fill="url(#vg)" stroke="#2c661c" stroke-width="0.9"/>
<rect x="729.69" y="620.0" width="3.73" height="56.3" fill="url(#vr)" stroke="#c41c24" stroke-width="0.9"/>
<rect x="733.81" y="633.7" width="3.73" height="42.6" fill="url(#vr)" stroke="#c41c24" stroke-width="0.9"/>
<rect x="737.94" y="621.6" width="3.73" height="54.7" fill="url(#vr)" stroke="#c41c24" stroke-width="0.9"/>
<rect x="742.06" y="612.5" width="3.73" height="63.8" fill="url(#vr)" stroke="#c41c24" stroke-width="0.9"/>
<rect x="746.19" y="612.5" width="3.73" height="63.8" fill="url(#vr)" stroke="#c41c24" stroke-width="0.9"/>
<rect x="750.31" y="609.5" width="3.73" height="66.8" fill="url(#vr)" stroke="#c41c24" stroke-width="0.9"/>
<rect x="754.44" y="615.7" width="3.73" height="60.6" fill="url(#vr)" stroke="#c41c24" stroke-width="0.9"/>
<rect x="758.56" y="621.6" width="3.73" height="54.7" fill="url(#vg)" stroke="#2c661c" stroke-width="0.9"/>
<rect x="762.69" y="630.4" width="3.73" height="45.9" fill="url(#vr)" stroke="#c41c24" stroke-width="0.9"/>
<rect x="766.81" y="627.5" width="3.73" height="48.8" fill="url(#vr)" stroke="#c41c24" stroke-width="0.9"/>
<rect x="770.94" y="600.5" width="3.73" height="75.8" fill="url(#vr)" stroke="#c41c24" stroke-width="0.9"/>
<rect x="775.06" y="624.5" width="3.73" height="51.8" fill="url(#vg)" stroke="#2c661c" stroke-width="0.9"/>
<rect x="779.19" y="623.0" width="3.73" height="53.3" fill="url(#vr)" stroke="#c41c24" stroke-width="0.9"/>
<rect x="783.31" y="636.8" width="3.73" height="39.5" fill="url(#vg)" stroke="#2c661c" stroke-width="0.9"/>
<rect x="787.44" y="627.5" width="3.73" height="48.8" fill="url(#vr)" stroke="#c41c24" stroke-width="0.9"/>
<rect x="791.56" y="623.0" width="3.73" height="53.3" fill="url(#vg)" stroke="#2c661c" stroke-width="0.9"/>
<rect x="795.69" y="621.6" width="3.73" height="54.7" fill="url(#vg)" stroke="#2c661c" stroke-width="0.9"/>
<rect x="799.81" y="624.5" width="3.73" height="51.8" fill="url(#vg)" stroke="#2c661c" stroke-width="0.9"/>
<rect x="803.94" y="629.1" width="3.73" height="47.2" fill="url(#vg)" stroke="#2c661c" stroke-width="0.9"/>
<rect x="808.06" y="633.7" width="3.73" height="42.6" fill="url(#vr)" stroke="#c41c24" stroke-width="0.9"/>
<rect x="812.19" y="632.1" width="3.73" height="44.2" fill="url(#vr)" stroke="#c41c24" stroke-width="0.9"/>
<rect x="816.31" y="626.2" width="3.73" height="50.1" fill="url(#vr)" stroke="#c41c24" stroke-width="0.9"/>
<rect x="820.44" y="635.0" width="3.73" height="41.3" fill="url(#vg)" stroke="#2c661c" stroke-width="0.9"/>
<rect x="824.56" y="611.0" width="3.73" height="65.3" fill="url(#vr)" stroke="#c41c24" stroke-width="0.9"/>
<rect x="828.69" y="620.0" width="3.73" height="56.3" fill="url(#vr)" stroke="#c41c24" stroke-width="0.9"/>
<rect x="832.81" y="612.5" width="3.73" height="63.8" fill="url(#vr)" stroke="#c41c24" stroke-width="0.9"/>
<rect x="836.94" y="614.1" width="3.73" height="62.2" fill="url(#vg)" stroke="#2c661c" stroke-width="0.9"/>
<rect x="841.06" y="614.1" width="3.73" height="62.2" fill="url(#vr)" stroke="#c41c24" stroke-width="0.9"/>
<rect x="845.19" y="615.7" width="3.73" height="60.6" fill="url(#vg)" stroke="#2c661c" stroke-width="0.9"/>
<rect x="849.31" y="611.0" width="3.73" height="65.3" fill="url(#vg)" stroke="#2c661c" stroke-width="0.9"/>
<rect x="853.44" y="609.5" width="3.73" height="66.8" fill="url(#vr)" stroke="#c41c24" stroke-width="0.9"/>
<rect x="857.56" y="611.0" width="3.73" height="65.3" fill="url(#vg)" stroke="#2c661c" stroke-width="0.9"/>
<rect x="861.69" y="620.0" width="3.73" height="56.3" fill="url(#vr)" stroke="#c41c24" stroke-width="0.9"/>
<rect x="865.81" y="645.7" width="3.73" height="30.6" fill="url(#vg)" stroke="#2c661c" stroke-width="0.9"/>
<rect x="869.94" y="620.0" width="3.73" height="56.3" fill="url(#vg)" stroke="#2c661c" stroke-width="0.9"/>
<rect x="874.06" y="624.5" width="3.73" height="51.8" fill="url(#vr)" stroke="#c41c24" stroke-width="0.9"/>
<rect x="878.19" y="603.5" width="3.73" height="72.8" fill="url(#vr)" stroke="#c41c24" stroke-width="0.9"/>
<rect x="882.31" y="627.5" width="3.73" height="48.8" fill="url(#vr)" stroke="#c41c24" stroke-width="0.9"/>
<rect x="886.44" y="644.4" width="3.73" height="31.9" fill="url(#vr)" stroke="#c41c24" stroke-width="0.9"/>
<rect x="890.56" y="632.1" width="3.73" height="44.2" fill="url(#vg)" stroke="#2c661c" stroke-width="0.9"/>
<rect x="894.69" y="621.6" width="3.73" height="54.7" fill="url(#vg)" stroke="#2c661c" stroke-width="0.9"/>
<rect x="898.81" y="629.1" width="3.73" height="47.2" fill="url(#vr)" stroke="#c41c24" stroke-width="0.9"/>
<rect x="902.94" y="621.6" width="3.73" height="54.7" fill="url(#vg)" stroke="#2c661c" stroke-width="0.9"/>
<rect x="907.06" y="609.5" width="3.73" height="66.8" fill="url(#vg)" stroke="#2c661c" stroke-width="0.9"/>
<rect x="911.19" y="620.0" width="3.73" height="56.3" fill="url(#vr)" stroke="#c41c24" stroke-width="0.9"/>
<rect x="915.31" y="624.5" width="3.73" height="51.8" fill="url(#vr)" stroke="#c41c24" stroke-width="0.9"/>
<rect x="919.44" y="633.7" width="3.73" height="42.6" fill="url(#vr)" stroke="#c41c24" stroke-width="0.9"/>
<rect x="923.56" y="623.0" width="3.73" height="53.3" fill="url(#vg)" stroke="#2c661c" stroke-width="0.9"/>
<rect x="927.69" y="620.0" width="3.73" height="56.3" fill="url(#vr)" stroke="#c41c24" stroke-width="0.9"/>
<rect x="931.81" y="582.4" width="3.73" height="93.9" fill="url(#vg)" stroke="#2c661c" stroke-width="0.9"/>
<rect x="935.94" y="612.5" width="3.73" height="63.8" fill="url(#vg)" stroke="#2c661c" stroke-width="0.9"/>
<rect x="940.06" y="624.5" width="3.73" height="51.8" fill="url(#vg)" stroke="#2c661c" stroke-width="0.9"/>
<rect x="944.19" y="635.0" width="3.73" height="41.3" fill="url(#vr)" stroke="#c41c24" stroke-width="0.9"/>
<rect x="948.31" y="627.5" width="3.73" height="48.8" fill="url(#vg)" stroke="#2c661c" stroke-width="0.9"/>
<rect x="952.44" y="624.5" width="3.73" height="51.8" fill="url(#vr)" stroke="#c41c24" stroke-width="0.9"/>
<rect x="956.56" y="617.0" width="3.73" height="59.3" fill="url(#vg)" stroke="#2c661c" stroke-width="0.9"/>
<rect x="960.69" y="617.0" width="3.73" height="59.3" fill="url(#vr)" stroke="#c41c24" stroke-width="0.9"/>
<rect x="964.81" y="626.2" width="3.73" height="50.1" fill="url(#vr)" stroke="#c41c24" stroke-width="0.9"/>
<rect x="968.94" y="623.0" width="3.73" height="53.3" fill="url(#vg)" stroke="#2c661c" stroke-width="0.9"/>
<rect x="973.06" y="618.6" width="3.73" height="57.7" fill="url(#vg)" stroke="#2c661c" stroke-width="0.9"/>
<rect x="977.19" y="620.0" width="3.73" height="56.3" fill="url(#vg)" stroke="#2c661c" stroke-width="0.9"/>
<rect x="981.31" y="623.0" width="3.73" height="53.3" fill="url(#vg)" stroke="#2c661c" stroke-width="0.9"/>
<rect x="985.44" y="609.5" width="3.73" height="66.8" fill="url(#vg)" stroke="#2c661c" stroke-width="0.9"/>
<rect x="989.56" y="630.4" width="3.73" height="45.9" fill="url(#vr)" stroke="#c41c24" stroke-width="0.9"/>
<rect x="993.69" y="623.0" width="3.73" height="53.3" fill="url(#vg)" stroke="#2c661c" stroke-width="0.9"/>
<rect x="997.81" y="641.1" width="3.73" height="35.2" fill="url(#vr)" stroke="#c41c24" stroke-width="0.9"/>
<rect x="1001.94" y="624.5" width="3.73" height="51.8" fill="url(#vg)" stroke="#2c661c" stroke-width="0.9"/>
<rect x="1006.06" y="614.1" width="3.73" height="62.2" fill="url(#vg)" stroke="#2c661c" stroke-width="0.9"/>
<rect x="1010.19" y="621.6" width="3.73" height="54.7" fill="url(#vg)" stroke="#2c661c" stroke-width="0.9"/>
<rect x="1014.31" y="621.6" width="3.73" height="54.7" fill="url(#vr)" stroke="#c41c24" stroke-width="0.9"/>
<rect x="1018.44" y="629.1" width="3.73" height="47.2" fill="url(#vr)" stroke="#c41c24" stroke-width="0.9"/>
<rect x="1022.56" y="629.1" width="3.73" height="47.2" fill="url(#vr)" stroke="#c41c24" stroke-width="0.9"/>
<rect x="1026.69" y="630.4" width="3.73" height="45.9" fill="url(#vg)" stroke="#2c661c" stroke-width="0.9"/>
<rect x="1030.81" y="632.1" width="3.73" height="44.2" fill="url(#vg)" stroke="#2c661c" stroke-width="0.9"/>
<rect x="1034.94" y="635.0" width="3.73" height="41.3" fill="url(#vr)" stroke="#c41c24" stroke-width="0.9"/>
<rect x="1039.06" y="615.7" width="3.73" height="60.6" fill="url(#vr)" stroke="#c41c24" stroke-width="0.9"/>
<rect x="1043.19" y="629.1" width="3.73" height="47.2" fill="url(#vr)" stroke="#c41c24" stroke-width="0.9"/>
<rect x="1047.31" y="626.2" width="3.73" height="50.1" fill="url(#vr)" stroke="#c41c24" stroke-width="0.9"/>
<rect x="1051.44" y="621.6" width="3.73" height="54.7" fill="url(#vg)" stroke="#2c661c" stroke-width="0.9"/>
<rect x="1055.56" y="626.2" width="3.73" height="50.1" fill="url(#vg)" stroke="#2c661c" stroke-width="0.9"/>
<rect x="1059.69" y="620.0" width="3.73" height="56.3" fill="url(#vr)" stroke="#c41c24" stroke-width="0.9"/>
<rect x="1063.81" y="614.1" width="3.73" height="62.2" fill="url(#vr)" stroke="#c41c24" stroke-width="0.9"/>
<rect x="1067.94" y="612.5" width="3.73" height="63.8" fill="url(#vg)" stroke="#2c661c" stroke-width="0.9"/>
<rect x="1072.06" y="623.0" width="3.73" height="53.3" fill="url(#vg)" stroke="#2c661c" stroke-width="0.9"/>
<rect x="1076.19" y="620.0" width="3.73" height="56.3" fill="url(#vg)" stroke="#2c661c" stroke-width="0.9"/>
<rect x="1080.31" y="644.4" width="3.73" height="31.9" fill="url(#vg)" stroke="#2c661c" stroke-width="0.9"/>
<rect x="1084.44" y="618.6" width="3.73" height="57.7" fill="url(#vg)" stroke="#2c661c" stroke-width="0.9"/>
<rect x="1088.56" y="620.0" width="3.73" height="56.3" fill="url(#vg)" stroke="#2c661c" stroke-width="0.9"/>
<rect x="1092.69" y="596.1" width="3.73" height="80.2" fill="url(#vg)" stroke="#2c661c" stroke-width="0.9"/>
<rect x="1096.81" y="624.5" width="3.73" height="51.8" fill="url(#vg)" stroke="#2c661c" stroke-width="0.9"/>
<rect x="1100.94" y="647.3" width="3.73" height="29.0" fill="url(#vg)" stroke="#2c661c" stroke-width="0.9"/>
<g clip-path="url(#cM)">
<rect x="20.19" y="743.0" width="3.73" height="11.8" fill="#a9cd85" stroke="#6a9a52" stroke-width="0.9"/>
<rect x="24.31" y="743.0" width="3.73" height="9.9" fill="#a9cd85" stroke="#6a9a52" stroke-width="0.9"/>
<rect x="28.44" y="743.0" width="3.73" height="7.2" fill="#a9cd85" stroke="#6a9a52" stroke-width="0.9"/>
<rect x="32.56" y="743.0" width="3.73" height="4.3" fill="#a9cd85" stroke="#6a9a52" stroke-width="0.9"/>
<rect x="36.69" y="743.0" width="3.73" height="0.9" fill="#a9cd85" stroke="#6a9a52" stroke-width="0.9"/>
<rect x="40.81" y="741.2" width="3.73" height="1.8" fill="#a9cd85" stroke="#6a9a52" stroke-width="0.9"/>
<rect x="44.94" y="739.7" width="3.73" height="3.3" fill="#a9cd85" stroke="#6a9a52" stroke-width="0.9"/>
<rect x="49.06" y="736.8" width="3.73" height="6.2" fill="#a9cd85" stroke="#6a9a52" stroke-width="0.9"/>
<rect x="53.19" y="735.4" width="3.73" height="7.6" fill="#a9cd85" stroke="#6a9a52" stroke-width="0.9"/>
<rect x="57.31" y="735.3" width="3.73" height="7.7" fill="#a9cd85" stroke="#6a9a52" stroke-width="0.9"/>
<rect x="61.44" y="735.2" width="3.73" height="7.8" fill="#a9cd85" stroke="#6a9a52" stroke-width="0.9"/>
<rect x="65.56" y="735.2" width="3.73" height="7.8" fill="#a9cd85" stroke="#6a9a52" stroke-width="0.9"/>
<rect x="69.69" y="735.2" width="3.73" height="7.8" fill="#a9cd85" stroke="#6a9a52" stroke-width="0.9"/>
<rect x="73.81" y="735.2" width="3.73" height="7.8" fill="#a9cd85" stroke="#6a9a52" stroke-width="0.9"/>
<rect x="77.94" y="735.1" width="3.73" height="7.9" fill="#a9cd85" stroke="#6a9a52" stroke-width="0.9"/>
<rect x="82.06" y="734.8" width="3.73" height="8.2" fill="#a9cd85" stroke="#6a9a52" stroke-width="0.9"/>
<rect x="86.19" y="734.5" width="3.73" height="8.5" fill="#a9cd85" stroke="#6a9a52" stroke-width="0.9"/>
<rect x="90.31" y="734.9" width="3.73" height="8.1" fill="#a9cd85" stroke="#6a9a52" stroke-width="0.9"/>
<rect x="94.44" y="736.5" width="3.73" height="6.5" fill="#a9cd85" stroke="#6a9a52" stroke-width="0.9"/>
<rect x="98.56" y="737.9" width="3.73" height="5.1" fill="#a9cd85" stroke="#6a9a52" stroke-width="0.9"/>
<rect x="102.69" y="739.3" width="3.73" height="3.7" fill="#a9cd85" stroke="#6a9a52" stroke-width="0.9"/>
<rect x="106.81" y="742.2" width="3.73" height="0.8" fill="#a9cd85" stroke="#6a9a52" stroke-width="0.9"/>
<rect x="110.94" y="743.0" width="3.73" height="1.9" fill="#a9cd85" stroke="#6a9a52" stroke-width="0.9"/>
<rect x="115.06" y="743.0" width="3.73" height="1.4" fill="#a9cd85" stroke="#6a9a52" stroke-width="0.9"/>
<rect x="119.19" y="743.0" width="3.73" height="0.6" fill="#a9cd85" stroke="#6a9a52" stroke-width="0.9"/>
<rect x="123.31" y="741.5" width="3.73" height="1.5" fill="#a9cd85" stroke="#6a9a52" stroke-width="0.9"/>
<rect x="127.44" y="740.7" width="3.73" height="2.3" fill="#a9cd85" stroke="#6a9a52" stroke-width="0.9"/>
<rect x="131.56" y="740.1" width="3.73" height="2.9" fill="#a9cd85" stroke="#6a9a52" stroke-width="0.9"/>
<rect x="135.69" y="740.0" width="3.73" height="3.0" fill="#a9cd85" stroke="#6a9a52" stroke-width="0.9"/>
<rect x="139.81" y="739.9" width="3.73" height="3.1" fill="#a9cd85" stroke="#6a9a52" stroke-width="0.9"/>
<rect x="143.94" y="740.4" width="3.73" height="2.6" fill="#a9cd85" stroke="#6a9a52" stroke-width="0.9"/>
<rect x="148.06" y="741.2" width="3.73" height="1.8" fill="#a9cd85" stroke="#6a9a52" stroke-width="0.9"/>
<rect x="152.19" y="743.0" width="3.73" height="0.6" fill="#a9cd85" stroke="#6a9a52" stroke-width="0.9"/>
<rect x="156.31" y="743.0" width="3.73" height="2.5" fill="#a9cd85" stroke="#6a9a52" stroke-width="0.9"/>
<rect x="160.44" y="743.0" width="3.73" height="4.4" fill="#a9cd85" stroke="#6a9a52" stroke-width="0.9"/>
<rect x="164.56" y="743.0" width="3.73" height="2.4" fill="#a9cd85" stroke="#6a9a52" stroke-width="0.9"/>
<rect x="168.69" y="743.0" width="3.73" height="0.6" fill="#a9cd85" stroke="#6a9a52" stroke-width="0.9"/>
<rect x="172.81" y="742.9" width="3.73" height="0.6" fill="#a9cd85" stroke="#6a9a52" stroke-width="0.9"/>
<rect x="176.94" y="743.0" width="3.73" height="0.6" fill="#a9cd85" stroke="#6a9a52" stroke-width="0.9"/>
<rect x="181.06" y="743.0" width="3.73" height="0.9" fill="#a9cd85" stroke="#6a9a52" stroke-width="0.9"/>
<rect x="185.19" y="743.0" width="3.73" height="1.3" fill="#a9cd85" stroke="#6a9a52" stroke-width="0.9"/>
<rect x="189.31" y="743.0" width="3.73" height="1.3" fill="#a9cd85" stroke="#6a9a52" stroke-width="0.9"/>
<rect x="193.44" y="743.0" width="3.73" height="0.7" fill="#a9cd85" stroke="#6a9a52" stroke-width="0.9"/>
<rect x="197.56" y="743.0" width="3.73" height="0.6" fill="#a9cd85" stroke="#6a9a52" stroke-width="0.9"/>
<rect x="201.69" y="741.4" width="3.73" height="1.6" fill="#a9cd85" stroke="#6a9a52" stroke-width="0.9"/>
<rect x="205.81" y="740.4" width="3.73" height="2.6" fill="#a9cd85" stroke="#6a9a52" stroke-width="0.9"/>
<rect x="209.94" y="739.6" width="3.73" height="3.4" fill="#a9cd85" stroke="#6a9a52" stroke-width="0.9"/>
<rect x="214.06" y="739.1" width="3.73" height="3.9" fill="#a9cd85" stroke="#6a9a52" stroke-width="0.9"/>
<rect x="218.19" y="739.1" width="3.73" height="3.9" fill="#a9cd85" stroke="#6a9a52" stroke-width="0.9"/>
<rect x="222.31" y="739.1" width="3.73" height="3.9" fill="#a9cd85" stroke="#6a9a52" stroke-width="0.9"/>
<rect x="226.44" y="739.3" width="3.73" height="3.7" fill="#a9cd85" stroke="#6a9a52" stroke-width="0.9"/>
<rect x="230.56" y="739.3" width="3.73" height="3.7" fill="#a9cd85" stroke="#6a9a52" stroke-width="0.9"/>
<rect x="234.69" y="737.3" width="3.73" height="5.7" fill="#a9cd85" stroke="#6a9a52" stroke-width="0.9"/>
<rect x="238.81" y="739.2" width="3.73" height="3.8" fill="#a9cd85" stroke="#6a9a52" stroke-width="0.9"/>
<rect x="242.94" y="739.5" width="3.73" height="3.5" fill="#a9cd85" stroke="#6a9a52" stroke-width="0.9"/>
<rect x="247.06" y="737.3" width="3.73" height="5.7" fill="#a9cd85" stroke="#6a9a52" stroke-width="0.9"/>
<rect x="251.19" y="739.0" width="3.73" height="4.0" fill="#a9cd85" stroke="#6a9a52" stroke-width="0.9"/>
<rect x="255.31" y="740.6" width="3.73" height="2.4" fill="#a9cd85" stroke="#6a9a52" stroke-width="0.9"/>
<rect x="259.44" y="740.7" width="3.73" height="2.3" fill="#a9cd85" stroke="#6a9a52" stroke-width="0.9"/>
<rect x="263.56" y="738.9" width="3.73" height="4.1" fill="#a9cd85" stroke="#6a9a52" stroke-width="0.9"/>
<rect x="267.69" y="739.8" width="3.73" height="3.2" fill="#a9cd85" stroke="#6a9a52" stroke-width="0.9"/>
<rect x="271.81" y="743.0" width="3.73" height="8.1" fill="#a9cd85" stroke="#6a9a52" stroke-width="0.9"/>
<rect x="275.94" y="743.0" width="3.73" height="13.5" fill="#a9cd85" stroke="#6a9a52" stroke-width="0.9"/>
<rect x="280.06" y="743.0" width="3.73" height="20.7" fill="#a9cd85" stroke="#6a9a52" stroke-width="0.9"/>
<rect x="284.19" y="743.0" width="3.73" height="30.2" fill="#a9cd85" stroke="#6a9a52" stroke-width="0.9"/>
<rect x="288.31" y="743.0" width="3.73" height="32.2" fill="#a9cd85" stroke="#6a9a52" stroke-width="0.9"/>
<rect x="292.44" y="743.0" width="3.73" height="32.7" fill="#a9cd85" stroke="#6a9a52" stroke-width="0.9"/>
<rect x="296.56" y="743.0" width="3.73" height="27.1" fill="#a9cd85" stroke="#6a9a52" stroke-width="0.9"/>
<rect x="300.69" y="743.0" width="3.73" height="18.3" fill="#a9cd85" stroke="#6a9a52" stroke-width="0.9"/>
<rect x="304.81" y="743.0" width="3.73" height="13.7" fill="#a9cd85" stroke="#6a9a52" stroke-width="0.9"/>
<rect x="308.94" y="743.0" width="3.73" height="9.1" fill="#a9cd85" stroke="#6a9a52" stroke-width="0.9"/>
<rect x="313.06" y="743.0" width="3.73" height="4.7" fill="#a9cd85" stroke="#6a9a52" stroke-width="0.9"/>
<rect x="317.19" y="743.0" width="3.73" height="0.8" fill="#a9cd85" stroke="#6a9a52" stroke-width="0.9"/>
<rect x="321.31" y="739.4" width="3.73" height="3.6" fill="#a9cd85" stroke="#6a9a52" stroke-width="0.9"/>
<rect x="325.44" y="735.6" width="3.73" height="7.4" fill="#a9cd85" stroke="#6a9a52" stroke-width="0.9"/>
<rect x="329.56" y="731.9" width="3.73" height="11.1" fill="#a9cd85" stroke="#6a9a52" stroke-width="0.9"/>
<rect x="333.69" y="731.2" width="3.73" height="11.8" fill="#a9cd85" stroke="#6a9a52" stroke-width="0.9"/>
<rect x="337.81" y="731.9" width="3.73" height="11.1" fill="#a9cd85" stroke="#6a9a52" stroke-width="0.9"/>
<rect x="341.94" y="733.0" width="3.73" height="10.0" fill="#a9cd85" stroke="#6a9a52" stroke-width="0.9"/>
<rect x="346.06" y="733.2" width="3.73" height="9.8" fill="#a9cd85" stroke="#6a9a52" stroke-width="0.9"/>
<rect x="350.19" y="731.2" width="3.73" height="11.8" fill="#a9cd85" stroke="#6a9a52" stroke-width="0.9"/>
<rect x="354.31" y="730.2" width="3.73" height="12.8" fill="#a9cd85" stroke="#6a9a52" stroke-width="0.9"/>
<rect x="358.44" y="731.4" width="3.73" height="11.6" fill="#a9cd85" stroke="#6a9a52" stroke-width="0.9"/>
<rect x="362.56" y="731.1" width="3.73" height="11.9" fill="#a9cd85" stroke="#6a9a52" stroke-width="0.9"/>
<rect x="366.69" y="730.4" width="3.73" height="12.6" fill="#a9cd85" stroke="#6a9a52" stroke-width="0.9"/>
<rect x="370.81" y="730.2" width="3.73" height="12.8" fill="#a9cd85" stroke="#6a9a52" stroke-width="0.9"/>
<rect x="374.94" y="729.3" width="3.73" height="13.7" fill="#a9cd85" stroke="#6a9a52" stroke-width="0.9"/>
<rect x="379.06" y="728.5" width="3.73" height="14.5" fill="#a9cd85" stroke="#6a9a52" stroke-width="0.9"/>
<rect x="383.19" y="728.9" width="3.73" height="14.1" fill="#a9cd85" stroke="#6a9a52" stroke-width="0.9"/>
<rect x="387.31" y="732.1" width="3.73" height="10.9" fill="#a9cd85" stroke="#6a9a52" stroke-width="0.9"/>
<rect x="391.44" y="735.7" width="3.73" height="7.3" fill="#a9cd85" stroke="#6a9a52" stroke-width="0.9"/>
<rect x="395.56" y="738.6" width="3.73" height="4.4" fill="#a9cd85" stroke="#6a9a52" stroke-width="0.9"/>
<rect x="399.69" y="741.1" width="3.73" height="1.9" fill="#a9cd85" stroke="#6a9a52" stroke-width="0.9"/>
<rect x="403.81" y="740.2" width="3.73" height="2.8" fill="#a9cd85" stroke="#6a9a52" stroke-width="0.9"/>
<rect x="407.94" y="740.2" width="3.73" height="2.8" fill="#a9cd85" stroke="#6a9a52" stroke-width="0.9"/>
<rect x="412.06" y="740.4" width="3.73" height="2.6" fill="#a9cd85" stroke="#6a9a52" stroke-width="0.9"/>
<rect x="416.19" y="742.7" width="3.73" height="0.6" fill="#a9cd85" stroke="#6a9a52" stroke-width="0.9"/>
<rect x="420.31" y="742.6" width="3.73" height="0.6" fill="#a9cd85" stroke="#6a9a52" stroke-width="0.9"/>
<rect x="424.44" y="741.1" width="3.73" height="1.9" fill="#a9cd85" stroke="#6a9a52" stroke-width="0.9"/>
<rect x="428.56" y="740.1" width="3.73" height="2.9" fill="#a9cd85" stroke="#6a9a52" stroke-width="0.9"/>
<rect x="432.69" y="738.8" width="3.73" height="4.2" fill="#a9cd85" stroke="#6a9a52" stroke-width="0.9"/>
<rect x="436.81" y="737.4" width="3.73" height="5.6" fill="#a9cd85" stroke="#6a9a52" stroke-width="0.9"/>
<rect x="440.94" y="737.1" width="3.73" height="5.9" fill="#a9cd85" stroke="#6a9a52" stroke-width="0.9"/>
<rect x="445.06" y="737.1" width="3.73" height="5.9" fill="#a9cd85" stroke="#6a9a52" stroke-width="0.9"/>
<rect x="449.19" y="738.0" width="3.73" height="5.0" fill="#a9cd85" stroke="#6a9a52" stroke-width="0.9"/>
<rect x="453.31" y="737.8" width="3.73" height="5.2" fill="#a9cd85" stroke="#6a9a52" stroke-width="0.9"/>
<rect x="457.44" y="737.0" width="3.73" height="6.0" fill="#a9cd85" stroke="#6a9a52" stroke-width="0.9"/>
<rect x="461.56" y="738.6" width="3.73" height="4.4" fill="#a9cd85" stroke="#6a9a52" stroke-width="0.9"/>
<rect x="465.69" y="738.9" width="3.73" height="4.1" fill="#a9cd85" stroke="#6a9a52" stroke-width="0.9"/>
<rect x="469.81" y="740.6" width="3.73" height="2.4" fill="#a9cd85" stroke="#6a9a52" stroke-width="0.9"/>
<rect x="473.94" y="740.7" width="3.73" height="2.3" fill="#a9cd85" stroke="#6a9a52" stroke-width="0.9"/>
<rect x="478.06" y="740.2" width="3.73" height="2.8" fill="#a9cd85" stroke="#6a9a52" stroke-width="0.9"/>
<rect x="482.19" y="740.2" width="3.73" height="2.8" fill="#a9cd85" stroke="#6a9a52" stroke-width="0.9"/>
<rect x="486.31" y="741.6" width="3.73" height="1.4" fill="#a9cd85" stroke="#6a9a52" stroke-width="0.9"/>
<rect x="490.44" y="743.0" width="3.73" height="1.2" fill="#a9cd85" stroke="#6a9a52" stroke-width="0.9"/>
<rect x="494.56" y="743.0" width="3.73" height="0.6" fill="#a9cd85" stroke="#6a9a52" stroke-width="0.9"/>
<rect x="498.69" y="743.0" width="3.73" height="1.4" fill="#a9cd85" stroke="#6a9a52" stroke-width="0.9"/>
<rect x="502.81" y="743.0" width="3.73" height="0.6" fill="#a9cd85" stroke="#6a9a52" stroke-width="0.9"/>
<rect x="506.94" y="741.9" width="3.73" height="1.1" fill="#a9cd85" stroke="#6a9a52" stroke-width="0.9"/>
<rect x="511.06" y="740.4" width="3.73" height="2.6" fill="#a9cd85" stroke="#6a9a52" stroke-width="0.9"/>
<rect x="515.19" y="739.1" width="3.73" height="3.9" fill="#a9cd85" stroke="#6a9a52" stroke-width="0.9"/>
<rect x="519.31" y="739.1" width="3.73" height="3.9" fill="#a9cd85" stroke="#6a9a52" stroke-width="0.9"/>
<rect x="523.44" y="739.1" width="3.73" height="3.9" fill="#a9cd85" stroke="#6a9a52" stroke-width="0.9"/>
<rect x="527.56" y="739.1" width="3.73" height="3.9" fill="#a9cd85" stroke="#6a9a52" stroke-width="0.9"/>
<rect x="531.69" y="739.7" width="3.73" height="3.3" fill="#a9cd85" stroke="#6a9a52" stroke-width="0.9"/>
<rect x="535.81" y="741.3" width="3.73" height="1.7" fill="#a9cd85" stroke="#6a9a52" stroke-width="0.9"/>
<rect x="539.94" y="743.0" width="3.73" height="0.6" fill="#a9cd85" stroke="#6a9a52" stroke-width="0.9"/>
<rect x="544.06" y="743.0" width="3.73" height="0.6" fill="#a9cd85" stroke="#6a9a52" stroke-width="0.9"/>
<rect x="548.19" y="743.0" width="3.73" height="0.6" fill="#a9cd85" stroke="#6a9a52" stroke-width="0.9"/>
<rect x="552.31" y="743.0" width="3.73" height="1.9" fill="#a9cd85" stroke="#6a9a52" stroke-width="0.9"/>
<rect x="556.44" y="743.0" width="3.73" height="2.4" fill="#a9cd85" stroke="#6a9a52" stroke-width="0.9"/>
<rect x="560.56" y="743.0" width="3.73" height="0.9" fill="#a9cd85" stroke="#6a9a52" stroke-width="0.9"/>
<rect x="564.69" y="743.0" width="3.73" height="0.6" fill="#a9cd85" stroke="#6a9a52" stroke-width="0.9"/>
<rect x="568.81" y="743.0" width="3.73" height="1.0" fill="#a9cd85" stroke="#6a9a52" stroke-width="0.9"/>
<rect x="572.94" y="743.0" width="3.73" height="0.6" fill="#a9cd85" stroke="#6a9a52" stroke-width="0.9"/>
<rect x="577.06" y="743.0" width="3.73" height="0.6" fill="#a9cd85" stroke="#6a9a52" stroke-width="0.9"/>
<rect x="581.19" y="743.0" width="3.73" height="0.6" fill="#a9cd85" stroke="#6a9a52" stroke-width="0.9"/>
<rect x="585.31" y="743.0" width="3.73" height="0.6" fill="#a9cd85" stroke="#6a9a52" stroke-width="0.9"/>
<rect x="589.44" y="743.0" width="3.73" height="0.6" fill="#a9cd85" stroke="#6a9a52" stroke-width="0.9"/>
<rect x="593.56" y="743.0" width="3.73" height="0.6" fill="#a9cd85" stroke="#6a9a52" stroke-width="0.9"/>
<rect x="597.69" y="743.0" width="3.73" height="0.6" fill="#a9cd85" stroke="#6a9a52" stroke-width="0.9"/>
<rect x="601.81" y="743.0" width="3.73" height="1.0" fill="#a9cd85" stroke="#6a9a52" stroke-width="0.9"/>
<rect x="605.94" y="743.0" width="3.73" height="3.2" fill="#a9cd85" stroke="#6a9a52" stroke-width="0.9"/>
<rect x="610.06" y="743.0" width="3.73" height="5.7" fill="#a9cd85" stroke="#6a9a52" stroke-width="0.9"/>
<rect x="614.19" y="743.0" width="3.73" height="8.0" fill="#a9cd85" stroke="#6a9a52" stroke-width="0.9"/>
<rect x="618.31" y="743.0" width="3.73" height="8.2" fill="#a9cd85" stroke="#6a9a52" stroke-width="0.9"/>
<rect x="622.44" y="743.0" width="3.73" height="8.2" fill="#a9cd85" stroke="#6a9a52" stroke-width="0.9"/>
<rect x="626.56" y="743.0" width="3.73" height="5.9" fill="#a9cd85" stroke="#6a9a52" stroke-width="0.9"/>
<rect x="630.69" y="743.0" width="3.73" height="3.5" fill="#a9cd85" stroke="#6a9a52" stroke-width="0.9"/>
<rect x="634.81" y="743.0" width="3.73" height="1.4" fill="#a9cd85" stroke="#6a9a52" stroke-width="0.9"/>
<rect x="638.94" y="742.2" width="3.73" height="0.8" fill="#a9cd85" stroke="#6a9a52" stroke-width="0.9"/>
<rect x="643.06" y="740.5" width="3.73" height="2.5" fill="#a9cd85" stroke="#6a9a52" stroke-width="0.9"/>
<rect x="647.19" y="740.1" width="3.73" height="2.9" fill="#a9cd85" stroke="#6a9a52" stroke-width="0.9"/>
<rect x="651.31" y="743.0" width="3.73" height="1.7" fill="#a9cd85" stroke="#6a9a52" stroke-width="0.9"/>
<rect x="655.44" y="743.0" width="3.73" height="2.5" fill="#a9cd85" stroke="#6a9a52" stroke-width="0.9"/>
<rect x="659.56" y="743.0" width="3.73" height="1.6" fill="#a9cd85" stroke="#6a9a52" stroke-width="0.9"/>
<rect x="663.69" y="743.0" width="3.73" height="1.4" fill="#a9cd85" stroke="#6a9a52" stroke-width="0.9"/>
<rect x="667.81" y="743.0" width="3.73" height="1.3" fill="#a9cd85" stroke="#6a9a52" stroke-width="0.9"/>
<rect x="671.94" y="743.0" width="3.73" height="1.0" fill="#a9cd85" stroke="#6a9a52" stroke-width="0.9"/>
<rect x="676.06" y="743.0" width="3.73" height="1.8" fill="#a9cd85" stroke="#6a9a52" stroke-width="0.9"/>
<rect x="680.19" y="743.0" width="3.73" height="6.4" fill="#a9cd85" stroke="#6a9a52" stroke-width="0.9"/>
<rect x="684.31" y="743.0" width="3.73" height="11.1" fill="#a9cd85" stroke="#6a9a52" stroke-width="0.9"/>
<rect x="688.44" y="743.0" width="3.73" height="12.7" fill="#a9cd85" stroke="#6a9a52" stroke-width="0.9"/>
<rect x="692.56" y="743.0" width="3.73" height="13.4" fill="#a9cd85" stroke="#6a9a52" stroke-width="0.9"/>
<rect x="696.69" y="743.0" width="3.73" height="14.8" fill="#a9cd85" stroke="#6a9a52" stroke-width="0.9"/>
<rect x="700.81" y="743.0" width="3.73" height="15.0" fill="#a9cd85" stroke="#6a9a52" stroke-width="0.9"/>
<rect x="704.94" y="743.0" width="3.73" height="15.0" fill="#a9cd85" stroke="#6a9a52" stroke-width="0.9"/>
<rect x="709.06" y="743.0" width="3.73" height="17.2" fill="#a9cd85" stroke="#6a9a52" stroke-width="0.9"/>
<rect x="713.19" y="743.0" width="3.73" height="14.9" fill="#a9cd85" stroke="#6a9a52" stroke-width="0.9"/>
<rect x="717.31" y="743.0" width="3.73" height="10.1" fill="#a9cd85" stroke="#6a9a52" stroke-width="0.9"/>
<rect x="721.44" y="743.0" width="3.73" height="6.3" fill="#a9cd85" stroke="#6a9a52" stroke-width="0.9"/>
<rect x="725.56" y="743.0" width="3.73" height="3.1" fill="#a9cd85" stroke="#6a9a52" stroke-width="0.9"/>
<rect x="729.69" y="743.0" width="3.73" height="1.2" fill="#a9cd85" stroke="#6a9a52" stroke-width="0.9"/>
<rect x="733.81" y="743.0" width="3.73" height="3.3" fill="#a9cd85" stroke="#6a9a52" stroke-width="0.9"/>
<rect x="737.94" y="743.0" width="3.73" height="6.9" fill="#a9cd85" stroke="#6a9a52" stroke-width="0.9"/>
<rect x="742.06" y="743.0" width="3.73" height="10.4" fill="#a9cd85" stroke="#6a9a52" stroke-width="0.9"/>
<rect x="746.19" y="743.0" width="3.73" height="13.6" fill="#a9cd85" stroke="#6a9a52" stroke-width="0.9"/>
<rect x="750.31" y="743.0" width="3.73" height="16.3" fill="#a9cd85" stroke="#6a9a52" stroke-width="0.9"/>
<rect x="754.44" y="743.0" width="3.73" height="17.3" fill="#a9cd85" stroke="#6a9a52" stroke-width="0.9"/>
<rect x="758.56" y="743.0" width="3.73" height="14.6" fill="#a9cd85" stroke="#6a9a52" stroke-width="0.9"/>
<rect x="762.69" y="743.0" width="3.73" height="14.0" fill="#a9cd85" stroke="#6a9a52" stroke-width="0.9"/>
<rect x="766.81" y="743.0" width="3.73" height="17.5" fill="#a9cd85" stroke="#6a9a52" stroke-width="0.9"/>
<rect x="770.94" y="743.0" width="3.73" height="17.5" fill="#a9cd85" stroke="#6a9a52" stroke-width="0.9"/>
<rect x="775.06" y="743.0" width="3.73" height="15.0" fill="#a9cd85" stroke="#6a9a52" stroke-width="0.9"/>
<rect x="779.19" y="743.0" width="3.73" height="12.0" fill="#a9cd85" stroke="#6a9a52" stroke-width="0.9"/>
<rect x="783.31" y="743.0" width="3.73" height="8.9" fill="#a9cd85" stroke="#6a9a52" stroke-width="0.9"/>
<rect x="787.44" y="743.0" width="3.73" height="5.8" fill="#a9cd85" stroke="#6a9a52" stroke-width="0.9"/>
<rect x="791.56" y="743.0" width="3.73" height="1.5" fill="#a9cd85" stroke="#6a9a52" stroke-width="0.9"/>
<rect x="795.69" y="736.4" width="3.73" height="6.6" fill="#a9cd85" stroke="#6a9a52" stroke-width="0.9"/>
<rect x="799.81" y="732.9" width="3.73" height="10.1" fill="#a9cd85" stroke="#6a9a52" stroke-width="0.9"/>
<rect x="803.94" y="729.2" width="3.73" height="13.8" fill="#a9cd85" stroke="#6a9a52" stroke-width="0.9"/>
<rect x="808.06" y="728.6" width="3.73" height="14.4" fill="#a9cd85" stroke="#6a9a52" stroke-width="0.9"/>
<rect x="812.19" y="731.3" width="3.73" height="11.7" fill="#a9cd85" stroke="#6a9a52" stroke-width="0.9"/>
<rect x="816.31" y="734.8" width="3.73" height="8.2" fill="#a9cd85" stroke="#6a9a52" stroke-width="0.9"/>
<rect x="820.44" y="738.8" width="3.73" height="4.2" fill="#a9cd85" stroke="#6a9a52" stroke-width="0.9"/>
<rect x="824.56" y="742.3" width="3.73" height="0.7" fill="#a9cd85" stroke="#6a9a52" stroke-width="0.9"/>
<rect x="828.69" y="743.0" width="3.73" height="2.6" fill="#a9cd85" stroke="#6a9a52" stroke-width="0.9"/>
<rect x="832.81" y="743.0" width="3.73" height="8.3" fill="#a9cd85" stroke="#6a9a52" stroke-width="0.9"/>
<rect x="836.94" y="743.0" width="3.73" height="10.3" fill="#a9cd85" stroke="#6a9a52" stroke-width="0.9"/>
<rect x="841.06" y="743.0" width="3.73" height="10.0" fill="#a9cd85" stroke="#6a9a52" stroke-width="0.9"/>
<rect x="845.19" y="743.0" width="3.73" height="7.8" fill="#a9cd85" stroke="#6a9a52" stroke-width="0.9"/>
<rect x="849.31" y="743.0" width="3.73" height="1.1" fill="#a9cd85" stroke="#6a9a52" stroke-width="0.9"/>
<rect x="853.44" y="741.8" width="3.73" height="1.2" fill="#a9cd85" stroke="#6a9a52" stroke-width="0.9"/>
<rect x="857.56" y="737.4" width="3.73" height="5.6" fill="#a9cd85" stroke="#6a9a52" stroke-width="0.9"/>
<rect x="861.69" y="733.7" width="3.73" height="9.3" fill="#a9cd85" stroke="#6a9a52" stroke-width="0.9"/>
<rect x="865.81" y="730.4" width="3.73" height="12.6" fill="#a9cd85" stroke="#6a9a52" stroke-width="0.9"/>
<rect x="869.94" y="729.7" width="3.73" height="13.3" fill="#a9cd85" stroke="#6a9a52" stroke-width="0.9"/>
<rect x="874.06" y="730.9" width="3.73" height="12.1" fill="#a9cd85" stroke="#6a9a52" stroke-width="0.9"/>
<rect x="878.19" y="733.3" width="3.73" height="9.7" fill="#a9cd85" stroke="#6a9a52" stroke-width="0.9"/>
<rect x="882.31" y="736.6" width="3.73" height="6.4" fill="#a9cd85" stroke="#6a9a52" stroke-width="0.9"/>
<rect x="886.44" y="738.8" width="3.73" height="4.2" fill="#a9cd85" stroke="#6a9a52" stroke-width="0.9"/>
<rect x="890.56" y="738.1" width="3.73" height="4.9" fill="#a9cd85" stroke="#6a9a52" stroke-width="0.9"/>
<rect x="894.69" y="735.4" width="3.73" height="7.6" fill="#a9cd85" stroke="#6a9a52" stroke-width="0.9"/>
<rect x="898.81" y="734.6" width="3.73" height="8.4" fill="#a9cd85" stroke="#6a9a52" stroke-width="0.9"/>
<rect x="902.94" y="732.6" width="3.73" height="10.4" fill="#a9cd85" stroke="#6a9a52" stroke-width="0.9"/>
<rect x="907.06" y="731.2" width="3.73" height="11.8" fill="#a9cd85" stroke="#6a9a52" stroke-width="0.9"/>
<rect x="911.19" y="731.2" width="3.73" height="11.8" fill="#a9cd85" stroke="#6a9a52" stroke-width="0.9"/>
<rect x="915.31" y="732.5" width="3.73" height="10.5" fill="#a9cd85" stroke="#6a9a52" stroke-width="0.9"/>
<rect x="919.44" y="736.8" width="3.73" height="6.2" fill="#a9cd85" stroke="#6a9a52" stroke-width="0.9"/>
<rect x="923.56" y="738.9" width="3.73" height="4.1" fill="#a9cd85" stroke="#6a9a52" stroke-width="0.9"/>
<rect x="927.69" y="741.0" width="3.73" height="2.0" fill="#a9cd85" stroke="#6a9a52" stroke-width="0.9"/>
<rect x="931.81" y="741.9" width="3.73" height="1.1" fill="#a9cd85" stroke="#6a9a52" stroke-width="0.9"/>
<rect x="935.94" y="742.0" width="3.73" height="1.0" fill="#a9cd85" stroke="#6a9a52" stroke-width="0.9"/>
<rect x="940.06" y="741.0" width="3.73" height="2.0" fill="#a9cd85" stroke="#6a9a52" stroke-width="0.9"/>
<rect x="944.19" y="740.0" width="3.73" height="3.0" fill="#a9cd85" stroke="#6a9a52" stroke-width="0.9"/>
<rect x="948.31" y="738.8" width="3.73" height="4.2" fill="#a9cd85" stroke="#6a9a52" stroke-width="0.9"/>
<rect x="952.44" y="737.3" width="3.73" height="5.7" fill="#a9cd85" stroke="#6a9a52" stroke-width="0.9"/>
<rect x="956.56" y="736.9" width="3.73" height="6.1" fill="#a9cd85" stroke="#6a9a52" stroke-width="0.9"/>
<rect x="960.69" y="737.3" width="3.73" height="5.7" fill="#a9cd85" stroke="#6a9a52" stroke-width="0.9"/>
<rect x="964.81" y="739.5" width="3.73" height="3.5" fill="#a9cd85" stroke="#6a9a52" stroke-width="0.9"/>
<rect x="968.94" y="737.8" width="3.73" height="5.2" fill="#a9cd85" stroke="#6a9a52" stroke-width="0.9"/>
<rect x="973.06" y="737.5" width="3.73" height="5.5" fill="#a9cd85" stroke="#6a9a52" stroke-width="0.9"/>
<rect x="977.19" y="737.1" width="3.73" height="5.9" fill="#a9cd85" stroke="#6a9a52" stroke-width="0.9"/>
<rect x="981.31" y="735.5" width="3.73" height="7.5" fill="#a9cd85" stroke="#6a9a52" stroke-width="0.9"/>
<rect x="985.44" y="734.8" width="3.73" height="8.2" fill="#a9cd85" stroke="#6a9a52" stroke-width="0.9"/>
<rect x="989.56" y="734.1" width="3.73" height="8.9" fill="#a9cd85" stroke="#6a9a52" stroke-width="0.9"/>
<rect x="993.69" y="733.5" width="3.73" height="9.5" fill="#a9cd85" stroke="#6a9a52" stroke-width="0.9"/>
<rect x="997.81" y="734.8" width="3.73" height="8.2" fill="#a9cd85" stroke="#6a9a52" stroke-width="0.9"/>
<rect x="1001.94" y="733.0" width="3.73" height="10.0" fill="#a9cd85" stroke="#6a9a52" stroke-width="0.9"/>
<rect x="1006.06" y="732.4" width="3.73" height="10.6" fill="#a9cd85" stroke="#6a9a52" stroke-width="0.9"/>
<rect x="1010.19" y="732.6" width="3.73" height="10.4" fill="#a9cd85" stroke="#6a9a52" stroke-width="0.9"/>
<rect x="1014.31" y="734.5" width="3.73" height="8.5" fill="#a9cd85" stroke="#6a9a52" stroke-width="0.9"/>
<rect x="1018.44" y="738.5" width="3.73" height="4.5" fill="#a9cd85" stroke="#6a9a52" stroke-width="0.9"/>
<rect x="1022.56" y="742.8" width="3.73" height="0.6" fill="#a9cd85" stroke="#6a9a52" stroke-width="0.9"/>
<rect x="1026.69" y="743.0" width="3.73" height="0.9" fill="#a9cd85" stroke="#6a9a52" stroke-width="0.9"/>
<rect x="1030.81" y="743.0" width="3.73" height="0.6" fill="#a9cd85" stroke="#6a9a52" stroke-width="0.9"/>
<rect x="1034.94" y="743.0" width="3.73" height="1.3" fill="#a9cd85" stroke="#6a9a52" stroke-width="0.9"/>
<rect x="1039.06" y="743.0" width="3.73" height="3.2" fill="#a9cd85" stroke="#6a9a52" stroke-width="0.9"/>
<rect x="1043.19" y="743.0" width="3.73" height="6.3" fill="#a9cd85" stroke="#6a9a52" stroke-width="0.9"/>
<rect x="1047.31" y="743.0" width="3.73" height="9.3" fill="#a9cd85" stroke="#6a9a52" stroke-width="0.9"/>
<rect x="1051.44" y="743.0" width="3.73" height="10.3" fill="#a9cd85" stroke="#6a9a52" stroke-width="0.9"/>
<rect x="1055.56" y="743.0" width="3.73" height="11.2" fill="#a9cd85" stroke="#6a9a52" stroke-width="0.9"/>
<rect x="1059.69" y="743.0" width="3.73" height="12.7" fill="#a9cd85" stroke="#6a9a52" stroke-width="0.9"/>
<rect x="1063.81" y="743.0" width="3.73" height="15.0" fill="#a9cd85" stroke="#6a9a52" stroke-width="0.9"/>
<rect x="1067.94" y="743.0" width="3.73" height="11.6" fill="#a9cd85" stroke="#6a9a52" stroke-width="0.9"/>
<rect x="1072.06" y="743.0" width="3.73" height="6.3" fill="#a9cd85" stroke="#6a9a52" stroke-width="0.9"/>
<rect x="1076.19" y="743.0" width="3.73" height="1.8" fill="#a9cd85" stroke="#6a9a52" stroke-width="0.9"/>
<rect x="1080.31" y="741.3" width="3.73" height="1.7" fill="#a9cd85" stroke="#6a9a52" stroke-width="0.9"/>
<rect x="1084.44" y="738.6" width="3.73" height="4.4" fill="#a9cd85" stroke="#6a9a52" stroke-width="0.9"/>
<rect x="1088.56" y="736.9" width="3.73" height="6.1" fill="#a9cd85" stroke="#6a9a52" stroke-width="0.9"/>
<rect x="1092.69" y="734.9" width="3.73" height="8.1" fill="#a9cd85" stroke="#6a9a52" stroke-width="0.9"/>
<rect x="1096.81" y="732.8" width="3.73" height="10.2" fill="#a9cd85" stroke="#6a9a52" stroke-width="0.9"/>
<rect x="1100.94" y="731.5" width="3.73" height="11.5" fill="#a9cd85" stroke="#6a9a52" stroke-width="0.9"/>
<path d="M20.5,748.6 C21.9,749.6 21.9,749.9 24.6,751.8 C27.4,753.7 26.0,752.9 28.8,754.2 C31.5,755.5 30.1,755.0 32.9,755.7 C35.6,756.3 34.3,756.1 37.0,756.3 C39.8,756.4 38.4,756.5 41.1,756.2 C43.9,755.9 42.5,756.1 45.3,755.4 C48.0,754.8 46.6,755.1 49.4,754.3 C52.1,753.4 50.8,753.8 53.5,752.9 C56.3,752.0 54.9,752.6 57.6,751.6 C60.4,750.7 59.0,751.2 61.8,750.1 C64.5,749.0 63.1,749.6 65.9,748.3 C68.6,747.0 67.3,747.6 70.0,746.3 C72.8,744.9 71.4,745.6 74.1,744.3 C76.9,743.1 75.5,743.7 78.3,742.5 C81.0,741.3 79.6,742.0 82.4,740.7 C85.1,739.5 83.8,740.2 86.5,738.8 C89.3,737.4 87.9,738.2 90.6,736.7 C93.4,735.2 92.0,735.7 94.8,734.2 C97.5,732.8 96.1,733.4 98.9,732.3 C101.6,731.2 100.3,731.4 103.0,731.0 C105.8,730.5 104.4,730.8 107.1,730.8 C109.9,730.8 108.5,730.8 111.3,730.9 C114.0,731.0 112.6,731.1 115.4,731.1 C118.1,731.2 116.8,731.2 119.5,731.0 C122.3,730.8 120.9,730.9 123.6,730.6 C126.4,730.3 125.0,730.5 127.8,730.1 C130.5,729.8 129.1,729.9 131.9,729.5 C134.6,729.1 133.3,729.3 136.0,729.0 C138.8,728.6 137.4,728.8 140.1,728.5 C142.9,728.2 141.5,728.4 144.3,728.0 C147.0,727.6 145.6,727.7 148.4,727.4 C151.1,727.1 149.8,727.2 152.5,727.2 C155.3,727.3 153.9,727.2 156.6,727.5 C159.4,727.9 158.0,727.8 160.8,728.3 C163.5,728.8 162.1,728.6 164.9,729.1 C167.6,729.5 166.3,729.4 169.0,729.7 C171.8,730.1 170.4,729.9 173.1,730.1 C175.9,730.3 174.5,730.2 177.3,730.3 C180.0,730.4 178.6,730.3 181.4,730.4 C184.1,730.6 182.8,730.6 185.5,730.7 C188.3,730.9 186.9,730.9 189.6,731.0 C192.4,731.1 191.0,731.1 193.8,731.0 C196.5,731.0 195.1,731.0 197.9,730.8 C200.6,730.7 199.3,730.8 202.0,730.5 C204.8,730.2 203.4,730.3 206.1,730.0 C208.9,729.6 207.5,729.8 210.3,729.4 C213.0,728.9 211.6,729.2 214.4,728.6 C217.1,728.1 215.8,728.4 218.5,727.8 C221.3,727.2 219.9,727.5 222.6,726.9 C225.4,726.2 224.0,726.5 226.8,725.9 C229.5,725.2 228.1,725.6 230.9,724.9 C233.6,724.2 232.3,724.6 235.0,723.7 C237.8,722.8 236.4,723.3 239.1,722.3 C241.9,721.3 240.5,721.7 243.3,720.8 C246.0,719.8 244.6,720.2 247.4,719.4 C250.1,718.5 248.8,718.9 251.5,718.2 C254.3,717.5 252.9,717.8 255.6,717.3 C258.4,716.8 257.0,717.0 259.8,716.7 C262.5,716.4 261.1,716.5 263.9,716.4 C266.6,716.3 265.3,716.1 268.0,716.4 C270.8,716.7 269.4,716.3 272.1,717.2 C274.9,718.0 273.5,717.3 276.3,719.0 C279.0,720.8 277.6,719.5 280.4,722.4 C283.1,725.4 281.8,723.7 284.5,727.9 C287.3,732.1 285.9,730.1 288.6,735.0 C291.4,739.8 290.0,737.8 292.8,742.5 C295.5,747.2 294.1,745.1 296.9,749.0 C299.6,753.0 298.3,751.2 301.0,754.4 C303.8,757.6 302.4,756.2 305.1,758.5 C307.9,760.9 306.5,759.9 309.3,761.5 C312.0,763.1 310.6,762.5 313.4,763.3 C316.1,764.1 314.8,763.9 317.5,763.9 C320.3,763.9 318.9,764.0 321.6,763.3 C324.4,762.6 323.0,762.9 325.8,761.8 C328.5,760.8 327.1,761.4 329.9,760.2 C332.6,758.9 331.3,759.6 334.0,758.1 C336.8,756.5 335.4,757.3 338.1,755.5 C340.9,753.7 339.5,754.6 342.3,752.8 C345.0,750.9 343.6,751.8 346.4,749.9 C349.1,748.0 347.8,749.0 350.5,747.1 C353.3,745.2 351.9,746.1 354.6,744.1 C357.4,742.1 356.0,743.1 358.8,741.0 C361.5,738.9 360.1,740.1 362.9,737.9 C365.6,735.7 364.3,736.9 367.0,734.5 C369.8,732.2 368.4,733.3 371.1,730.9 C373.9,728.5 372.5,729.7 375.3,727.3 C378.0,724.9 376.6,726.0 379.4,723.7 C382.1,721.3 380.8,722.4 383.5,720.3 C386.3,718.1 384.9,718.9 387.6,717.3 C390.4,715.7 389.0,716.4 391.8,715.4 C394.5,714.5 393.1,715.0 395.9,714.4 C398.6,713.9 397.3,714.2 400.0,713.8 C402.8,713.4 401.4,713.6 404.1,713.2 C406.9,712.8 405.5,713.0 408.3,712.6 C411.0,712.3 409.6,712.4 412.4,712.2 C415.1,712.1 413.8,712.1 416.5,712.1 C419.3,712.0 417.9,712.1 420.6,712.1 C423.4,712.0 422.0,712.2 424.8,712.0 C427.5,711.8 426.1,711.9 428.9,711.4 C431.6,710.9 430.3,711.2 433.0,710.4 C435.8,709.6 434.4,710.0 437.1,709.0 C439.9,708.1 438.5,708.5 441.3,707.5 C444.0,706.6 442.6,707.0 445.4,706.1 C448.1,705.3 446.8,705.7 449.5,705.1 C452.3,704.4 450.9,704.8 453.6,704.1 C456.4,703.4 455.0,703.8 457.8,703.1 C460.5,702.3 459.1,702.6 461.9,701.8 C464.6,701.0 463.3,701.3 466.0,700.7 C468.8,700.0 467.4,700.3 470.1,699.8 C472.9,699.3 471.5,699.6 474.3,699.2 C477.0,698.9 475.6,699.0 478.4,698.8 C481.1,698.5 479.8,698.6 482.5,698.4 C485.3,698.2 483.9,698.2 486.6,698.2 C489.4,698.1 488.0,698.1 490.8,698.2 C493.5,698.2 492.1,698.2 494.9,698.3 C497.6,698.5 496.3,698.4 499.0,698.5 C501.8,698.7 500.4,698.7 503.1,698.7 C505.9,698.8 504.5,698.8 507.3,698.6 C510.0,698.4 508.6,698.6 511.4,698.1 C514.1,697.6 512.8,697.8 515.5,697.0 C518.3,696.3 516.9,696.6 519.6,695.8 C522.4,694.9 521.0,695.2 523.8,694.5 C526.5,693.7 525.1,694.1 527.9,693.4 C530.6,692.8 529.3,693.1 532.0,692.6 C534.8,692.1 533.4,692.3 536.1,692.0 C538.9,691.7 537.5,691.7 540.3,691.7 C543.0,691.7 541.6,691.7 544.4,691.9 C547.1,692.1 545.8,692.0 548.5,692.3 C551.3,692.7 549.9,692.5 552.6,692.9 C555.4,693.3 554.0,693.2 556.8,693.6 C559.5,694.0 558.1,693.8 560.9,694.1 C563.6,694.4 562.3,694.2 565.0,694.4 C567.8,694.5 566.4,694.4 569.1,694.6 C571.9,694.7 570.5,694.7 573.3,694.9 C576.0,695.0 574.6,695.0 577.4,695.1 C580.1,695.3 578.8,695.2 581.5,695.3 C584.3,695.3 582.9,695.3 585.6,695.3 C588.4,695.3 587.0,695.3 589.8,695.3 C592.5,695.3 591.1,695.3 593.9,695.3 C596.6,695.3 595.3,695.3 598.0,695.3 C600.8,695.3 599.4,695.2 602.1,695.3 C604.9,695.4 603.5,695.2 606.3,695.6 C609.0,695.9 607.6,695.6 610.4,696.3 C613.1,697.1 611.8,696.8 614.5,697.9 C617.3,699.1 615.9,698.5 618.6,699.8 C621.4,701.1 620.0,700.6 622.8,701.7 C625.5,702.8 624.1,702.3 626.9,703.0 C629.6,703.7 628.3,703.4 631.0,703.8 C633.8,704.1 632.4,703.9 635.1,704.0 C637.9,704.0 636.5,704.0 639.3,704.0 C642.0,704.0 640.6,703.9 643.4,704.0 C646.1,704.0 644.8,704.0 647.5,704.0 C650.3,704.1 648.9,704.0 651.6,704.1 C654.4,704.2 653.0,704.1 655.8,704.3 C658.5,704.4 657.1,704.3 659.9,704.5 C662.6,704.7 661.3,704.6 664.0,704.9 C666.8,705.2 665.4,705.1 668.1,705.3 C670.9,705.6 669.5,705.4 672.3,705.7 C675.0,705.9 673.6,705.6 676.4,706.1 C679.1,706.7 677.8,706.2 680.5,707.2 C683.3,708.2 681.9,707.7 684.6,709.1 C687.4,710.6 686.0,709.9 688.8,711.7 C691.5,713.4 690.1,712.4 692.9,714.5 C695.6,716.5 694.3,715.4 697.0,717.8 C699.8,720.2 698.4,719.1 701.1,721.6 C703.9,724.2 702.5,723.0 705.3,725.5 C708.0,728.0 706.6,726.8 709.4,729.2 C712.1,731.6 710.8,730.5 713.5,732.8 C716.3,735.1 714.9,734.2 717.6,736.2 C720.4,738.2 719.0,737.4 721.8,738.7 C724.5,740.0 723.1,739.3 725.9,740.1 C728.6,740.8 727.3,740.3 730.0,740.9 C732.8,741.5 731.4,741.0 734.1,741.9 C736.9,742.8 735.5,742.1 738.3,743.6 C741.0,745.0 739.6,744.2 742.4,746.2 C745.1,748.2 743.8,747.2 746.5,749.6 C749.3,752.0 747.9,750.9 750.6,753.5 C753.4,756.0 752.0,754.7 754.8,757.1 C757.5,759.5 756.1,758.4 758.9,760.6 C761.6,762.9 760.3,761.7 763.0,764.0 C765.8,766.4 764.4,765.2 767.1,767.7 C769.9,770.2 768.5,769.0 771.3,771.6 C774.0,774.2 772.6,773.0 775.4,775.5 C778.1,777.9 776.8,776.8 779.5,778.8 C782.3,780.9 780.9,780.0 783.6,781.6 C786.4,783.2 785.0,782.8 787.8,783.6 C790.5,784.4 789.1,784.2 791.9,784.0 C794.6,783.7 793.3,784.0 796.0,782.8 C798.8,781.5 797.4,782.0 800.1,780.3 C802.9,778.6 801.5,779.4 804.3,777.7 C807.0,776.0 805.6,776.9 808.4,775.2 C811.1,773.5 809.8,774.2 812.5,772.7 C815.3,771.2 813.9,771.8 816.6,770.6 C819.4,769.5 818.0,769.8 820.8,769.3 C823.5,768.7 822.1,768.9 824.9,769.0 C827.6,769.1 826.3,768.9 829.0,769.6 C831.8,770.4 830.4,770.0 833.1,771.2 C835.9,772.4 834.5,771.8 837.3,773.3 C840.0,774.8 838.6,774.2 841.4,775.6 C844.1,777.0 842.8,776.4 845.5,777.4 C848.3,778.4 846.9,778.1 849.6,778.5 C852.4,779.0 851.0,779.0 853.8,778.8 C856.5,778.6 855.1,778.8 857.9,777.9 C860.6,776.9 859.3,777.5 862.0,775.9 C864.8,774.3 863.4,775.1 866.1,773.1 C868.9,771.2 867.5,772.1 870.3,770.1 C873.0,768.1 871.6,769.0 874.4,767.2 C877.1,765.4 875.8,766.2 878.5,764.7 C881.3,763.2 879.9,763.9 882.6,762.7 C885.4,761.4 884.0,762.1 886.8,761.0 C889.5,759.9 888.1,760.5 890.9,759.5 C893.6,758.5 892.3,759.0 895.0,758.1 C897.8,757.1 896.4,757.7 899.1,756.5 C901.9,755.4 900.5,756.0 903.3,754.6 C906.0,753.1 904.6,753.8 907.4,752.2 C910.1,750.5 908.8,751.2 911.5,749.6 C914.3,748.0 912.9,748.7 915.6,747.4 C918.4,746.0 917.0,746.7 919.8,745.5 C922.5,744.4 921.1,744.8 923.9,744.0 C926.6,743.1 925.3,743.6 928.0,743.0 C930.8,742.4 929.4,742.7 932.1,742.3 C934.9,741.9 933.5,742.2 936.3,741.7 C939.0,741.2 937.6,741.5 940.4,740.8 C943.1,740.2 941.8,740.5 944.5,739.7 C947.3,738.8 945.9,739.2 948.6,738.3 C951.4,737.4 950.0,737.8 952.8,737.0 C955.5,736.1 954.1,736.4 956.9,735.7 C959.6,735.0 958.3,735.5 961.0,734.9 C963.8,734.3 962.4,734.6 965.1,734.0 C967.9,733.3 966.5,733.7 969.3,732.8 C972.0,732.0 970.6,732.4 973.4,731.3 C976.1,730.2 974.8,730.8 977.5,729.6 C980.3,728.4 978.9,729.0 981.6,727.8 C984.4,726.5 983.0,727.2 985.8,725.9 C988.5,724.6 987.1,725.3 989.9,723.9 C992.6,722.5 991.3,723.3 994.0,721.7 C996.8,720.1 995.4,720.9 998.1,719.0 C1000.9,717.1 999.5,718.0 1002.3,716.1 C1005.0,714.2 1003.6,715.0 1006.4,713.3 C1009.1,711.6 1007.8,712.3 1010.5,711.0 C1013.3,709.7 1011.9,710.3 1014.6,709.5 C1017.4,708.8 1016.0,709.0 1018.8,708.7 C1021.5,708.4 1020.1,708.6 1022.9,708.6 C1025.6,708.5 1024.3,708.5 1027.0,708.6 C1029.8,708.7 1028.4,708.6 1031.1,708.8 C1033.9,709.0 1032.5,708.8 1035.3,709.2 C1038.0,709.6 1036.6,709.2 1039.4,710.0 C1042.1,710.7 1040.8,710.2 1043.5,711.3 C1046.3,712.4 1044.9,711.8 1047.6,713.3 C1050.4,714.8 1049.0,714.0 1051.8,715.8 C1054.5,717.6 1053.1,716.8 1055.9,718.6 C1058.6,720.5 1057.3,719.6 1060.0,721.5 C1062.8,723.4 1061.4,722.5 1064.1,724.3 C1066.9,726.0 1065.5,725.2 1068.3,726.7 C1071.0,728.2 1069.6,727.7 1072.4,728.8 C1075.1,729.9 1073.8,729.5 1076.5,730.0 C1079.3,730.4 1077.9,730.4 1080.6,730.3 C1083.4,730.1 1082.0,730.3 1084.8,729.5 C1087.5,728.7 1086.1,729.1 1088.9,727.8 C1091.6,726.6 1090.3,727.2 1093.0,725.7 C1095.8,724.2 1094.4,724.6 1097.1,723.4 C1099.9,722.1 1099.7,722.7 1101.3,721.9 C1102.9,721.1 1101.7,721.3 1101.9,721.0" fill="none" stroke="#3c2ccc" stroke-width="1.4" stroke-linejoin="round" stroke-linecap="round" />
<path d="M20.5,762.0 C21.3,762.3 23.7,764.3 25.2,764.3 C26.8,764.3 28.5,762.9 30.0,762.0 C31.4,761.0 32.2,759.7 33.9,758.8 C35.6,757.9 38.1,757.6 40.2,756.4 C42.3,755.3 44.4,753.3 46.5,751.7 C48.6,750.1 50.7,748.4 52.8,747.0 C54.9,745.5 57.0,744.2 59.1,743.0 C61.2,741.9 63.1,740.9 65.4,739.9 C67.8,738.8 70.9,737.9 73.3,736.7 C75.7,735.6 77.5,734.2 79.6,732.8 C81.7,731.4 83.8,729.3 85.9,728.1 C88.0,726.9 90.4,726.2 92.2,725.7 C94.1,725.2 95.4,724.9 97.0,724.9 C98.5,724.9 99.8,725.2 101.7,725.7 C103.5,726.2 106.0,727.0 108.0,728.1 C110.0,729.1 111.7,731.5 113.5,732.0 C115.3,732.5 117.0,731.5 119.0,731.2 C121.0,730.9 123.7,730.3 125.3,730.1 C126.9,729.9 127.2,730.7 128.5,730.1 C129.8,729.5 131.4,727.4 133.2,726.5 C135.0,725.6 137.4,725.4 139.5,724.9 C141.6,724.5 144.0,723.7 145.8,723.8 C147.7,723.9 148.7,724.7 150.5,725.7 C152.4,726.7 154.7,728.5 156.8,729.6 C158.9,730.7 161.0,731.9 163.1,732.3 C165.2,732.8 167.6,732.5 169.5,732.3 C171.3,732.1 172.6,731.5 174.2,731.2 C175.8,731.0 177.1,730.6 178.9,730.7 C180.7,730.9 183.1,731.7 185.2,732.0 C187.3,732.3 189.4,732.4 191.5,732.3 C193.6,732.3 195.7,732.3 197.8,731.7 C199.9,731.1 202.0,729.7 204.1,728.9 C206.2,728.0 208.4,727.2 210.4,726.5 C212.5,725.8 214.3,725.2 216.3,724.4 C218.3,723.7 220.5,722.8 222.6,722.2 C224.7,721.7 226.8,722.0 228.9,721.3 C231.0,720.6 233.1,718.5 235.2,717.8 C237.3,717.1 239.2,717.8 241.5,717.0 C243.9,716.2 247.0,713.5 249.4,713.1 C251.8,712.7 253.6,714.4 255.7,714.4 C257.8,714.3 259.9,713.2 262.0,712.8 C264.1,712.4 266.5,710.3 268.3,711.8 C270.2,713.3 271.5,718.7 273.0,721.8 C274.6,724.9 276.2,726.9 277.8,730.4 C279.3,734.0 280.9,738.1 282.5,743.0 C284.1,748.0 285.8,755.4 287.2,760.4 C288.7,765.4 290.0,769.6 291.2,773.0 C292.3,776.3 293.1,779.5 294.3,780.6 C295.5,781.6 296.8,780.2 298.3,779.3 C299.7,778.4 301.1,776.4 303.0,775.4 C304.8,774.3 307.2,774.3 309.3,773.0 C311.4,771.7 313.8,768.8 315.6,767.5 C317.4,766.2 318.5,767.1 320.3,765.1 C322.2,763.1 324.5,758.7 326.6,755.7 C328.7,752.6 330.8,749.5 332.9,747.0 C335.0,744.5 337.4,741.9 339.2,740.7 C341.1,739.5 342.4,740.5 344.0,739.9 C345.5,739.2 346.9,738.6 348.7,736.7 C350.5,734.9 353.2,730.6 355.0,728.9 C356.8,727.1 357.9,727.8 359.7,726.5 C361.6,725.2 363.9,722.9 366.0,721.0 C368.1,719.0 370.2,716.6 372.3,714.7 C374.4,712.7 376.8,710.6 378.6,709.2 C380.5,707.7 382.1,706.6 383.4,706.0 C384.7,705.4 384.9,705.1 386.5,705.5 C388.1,705.9 391.0,707.4 392.8,708.4 C394.7,709.4 396.1,710.7 397.5,711.5 C399.0,712.3 400.2,713.4 401.5,713.1 C402.8,712.8 404.1,710.7 405.4,709.9 C406.8,709.2 408.2,708.8 409.7,708.7 C411.2,708.6 412.9,708.2 414.5,709.2 C416.0,710.2 417.9,714.0 419.2,714.7 C420.5,715.4 421.0,714.2 422.3,713.4 C423.6,712.6 425.5,710.8 427.1,709.9 C428.6,709.1 430.2,709.0 431.8,708.1 C433.4,707.1 434.9,705.6 436.5,704.4 C438.1,703.3 439.4,702.1 441.2,701.3 C443.1,700.5 445.7,700.1 447.6,699.7 C449.4,699.3 450.4,699.4 452.3,698.9 C454.1,698.4 456.5,697.0 458.6,696.5 C460.7,696.1 463.3,696.3 464.9,696.1 C466.5,695.9 466.7,695.1 468.0,695.4 C469.4,695.8 471.2,698.1 472.8,698.1 C474.3,698.2 475.9,696.3 477.5,695.8 C479.1,695.2 480.7,695.0 482.2,695.0 C483.8,695.0 485.4,695.1 487.0,695.8 C488.5,696.5 490.1,698.8 491.7,699.2 C493.3,699.6 494.6,698.0 496.4,698.1 C498.2,698.2 500.9,699.6 502.7,699.7 C504.6,699.8 505.9,699.6 507.4,698.9 C509.0,698.3 510.6,696.9 512.2,695.8 C513.7,694.7 515.1,693.3 516.9,692.3 C518.7,691.3 521.1,690.6 523.2,689.8 C525.3,689.0 527.7,687.7 529.5,687.6 C531.3,687.5 532.4,688.4 534.2,689.1 C536.1,689.9 538.4,691.2 540.5,691.8 C542.6,692.4 545.0,692.2 546.8,692.6 C548.7,693.1 550.0,693.8 551.6,694.5 C553.1,695.2 554.7,696.3 556.3,696.5 C557.9,696.8 559.7,696.3 561.0,696.1 C562.3,695.9 562.6,695.4 564.2,695.3 C565.8,695.2 566.8,695.3 570.5,695.3 C574.2,695.3 581.5,695.3 586.2,695.3 C591.0,695.3 595.5,694.8 598.9,695.3 C602.2,695.8 604.0,696.9 606.3,698.1 C608.6,699.4 610.5,701.3 612.6,702.9 C614.7,704.4 616.8,706.4 618.9,707.6 C621.0,708.8 623.4,709.7 625.2,709.9 C627.1,710.2 628.1,710.1 629.9,709.2 C631.8,708.2 634.3,705.5 636.2,704.4 C638.2,703.4 640.2,703.4 641.8,702.9 C643.3,702.3 644.3,701.0 645.7,701.3 C647.1,701.5 648.9,703.5 650.4,704.4 C652.0,705.4 653.6,706.8 655.2,707.1 C656.7,707.4 658.3,706.0 659.9,706.0 C661.5,706.0 662.8,707.2 664.6,707.1 C666.5,707.0 669.1,705.6 670.9,705.5 C672.8,705.5 674.1,706.3 675.7,706.8 C677.2,707.3 679.1,706.7 680.4,708.4 C681.7,710.1 682.2,714.5 683.5,717.0 C684.8,719.5 686.7,721.8 688.3,723.3 C689.8,724.9 691.4,724.8 693.0,726.5 C694.6,728.2 695.9,731.2 697.7,733.6 C699.6,735.9 701.9,738.4 704.0,740.7 C706.1,742.9 708.7,745.1 710.3,747.0 C711.9,748.8 711.9,751.4 713.5,751.7 C715.1,752.0 717.7,749.7 719.8,748.6 C721.9,747.4 724.2,745.5 726.1,744.6 C727.9,743.7 729.2,742.5 730.8,743.0 C732.4,743.6 734.0,745.9 735.5,747.8 C737.1,749.6 738.4,751.7 740.3,754.1 C742.1,756.4 744.7,759.1 746.6,762.0 C748.4,764.8 750.0,769.1 751.3,771.4 C752.6,773.7 753.1,775.1 754.5,775.8 C755.8,776.6 757.6,775.8 759.2,775.8 C760.8,775.9 762.6,775.0 763.9,776.1 C765.2,777.2 765.9,780.1 767.1,782.4 C768.2,784.8 769.4,788.9 771.0,790.3 C772.6,791.8 774.8,790.8 776.5,791.1 C778.2,791.4 779.4,792.0 781.2,792.2 C783.1,792.4 785.7,792.8 787.5,792.2 C789.4,791.6 790.8,790.6 792.3,788.7 C793.7,786.9 795.0,783.2 796.2,780.9 C797.5,778.5 798.4,777.3 799.7,774.6 C801.1,771.8 802.9,766.7 804.5,764.3 C806.0,762.0 807.7,761.1 809.2,760.4 C810.6,759.7 811.8,759.8 813.1,760.1 C814.4,760.3 815.8,761.8 817.1,762.0 C818.4,762.1 819.6,760.6 821.0,761.2 C822.4,761.7 824.0,762.6 825.7,765.1 C827.4,767.6 829.4,772.9 831.2,776.1 C833.1,779.4 835.1,782.8 836.8,784.8 C838.5,786.8 839.9,787.7 841.5,788.0 C843.1,788.2 844.5,787.7 846.2,786.4 C847.9,785.1 849.8,782.6 851.7,780.1 C853.7,777.6 855.9,774.4 858.0,771.4 C860.1,768.4 862.5,764.4 864.3,762.0 C866.2,759.5 867.5,757.6 869.1,756.4 C870.7,755.3 872.2,755.0 873.8,754.9 C875.4,754.7 876.7,755.1 878.5,755.3 C880.4,755.6 882.7,756.6 884.8,756.4 C886.9,756.2 888.8,755.4 891.1,754.1 C893.5,752.8 896.7,750.7 899.0,748.6 C901.4,746.5 903.5,743.3 905.3,741.5 C907.2,739.6 908.3,738.4 910.1,737.5 C911.8,736.6 913.7,736.1 915.6,735.9 C917.4,735.8 919.4,736.2 921.1,736.4 C922.8,736.7 924.2,736.7 925.8,737.5 C927.4,738.4 929.0,740.6 930.5,741.5 C932.1,742.3 933.7,743.1 935.3,742.7 C936.8,742.3 938.2,740.2 940.0,739.1 C941.8,738.0 944.2,737.1 946.3,735.9 C948.4,734.8 950.8,733.1 952.6,732.0 C954.4,731.0 955.8,730.2 957.3,729.6 C958.9,729.1 960.2,729.3 962.1,728.9 C963.9,728.4 966.3,727.8 968.4,727.0 C970.5,726.1 972.6,724.8 974.7,723.8 C976.8,722.8 978.9,722.2 981.0,721.0 C983.1,719.7 985.0,718.0 987.3,716.2 C989.6,714.5 992.7,711.9 994.7,710.7 C996.8,709.6 997.9,710.1 999.5,709.2 C1001.0,708.2 1002.3,706.6 1004.2,705.2 C1006.0,703.8 1008.6,701.3 1010.5,700.8 C1012.3,700.3 1013.6,701.8 1015.2,702.4 C1016.8,703.0 1018.1,703.2 1019.9,704.4 C1021.8,705.7 1024.1,709.0 1026.2,709.9 C1028.4,710.9 1030.5,709.7 1032.6,710.3 C1034.7,710.8 1036.8,711.6 1038.9,713.1 C1041.0,714.6 1042.8,717.0 1045.2,719.4 C1047.5,721.8 1050.7,724.9 1053.0,727.3 C1055.4,729.6 1057.4,731.5 1059.3,733.6 C1061.3,735.7 1063.0,739.0 1064.9,739.9 C1066.7,740.7 1068.8,739.1 1070.4,738.6 C1072.0,738.2 1073.0,738.3 1074.3,737.1 C1075.6,735.8 1076.8,733.0 1078.3,731.2 C1079.7,729.5 1081.1,728.1 1083.0,726.5 C1084.8,724.9 1087.5,723.7 1089.3,721.8 C1091.1,719.8 1092.4,716.5 1094.0,714.7 C1095.6,712.8 1097.4,711.7 1098.7,710.7 C1100.1,709.8 1101.4,709.4 1101.9,709.2" fill="none" stroke="#111" stroke-width="2.3" stroke-linejoin="round" stroke-linecap="round" />
</g>
<g clip-path="url(#cS)">
<line x1="19.5" y1="834.8" x2="1205.5" y2="834.8" stroke="#3a6e3a" stroke-width="1.6" />
<line x1="19.5" y1="897.6" x2="1205.5" y2="897.6" stroke="#3a6e3a" stroke-width="1.6" />
<line x1="19.5" y1="866.2" x2="1205.5" y2="866.2" stroke="#3a6e3a" stroke-width="1.6" stroke-dasharray="10.5,4.6,2.8,4.6" stroke-dashoffset="1.6"/>
<path d="M23.7,908.2 C24.3,908.1 25.4,910.1 26.8,907.4 C28.2,904.8 29.0,901.5 30.8,894.8 C32.5,888.2 33.6,881.4 35.5,874.3 C37.4,867.3 38.3,864.4 40.2,859.4 C42.1,854.3 43.1,853.1 44.9,849.1 C46.8,845.2 47.8,842.8 49.7,839.7 C51.6,836.5 52.7,836.0 54.4,833.4 C56.1,830.7 56.4,828.8 58.3,826.3 C60.2,823.8 61.2,822.5 63.9,820.8 C66.5,819.0 68.0,818.4 71.7,817.6 C75.5,816.8 78.4,816.7 82.8,816.8 C87.2,817.0 90.3,817.5 93.8,818.4 C97.3,819.3 98.1,820.0 100.1,821.5 C102.2,823.1 102.2,821.7 104.0,826.3 C105.9,830.8 107.2,836.4 109.6,844.4 C111.9,852.4 113.7,860.6 115.9,866.5 C118.0,872.3 118.4,874.5 120.3,873.6 C122.2,872.6 123.4,868.2 125.3,861.7 C127.3,855.3 128.3,848.3 130.1,841.2 C131.8,834.2 132.1,830.7 134.0,826.3 C135.9,821.9 137.5,820.7 139.5,819.2 C141.6,817.7 142.7,818.2 144.2,818.9 C145.8,819.5 145.5,820.1 147.4,822.3 C149.3,824.6 151.5,826.1 153.7,830.2 C155.9,834.3 156.4,837.8 158.4,842.8 C160.5,847.9 162.0,851.8 163.9,855.4 C165.8,859.1 166.1,861.3 167.9,860.9 C169.6,860.6 170.7,857.8 172.6,853.9 C174.5,849.9 175.4,845.3 177.3,841.2 C179.2,837.2 180.2,834.0 182.1,833.4 C184.0,832.7 184.6,835.9 186.8,838.1 C189.0,840.3 190.6,843.6 193.1,844.4 C195.6,845.2 197.2,845.2 199.4,842.0 C201.6,838.9 202.2,832.9 204.1,828.6 C206.0,824.4 207.7,822.5 208.9,820.8 C210.0,819.0 208.8,820.7 210.0,820.0 C211.2,819.3 212.5,817.7 214.7,817.3 C216.9,816.9 218.5,817.6 221.0,817.9 C223.6,818.2 224.8,818.9 227.3,818.9 C229.9,818.8 230.8,817.9 233.6,817.6 C236.5,817.4 238.4,817.5 241.5,817.6 C244.7,817.8 246.7,817.8 249.4,818.4 C252.1,819.0 253.0,819.2 254.9,820.8 C256.8,822.3 257.1,824.3 258.9,826.3 C260.6,828.2 261.7,830.1 263.6,830.5 C265.5,831.0 266.6,828.4 268.3,828.6 C270.0,828.9 270.7,829.0 272.3,831.8 C273.8,834.6 274.6,836.2 276.2,842.8 C277.8,849.4 278.6,857.0 280.1,864.9 C281.7,872.8 282.5,876.2 284.1,882.2 C285.7,888.2 286.4,891.4 288.0,894.8 C289.6,898.3 290.4,898.9 292.0,899.6 C293.5,900.2 294.2,899.9 295.9,898.0 C297.6,896.1 298.9,893.9 300.6,890.1 C302.4,886.3 303.0,883.2 304.6,879.1 C306.1,875.0 306.8,872.8 308.5,869.6 C310.2,866.5 311.2,865.2 313.2,863.3 C315.3,861.4 316.7,861.1 318.7,860.2 C320.8,859.2 321.6,859.8 323.5,858.6 C325.4,857.3 326.3,856.7 328.2,853.9 C330.1,851.0 331.0,848.3 332.9,844.4 C334.8,840.5 335.8,837.3 337.7,834.2 C339.6,831.0 340.5,829.6 342.4,828.6 C344.3,827.7 345.2,828.8 347.1,829.4 C349.0,830.1 350.0,832.3 351.8,831.8 C353.7,831.3 354.7,828.7 356.6,827.1 C358.5,825.4 359.1,825.0 361.3,823.6 C363.5,822.2 365.1,821.2 367.6,820.0 C370.1,818.7 371.4,818.1 373.9,817.3 C376.4,816.4 378.0,815.7 380.2,815.7 C382.4,815.8 383.2,815.7 384.9,817.6 C386.7,819.6 387.3,821.4 388.9,825.5 C390.5,829.6 391.1,833.1 392.8,838.1 C394.6,843.1 395.7,846.4 397.5,850.7 C399.4,855.0 400.4,858.1 402.3,859.4 C404.2,860.6 404.9,859.4 407.0,857.0 C409.1,854.6 410.4,848.8 412.9,847.6 C415.3,846.3 416.5,848.3 419.2,850.7 C421.9,853.1 423.8,860.3 426.3,859.4 C428.8,858.4 429.6,851.5 431.8,846.0 C434.0,840.5 435.1,836.4 437.3,831.8 C439.5,827.2 440.5,825.5 442.8,823.1 C445.2,820.8 446.3,820.8 449.1,820.0 C452.0,819.1 453.9,819.4 457.0,818.9 C460.2,818.3 462.1,817.1 464.9,817.3 C467.7,817.5 469.0,818.5 471.2,820.0 C473.4,821.5 474.0,823.6 475.9,824.7 C477.8,825.8 478.8,825.8 480.7,825.5 C482.5,825.2 483.5,823.1 485.4,823.1 C487.3,823.1 488.1,823.0 490.1,825.5 C492.2,828.0 493.4,833.2 495.6,835.7 C497.8,838.3 499.1,838.6 501.1,838.1 C503.2,837.6 504.0,836.0 505.9,833.4 C507.8,830.7 508.7,827.4 510.6,824.7 C512.5,822.0 513.1,821.6 515.3,820.0 C517.5,818.3 519.1,816.9 521.6,816.3 C524.1,815.8 525.4,816.7 527.9,817.3 C530.5,817.9 531.7,818.2 534.2,819.5 C536.8,820.8 538.0,822.7 540.5,823.6 C543.1,824.5 544.3,824.5 546.8,824.2 C549.4,823.9 550.3,822.6 553.1,822.0 C556.0,821.5 558.2,822.1 561.0,821.5 C563.9,821.0 564.8,819.5 567.3,819.2 C569.9,818.9 571.1,819.5 573.6,820.0 C576.2,820.4 577.4,821.3 579.9,821.5 C582.5,821.8 583.7,821.6 586.2,821.1 C588.8,820.5 589.8,819.4 592.5,818.9 C595.3,818.3 597.4,818.0 600.0,818.4 C602.6,818.8 603.3,818.4 605.5,820.8 C607.7,823.1 609.0,825.8 611.0,830.2 C613.1,834.6 613.9,838.4 615.8,842.8 C617.7,847.2 618.6,849.3 620.5,852.3 C622.4,855.3 623.3,858.4 625.2,857.8 C627.1,857.2 627.9,853.7 629.9,849.1 C632.0,844.6 633.3,840.0 635.5,834.9 C637.7,829.9 638.9,826.9 641.0,823.9 C643.0,820.9 643.8,820.3 645.7,820.0 C647.6,819.7 648.5,820.0 650.4,822.3 C652.3,824.7 653.1,828.2 655.2,831.8 C657.2,835.4 658.6,839.4 660.7,840.5 C662.7,841.6 663.4,839.0 665.4,837.3 C667.5,835.6 668.9,833.7 670.9,831.8 C673.0,829.9 673.8,828.2 675.7,827.9 C677.5,827.5 678.6,826.6 680.4,830.2 C682.1,833.8 682.6,838.7 684.3,846.0 C686.1,853.2 687.2,859.5 689.0,866.5 C690.9,873.4 691.7,877.2 693.8,880.7 C695.8,884.1 696.9,883.2 699.3,883.8 C701.7,884.4 703.1,883.2 705.6,883.8 C708.1,884.4 709.5,886.3 711.9,887.0 C714.3,887.6 715.2,888.4 717.4,887.0 C719.6,885.5 720.7,883.6 722.9,879.9 C725.1,876.1 726.4,872.0 728.4,868.0 C730.5,864.1 731.1,860.3 733.2,860.2 C735.2,860.0 736.6,863.3 738.7,867.3 C740.7,871.2 741.5,874.0 743.4,879.9 C745.3,885.7 746.4,891.7 748.1,896.4 C749.9,901.1 750.4,902.4 752.1,903.5 C753.8,904.6 754.9,903.3 756.8,901.9 C758.7,900.5 759.7,898.5 761.5,896.4 C763.4,894.4 764.4,892.3 766.3,891.7 C768.2,891.1 769.1,892.0 771.0,893.3 C772.9,894.5 773.8,896.4 775.7,898.0 C777.6,899.6 778.6,901.1 780.5,901.1 C782.3,901.1 783.1,899.6 785.2,898.0 C787.2,896.4 788.7,895.8 790.7,893.3 C792.8,890.7 793.6,890.4 795.4,885.4 C797.2,880.3 797.9,875.3 799.7,868.0 C801.5,860.8 802.6,855.6 804.5,849.1 C806.3,842.7 807.5,839.0 809.2,835.7 C810.9,832.4 811.5,832.1 813.1,832.6 C814.7,833.1 815.3,834.2 817.1,838.1 C818.8,842.0 819.7,846.6 821.8,852.3 C823.8,858.0 825.1,860.5 827.3,866.5 C829.5,872.5 830.8,875.3 832.8,882.2 C834.9,889.2 835.8,895.6 837.6,901.1 C839.3,906.7 839.8,908.4 841.5,909.8 C843.2,911.2 844.3,910.6 846.2,908.2 C848.1,905.9 849.1,903.0 850.9,898.0 C852.8,892.9 853.8,887.7 855.7,883.0 C857.6,878.3 858.5,877.7 860.4,874.3 C862.3,871.0 863.2,870.9 865.1,866.5 C867.0,862.1 868.0,857.0 869.9,852.3 C871.8,847.6 872.9,845.3 874.6,842.8 C876.3,840.3 876.8,839.5 878.5,839.7 C880.3,839.8 881.5,841.1 883.3,843.6 C885.0,846.1 885.6,849.6 887.2,852.3 C888.8,855.0 889.4,856.9 891.1,857.0 C892.9,857.2 894.0,855.3 895.9,853.1 C897.8,850.9 898.7,849.1 900.6,846.0 C902.5,842.8 903.4,839.8 905.3,837.3 C907.2,834.8 908.2,834.5 910.1,833.4 C911.9,832.3 913.0,831.2 914.8,831.8 C916.5,832.4 917.0,833.7 918.7,836.5 C920.5,839.4 921.6,841.6 923.4,846.0 C925.3,850.4 926.3,854.2 928.2,858.6 C930.1,863.0 931.2,864.6 932.9,868.0 C934.6,871.5 935.3,875.0 936.8,875.9 C938.4,876.9 939.1,875.9 940.8,872.8 C942.5,869.6 943.6,865.5 945.5,860.2 C947.4,854.8 948.3,851.0 950.2,846.0 C952.1,840.9 953.1,837.9 955.0,834.9 C956.9,832.0 957.6,832.3 959.7,831.0 C961.7,829.7 963.2,829.3 965.2,828.6 C967.3,828.0 967.9,828.6 969.9,827.9 C972.0,827.1 973.4,826.1 975.5,824.7 C977.5,823.3 978.3,821.9 980.2,820.8 C982.1,819.6 983.0,819.0 984.9,818.9 C986.8,818.7 987.4,818.8 989.6,820.0 C991.9,821.1 993.7,823.9 996.3,824.7 C998.9,825.5 1000.1,824.2 1002.6,823.9 C1005.1,823.6 1006.4,823.1 1008.9,823.1 C1011.4,823.1 1013.0,822.8 1015.2,823.9 C1017.4,825.0 1018.1,825.3 1019.9,828.6 C1021.8,832.0 1022.6,836.0 1024.7,840.5 C1026.7,844.9 1028.0,848.5 1030.2,850.7 C1032.4,852.9 1033.7,850.7 1035.7,851.5 C1037.8,852.3 1038.7,852.0 1040.4,854.6 C1042.2,857.3 1042.6,859.7 1044.4,864.9 C1046.1,870.1 1047.2,874.3 1049.1,880.7 C1051.0,887.0 1052.1,892.5 1053.8,896.4 C1055.6,900.4 1056.0,899.3 1057.8,900.4 C1059.5,901.4 1060.6,901.0 1062.5,901.5 C1064.4,901.9 1065.3,903.4 1067.2,902.4 C1069.1,901.4 1070.2,902.0 1072.0,896.4 C1073.7,890.8 1074.3,883.2 1075.9,874.3 C1077.5,865.5 1078.3,859.8 1079.8,852.3 C1081.4,844.7 1082.2,841.9 1083.8,836.5 C1085.4,831.2 1086.0,829.2 1087.7,825.5 C1089.4,821.8 1090.6,819.8 1092.4,817.9 C1094.3,816.1 1095.3,816.6 1097.2,816.3 C1099.1,816.1 1101.0,816.7 1101.9,816.8" fill="none" stroke="#e0262c" stroke-width="1.4" stroke-linejoin="round" stroke-linecap="round" />
<path d="M20.5,910.3 C21.1,908.9 24.0,903.1 25.2,899.6 C26.5,896.0 28.8,888.2 30.0,883.8 C31.1,879.4 32.8,870.7 33.9,866.5 C35.1,862.3 37.5,855.2 38.6,852.3 C39.8,849.3 41.4,845.8 42.6,844.4 C43.7,843.0 46.3,843.6 47.3,842.0 C48.4,840.5 49.6,834.8 50.5,832.6 C51.3,830.4 52.5,827.3 53.6,825.5 C54.8,823.7 57.3,820.3 59.1,819.2 C60.9,818.0 64.5,817.2 67.0,816.8 C69.5,816.4 75.1,816.0 78.0,816.0 C81.0,816.0 86.8,816.3 89.1,816.8 C91.4,817.3 93.9,818.8 95.4,820.0 C96.8,821.2 98.8,823.2 100.1,825.8 C101.4,828.4 103.6,834.7 104.8,839.7 C106.1,844.7 108.5,858.2 109.6,863.3 C110.7,868.4 112.0,876.3 113.0,877.8 C114.1,879.3 116.3,876.9 117.4,874.3 C118.6,871.8 120.3,863.3 121.4,858.6 C122.4,853.9 124.4,842.6 125.3,838.9 C126.3,835.2 127.6,832.8 128.5,831.0 C129.3,829.2 130.6,827.2 131.6,825.5 C132.7,823.8 135.1,819.6 136.4,818.4 C137.6,817.2 139.9,816.7 141.1,816.8 C142.2,817.0 144.0,817.9 145.0,819.5 C146.1,821.1 147.8,826.0 149.0,828.6 C150.1,831.3 152.4,836.3 153.7,839.7 C155.0,843.0 157.2,850.6 158.4,853.9 C159.7,857.1 162.0,862.9 163.1,864.1 C164.3,865.3 166.0,864.3 167.1,862.5 C168.1,860.7 170.0,854.4 171.0,850.7 C172.1,847.0 173.9,837.7 175.0,834.9 C176.0,832.2 177.9,830.1 178.9,830.2 C180.0,830.3 181.8,833.7 182.8,835.7 C183.9,837.7 185.7,843.6 186.8,845.2 C187.8,846.8 189.6,847.8 190.7,847.6 C191.9,847.3 194.3,845.6 195.5,843.6 C196.6,841.6 198.5,835.3 199.4,832.6 C200.3,829.8 201.6,825.1 202.5,823.1 C203.5,821.1 205.4,818.6 206.5,817.6 C207.5,816.6 209.3,815.9 210.4,815.7 C211.5,815.5 213.5,816.0 214.7,816.3 C215.9,816.7 218.2,818.0 219.5,818.4 C220.7,818.8 222.9,819.6 224.2,819.5 C225.4,819.4 227.7,818.3 228.9,817.9 C230.2,817.6 232.2,816.8 233.6,816.8 C235.1,816.8 238.3,817.8 239.9,817.9 C241.6,818.1 244.8,818.0 246.2,818.1 C247.7,818.1 249.9,817.6 251.0,818.4 C252.0,819.2 253.3,822.1 254.1,823.9 C255.0,825.7 256.3,830.5 257.3,831.8 C258.2,833.1 260.2,833.5 261.2,833.4 C262.3,833.2 264.2,831.7 265.2,830.5 C266.1,829.4 267.9,824.4 268.6,824.7 C269.4,825.0 270.1,830.0 270.7,832.6 C271.3,835.2 272.3,840.1 273.0,844.4 C273.8,848.7 275.4,859.8 276.2,864.9 C277.0,869.9 278.5,878.2 279.3,882.2 C280.2,886.2 281.5,892.3 282.5,894.8 C283.5,897.4 285.7,900.9 286.8,901.5 C287.8,902.0 289.5,899.1 290.4,898.8 C291.3,898.4 292.7,900.4 293.5,898.8 C294.4,897.2 295.8,889.6 296.7,887.0 C297.5,884.3 299.0,881.1 299.8,879.1 C300.7,877.1 302.1,874.1 303.0,872.0 C303.8,869.9 305.1,864.7 306.1,863.3 C307.2,861.9 309.6,861.8 310.9,861.4 C312.1,861.0 314.3,860.4 315.6,860.2 C316.9,859.9 319.3,860.0 320.3,859.4 C321.4,858.7 322.5,856.7 323.5,855.4 C324.4,854.2 326.4,852.6 327.4,849.9 C328.5,847.2 330.3,837.8 331.4,834.9 C332.4,832.1 334.2,829.9 335.3,828.6 C336.3,827.4 338.1,825.2 339.2,825.8 C340.4,826.4 342.7,832.6 344.0,833.4 C345.2,834.2 347.5,832.3 348.7,831.8 C349.8,831.3 351.6,830.6 352.6,829.4 C353.7,828.3 355.4,824.1 356.6,823.1 C357.7,822.1 360.1,822.4 361.3,822.0 C362.5,821.6 364.2,820.4 365.2,820.0 C366.3,819.6 368.0,819.7 369.2,819.2 C370.3,818.7 372.6,816.8 373.9,816.3 C375.2,815.9 377.6,815.8 378.6,815.7 C379.7,815.7 380.9,815.3 381.8,816.0 C382.6,816.8 384.0,818.8 384.9,821.5 C385.9,824.3 387.8,832.6 388.9,836.5 C389.9,840.4 391.8,847.8 392.8,850.7 C393.9,853.6 395.6,857.2 396.8,858.6 C397.9,860.0 400.3,861.8 401.5,860.9 C402.6,860.1 404.3,854.4 405.4,852.3 C406.5,850.2 408.6,846.5 409.7,845.2 C410.9,843.9 412.9,840.3 414.1,842.5 C415.4,844.7 417.9,858.9 419.2,861.4 C420.5,863.9 422.9,862.6 423.9,861.4 C425.0,860.2 426.1,856.0 427.1,852.3 C428.0,848.5 429.7,836.8 431.0,833.4 C432.3,829.9 434.9,828.3 436.5,826.3 C438.1,824.3 440.9,819.1 442.8,818.4 C444.7,817.7 449.0,820.8 450.7,820.8 C452.4,820.8 454.3,818.9 455.4,818.4 C456.6,817.9 458.1,816.8 459.4,816.8 C460.6,816.8 463.7,818.1 464.9,818.4 C466.0,818.7 467.0,818.1 468.0,819.2 C469.1,820.3 471.6,826.0 472.8,826.7 C473.9,827.5 475.7,825.0 476.7,824.7 C477.8,824.4 479.6,825.5 480.7,824.7 C481.7,823.9 483.6,818.6 484.6,818.9 C485.5,819.2 486.8,824.2 487.7,827.1 C488.7,829.9 490.8,838.8 492.0,840.5 C493.2,842.1 495.2,840.2 496.4,839.4 C497.6,838.5 499.9,836.1 501.1,834.2 C502.4,832.2 504.8,826.3 505.9,824.7 C506.9,823.1 508.0,823.5 509.0,822.3 C510.1,821.1 512.1,816.6 513.7,815.7 C515.4,814.8 520.1,815.4 521.6,815.7 C523.2,816.0 524.4,817.6 525.6,817.9 C526.7,818.3 528.9,817.9 530.3,818.4 C531.7,818.9 534.3,820.4 535.8,821.5 C537.3,822.7 540.4,826.6 541.8,826.7 C543.2,826.9 544.9,823.7 546.1,822.7 C547.3,821.6 549.5,819.0 550.8,818.9 C552.0,818.8 553.9,821.6 555.5,822.0 C557.1,822.4 561.0,822.9 562.6,822.0 C564.2,821.2 566.2,816.0 567.3,815.7 C568.5,815.4 570.1,819.3 571.3,820.0 C572.4,820.6 575.0,820.1 576.0,820.8 C577.1,821.5 578.1,825.5 579.2,825.2 C580.2,824.9 582.5,819.3 583.9,818.4 C585.2,817.5 587.8,818.4 589.4,818.4 C591.0,818.4 594.2,818.2 595.7,818.4 C597.2,818.6 599.2,819.0 600.4,820.0 C601.6,820.9 603.5,823.5 604.7,825.5 C605.9,827.5 608.2,832.0 609.5,834.9 C610.7,837.9 613.0,844.7 614.2,847.6 C615.3,850.4 617.1,854.4 618.1,856.2 C619.2,858.0 621.1,860.3 622.1,860.9 C623.0,861.6 624.4,863.2 625.2,860.9 C626.1,858.7 627.5,848.7 628.4,844.4 C629.2,840.1 630.7,831.7 631.5,828.6 C632.4,825.6 633.7,822.9 634.7,821.5 C635.6,820.2 637.4,818.6 638.6,818.4 C639.9,818.2 642.9,819.0 644.1,820.0 C645.4,820.9 647.0,823.5 648.1,825.5 C649.1,827.5 651.1,832.8 652.0,834.9 C653.0,837.1 654.1,840.5 655.2,841.6 C656.2,842.7 658.8,843.3 659.9,843.1 C660.9,843.0 662.0,842.5 663.0,840.5 C664.1,838.4 666.1,829.5 667.8,827.9 C669.5,826.2 674.2,827.2 675.7,827.9 C677.1,828.5 678.1,831.0 678.8,832.6 C679.5,834.2 680.5,834.9 681.2,839.7 C681.8,844.4 682.7,862.6 683.5,868.0 C684.4,873.5 686.3,877.8 687.5,880.7 C688.7,883.5 691.4,889.4 692.7,889.3 C693.9,889.3 695.7,880.9 696.9,880.3 C698.1,879.8 700.3,884.4 701.7,885.4 C703.0,886.4 705.6,887.2 707.2,887.7 C708.7,888.3 712.0,890.2 713.5,889.8 C714.9,889.4 717.0,886.6 718.2,884.6 C719.4,882.5 721.1,877.7 722.1,874.3 C723.2,871.0 725.0,861.4 726.1,859.4 C727.1,857.4 729.0,858.5 730.0,859.4 C731.1,860.2 732.8,863.5 734.0,865.7 C735.1,867.9 737.5,872.7 738.7,875.9 C739.8,879.2 741.6,886.7 742.6,890.1 C743.7,893.5 745.5,899.0 746.6,901.1 C747.6,903.2 749.4,905.4 750.5,905.9 C751.7,906.3 754.2,905.8 755.2,904.3 C756.3,902.8 757.4,896.8 758.4,894.8 C759.3,892.8 761.4,890.2 762.3,889.3 C763.3,888.5 764.4,887.2 765.5,888.5 C766.5,889.9 769.0,897.5 770.2,899.6 C771.5,901.7 773.7,904.1 774.9,904.3 C776.2,904.5 778.6,902.5 779.7,901.1 C780.7,899.8 781.9,894.9 782.8,894.0 C783.8,893.2 785.6,895.5 786.8,894.5 C787.9,893.6 790.2,889.9 791.5,887.0 C792.8,884.1 795.2,876.8 796.2,872.8 C797.2,868.8 797.9,862.5 798.9,857.0 C799.9,851.5 802.4,835.7 803.7,831.8 C804.9,827.9 807.1,827.5 808.4,827.9 C809.7,828.2 811.9,830.9 813.1,834.2 C814.4,837.4 816.6,848.2 817.9,852.3 C819.1,856.4 821.2,861.3 822.6,864.9 C823.9,868.5 826.7,874.5 828.1,879.1 C829.5,883.7 831.7,895.0 832.8,899.6 C834.0,904.1 835.7,911.8 836.8,913.4 C837.8,915.1 839.5,913.6 840.7,912.2 C841.9,910.7 844.2,906.1 845.4,902.7 C846.7,899.4 848.9,890.7 850.2,887.0 C851.4,883.2 853.8,876.8 854.9,874.3 C855.9,871.9 857.0,869.9 858.0,868.8 C859.1,867.8 861.6,868.7 862.8,866.5 C863.9,864.3 865.8,855.6 866.7,852.3 C867.7,848.9 868.9,843.2 869.9,841.2 C870.8,839.3 872.8,837.3 873.8,837.3 C874.9,837.3 876.6,839.1 877.7,841.2 C878.9,843.4 881.3,850.8 882.5,853.1 C883.6,855.3 885.4,858.0 886.4,858.3 C887.5,858.6 889.2,857.0 890.4,855.4 C891.5,853.9 893.9,848.4 895.1,846.8 C896.2,845.1 898.0,844.5 899.0,842.8 C900.1,841.1 901.9,835.6 903.0,834.2 C904.0,832.7 905.7,832.7 906.9,832.1 C908.1,831.5 910.5,829.2 911.6,829.4 C912.8,829.7 914.5,831.4 915.6,834.2 C916.6,836.9 918.5,847.3 919.5,849.9 C920.6,852.5 922.3,851.0 923.4,853.9 C924.6,856.7 927.0,868.3 928.2,871.2 C929.3,874.1 931.1,874.5 932.1,875.9 C933.1,877.4 934.8,883.3 935.7,882.2 C936.7,881.2 938.1,872.0 939.2,868.0 C940.3,864.0 942.6,856.7 943.9,852.3 C945.3,847.9 948.2,837.5 949.5,834.9 C950.7,832.4 952.4,834.3 953.4,833.4 C954.3,832.5 955.6,829.1 956.5,828.3 C957.5,827.5 959.3,827.3 960.5,827.4 C961.6,827.4 964.0,828.7 965.2,828.6 C966.5,828.6 968.7,828.0 969.9,827.1 C971.2,826.1 973.5,822.8 974.7,821.5 C975.8,820.3 977.6,818.5 978.6,817.9 C979.7,817.4 981.5,817.2 982.5,817.3 C983.6,817.4 985.4,818.0 986.5,818.9 C987.5,819.7 989.4,822.9 990.4,823.6 C991.4,824.3 992.8,823.5 993.9,823.9 C995.0,824.3 997.5,827.1 998.7,826.7 C999.9,826.4 1001.9,822.0 1002.9,821.5 C1004.0,821.1 1005.5,823.8 1006.5,823.6 C1007.6,823.4 1009.6,819.5 1010.8,820.0 C1012.0,820.4 1014.1,825.5 1015.2,827.1 C1016.3,828.6 1018.2,829.2 1019.2,831.8 C1020.1,834.4 1021.3,843.8 1022.3,846.8 C1023.4,849.7 1025.8,853.2 1027.0,853.9 C1028.3,854.6 1030.6,852.3 1031.8,852.0 C1032.9,851.7 1034.7,851.0 1035.7,851.5 C1036.8,852.0 1038.7,852.4 1039.6,855.4 C1040.6,858.5 1042.0,869.9 1042.8,874.3 C1043.6,878.8 1045.0,885.2 1045.9,888.5 C1046.9,891.9 1048.9,897.1 1049.9,899.6 C1050.8,902.0 1052.2,907.1 1053.0,906.7 C1053.8,906.2 1054.9,896.8 1055.9,896.1 C1056.8,895.4 1059.0,899.6 1060.1,901.1 C1061.3,902.7 1063.4,908.2 1064.5,907.8 C1065.7,907.3 1067.8,901.2 1068.8,898.0 C1069.8,894.8 1071.1,889.1 1072.0,883.8 C1072.8,878.5 1074.4,864.3 1075.1,858.6 C1075.8,852.9 1076.7,845.2 1077.5,841.2 C1078.2,837.3 1079.7,831.5 1080.6,828.6 C1081.6,825.8 1083.3,821.7 1084.6,820.0 C1085.8,818.2 1088.8,816.1 1090.1,815.7 C1091.3,815.3 1092.9,816.7 1094.0,816.8 C1095.2,817.0 1097.7,816.7 1098.7,816.8 C1099.8,816.9 1101.5,817.5 1101.9,817.6" fill="none" stroke="#111" stroke-width="2.2" stroke-linejoin="round" stroke-linecap="round" />
</g>
<rect x="19.5" y="802.8" width="124.2" height="23.1" fill="#cccccc"/>
<text x="23.2" y="820.3" font-size="14.5" fill="#222" textLength="116" lengthAdjust="spacingAndGlyphs">26 Aug Y:-133.22</text>
<rect x="19.5" y="43.5" width="1186.0" height="126.5" fill="none" stroke="#a6bdc4" stroke-width="1.25"/>
<rect x="19.5" y="170.0" width="1186.0" height="360.0" fill="none" stroke="#a6bdc4" stroke-width="1.25"/>
<rect x="19.5" y="551.0" width="1186.0" height="126.0" fill="none" stroke="#a6bdc4" stroke-width="1.25"/>
<rect x="19.5" y="677.0" width="1186.0" height="126.0" fill="none" stroke="#a6bdc4" stroke-width="1.25"/>
<rect x="19.5" y="803.0" width="1186.0" height="126.5" fill="none" stroke="#a6bdc4" stroke-width="1.25"/>
<text transform="translate(29.1,546.0) scale(1.06,1)" font-size="15.6" font-weight="bold" text-anchor="middle" fill="#111">19</text>
<text transform="translate(78.9,545.9) scale(1.1,1)" font-size="14.5" text-anchor="middle" fill="#111" letter-spacing="0.3">Apr</text>
<text transform="translate(131.3,545.9) scale(1.1,1)" font-size="14.5" text-anchor="middle" fill="#111" letter-spacing="0.3">Jul</text>
<text transform="translate(189.8,545.9) scale(1.1,1)" font-size="14.5" text-anchor="middle" fill="#111" letter-spacing="0.3">Oct</text>
<text transform="translate(242.9,546.0) scale(1.06,1)" font-size="15.6" font-weight="bold" text-anchor="middle" fill="#111">20</text>
<text transform="translate(298.0,545.9) scale(1.1,1)" font-size="14.5" text-anchor="middle" fill="#111" letter-spacing="0.3">Apr</text>
<text transform="translate(352.1,545.9) scale(1.1,1)" font-size="14.5" text-anchor="middle" fill="#111" letter-spacing="0.3">Jul</text>
<text transform="translate(404.6,545.9) scale(1.1,1)" font-size="14.5" text-anchor="middle" fill="#111" letter-spacing="0.3">Oct</text>
<text transform="translate(458.2,546.0) scale(1.06,1)" font-size="15.6" font-weight="bold" text-anchor="middle" fill="#111">21</text>
<text transform="translate(512.3,545.9) scale(1.1,1)" font-size="14.5" text-anchor="middle" fill="#111" letter-spacing="0.3">Apr</text>
<text transform="translate(566.5,545.9) scale(1.1,1)" font-size="14.5" text-anchor="middle" fill="#111" letter-spacing="0.3">Jul</text>
<text transform="translate(620.6,545.9) scale(1.1,1)" font-size="14.5" text-anchor="middle" fill="#111" letter-spacing="0.3">Oct</text>
<text transform="translate(675.2,546.0) scale(1.06,1)" font-size="15.6" font-weight="bold" text-anchor="middle" fill="#111">22</text>
<text transform="translate(729.6,545.9) scale(1.1,1)" font-size="14.5" text-anchor="middle" fill="#111" letter-spacing="0.3">Apr</text>
<text transform="translate(782.0,545.9) scale(1.1,1)" font-size="14.5" text-anchor="middle" fill="#111" letter-spacing="0.3">Jul</text>
<text transform="translate(836.2,545.9) scale(1.1,1)" font-size="14.5" text-anchor="middle" fill="#111" letter-spacing="0.3">Oct</text>
<text transform="translate(890.0,546.0) scale(1.06,1)" font-size="15.6" font-weight="bold" text-anchor="middle" fill="#111">23</text>
<text transform="translate(944.6,545.9) scale(1.1,1)" font-size="14.5" text-anchor="middle" fill="#111" letter-spacing="0.3">Apr</text>
<text transform="translate(998.0,545.9) scale(1.1,1)" font-size="14.5" text-anchor="middle" fill="#111" letter-spacing="0.3">Jul</text>
<text transform="translate(1051.7,545.9) scale(1.1,1)" font-size="14.5" text-anchor="middle" fill="#111" letter-spacing="0.3">Oct</text>
<text transform="translate(1105.6,546.0) scale(1.06,1)" font-size="15.6" font-weight="bold" text-anchor="middle" fill="#111">24</text>
<text transform="translate(1158.4,545.9) scale(1.1,1)" font-size="14.5" text-anchor="middle" fill="#111" letter-spacing="0.3">Apr</text>
<text transform="translate(29.1,943.2) scale(1.06,1)" font-size="15.6" font-weight="bold" text-anchor="middle" fill="#111">19</text>
<text transform="translate(78.9,943.1) scale(1.1,1)" font-size="14.5" text-anchor="middle" fill="#111" letter-spacing="0.3">Apr</text>
<text transform="translate(131.3,943.1) scale(1.1,1)" font-size="14.5" text-anchor="middle" fill="#111" letter-spacing="0.3">Jul</text>
<text transform="translate(189.8,943.1) scale(1.1,1)" font-size="14.5" text-anchor="middle" fill="#111" letter-spacing="0.3">Oct</text>
<text transform="translate(242.9,943.2) scale(1.06,1)" font-size="15.6" font-weight="bold" text-anchor="middle" fill="#111">20</text>
<text transform="translate(298.0,943.1) scale(1.1,1)" font-size="14.5" text-anchor="middle" fill="#111" letter-spacing="0.3">Apr</text>
<text transform="translate(352.1,943.1) scale(1.1,1)" font-size="14.5" text-anchor="middle" fill="#111" letter-spacing="0.3">Jul</text>
<text transform="translate(404.6,943.1) scale(1.1,1)" font-size="14.5" text-anchor="middle" fill="#111" letter-spacing="0.3">Oct</text>
<text transform="translate(458.2,943.2) scale(1.06,1)" font-size="15.6" font-weight="bold" text-anchor="middle" fill="#111">21</text>
<text transform="translate(512.3,943.1) scale(1.1,1)" font-size="14.5" text-anchor="middle" fill="#111" letter-spacing="0.3">Apr</text>
<text transform="translate(566.5,943.1) scale(1.1,1)" font-size="14.5" text-anchor="middle" fill="#111" letter-spacing="0.3">Jul</text>
<text transform="translate(620.6,943.1) scale(1.1,1)" font-size="14.5" text-anchor="middle" fill="#111" letter-spacing="0.3">Oct</text>
<text transform="translate(675.2,943.2) scale(1.06,1)" font-size="15.6" font-weight="bold" text-anchor="middle" fill="#111">22</text>
<text transform="translate(729.6,943.1) scale(1.1,1)" font-size="14.5" text-anchor="middle" fill="#111" letter-spacing="0.3">Apr</text>
<text transform="translate(782.0,943.1) scale(1.1,1)" font-size="14.5" text-anchor="middle" fill="#111" letter-spacing="0.3">Jul</text>
<text transform="translate(836.2,943.1) scale(1.1,1)" font-size="14.5" text-anchor="middle" fill="#111" letter-spacing="0.3">Oct</text>
<text transform="translate(890.0,943.2) scale(1.06,1)" font-size="15.6" font-weight="bold" text-anchor="middle" fill="#111">23</text>
<text transform="translate(944.6,943.1) scale(1.1,1)" font-size="14.5" text-anchor="middle" fill="#111" letter-spacing="0.3">Apr</text>
<text transform="translate(998.0,943.1) scale(1.1,1)" font-size="14.5" text-anchor="middle" fill="#111" letter-spacing="0.3">Jul</text>
<text transform="translate(1051.7,943.1) scale(1.1,1)" font-size="14.5" text-anchor="middle" fill="#111" letter-spacing="0.3">Oct</text>
<text transform="translate(1105.6,943.2) scale(1.06,1)" font-size="15.6" font-weight="bold" text-anchor="middle" fill="#111">24</text>
<text transform="translate(1158.4,943.1) scale(1.1,1)" font-size="14.5" text-anchor="middle" fill="#111" letter-spacing="0.3">Apr</text>
<line x1="1205.5" y1="64.6" x2="1210.5" y2="64.6" stroke="#a6bdc4" stroke-width="1.2"/>
<text transform="translate(1210.7,69.0) scale(1.11,1)" font-size="14.5" fill="#111" text-anchor="start">90</text>
<line x1="1205.5" y1="106.6" x2="1210.5" y2="106.6" stroke="#a6bdc4" stroke-width="1.2"/>
<text transform="translate(1210.7,111.0) scale(1.11,1)" font-size="14.5" fill="#111" text-anchor="start">50</text>
<line x1="1205.5" y1="127.6" x2="1210.5" y2="127.6" stroke="#a6bdc4" stroke-width="1.2"/>
<text transform="translate(1210.7,132.0) scale(1.11,1)" font-size="14.5" fill="#111" text-anchor="start">30</text>
<line x1="1205.5" y1="148.6" x2="1210.5" y2="148.6" stroke="#a6bdc4" stroke-width="1.2"/>
<text transform="translate(1210.7,153.0) scale(1.11,1)" font-size="14.5" fill="#111" text-anchor="start">10</text>
<line x1="1205.5" y1="513.1" x2="1210.5" y2="513.1" stroke="#a6bdc4" stroke-width="1.2"/>
<line x1="1205.5" y1="506.6" x2="1208.0" y2="506.6" stroke="#a6bdc4" stroke-width="1.2"/>
<line x1="1205.5" y1="500.1" x2="1208.0" y2="500.1" stroke="#a6bdc4" stroke-width="1.2"/>
<line x1="1205.5" y1="493.6" x2="1208.0" y2="493.6" stroke="#a6bdc4" stroke-width="1.2"/>
<line x1="1205.5" y1="487.1" x2="1208.0" y2="487.1" stroke="#a6bdc4" stroke-width="1.2"/>
<line x1="1205.5" y1="480.6" x2="1210.5" y2="480.6" stroke="#a6bdc4" stroke-width="1.2"/>
<line x1="1205.5" y1="474.2" x2="1208.0" y2="474.2" stroke="#a6bdc4" stroke-width="1.2"/>
<line x1="1205.5" y1="467.7" x2="1208.0" y2="467.7" stroke="#a6bdc4" stroke-width="1.2"/>
<line x1="1205.5" y1="461.2" x2="1208.0" y2="461.2" stroke="#a6bdc4" stroke-width="1.2"/>
<line x1="1205.5" y1="454.7" x2="1208.0" y2="454.7" stroke="#a6bdc4" stroke-width="1.2"/>
<line x1="1205.5" y1="448.2" x2="1210.5" y2="448.2" stroke="#a6bdc4" stroke-width="1.2"/>
<line x1="1205.5" y1="441.7" x2="1208.0" y2="441.7" stroke="#a6bdc4" stroke-width="1.2"/>
<line x1="1205.5" y1="435.2" x2="1208.0" y2="435.2" stroke="#a6bdc4" stroke-width="1.2"/>
<line x1="1205.5" y1="428.7" x2="1208.0" y2="428.7" stroke="#a6bdc4" stroke-width="1.2"/>
<line x1="1205.5" y1="422.2" x2="1208.0" y2="422.2" stroke="#a6bdc4" stroke-width="1.2"/>
<line x1="1205.5" y1="415.8" x2="1210.5" y2="415.8" stroke="#a6bdc4" stroke-width="1.2"/>
<line x1="1205.5" y1="409.3" x2="1208.0" y2="409.3" stroke="#a6bdc4" stroke-width="1.2"/>
<line x1="1205.5" y1="402.8" x2="1208.0" y2="402.8" stroke="#a6bdc4" stroke-width="1.2"/>
<line x1="1205.5" y1="396.3" x2="1208.0" y2="396.3" stroke="#a6bdc4" stroke-width="1.2"/>
<line x1="1205.5" y1="389.8" x2="1208.0" y2="389.8" stroke="#a6bdc4" stroke-width="1.2"/>
<line x1="1205.5" y1="383.3" x2="1210.5" y2="383.3" stroke="#a6bdc4" stroke-width="1.2"/>
<line x1="1205.5" y1="376.8" x2="1208.0" y2="376.8" stroke="#a6bdc4" stroke-width="1.2"/>
<line x1="1205.5" y1="370.3" x2="1208.0" y2="370.3" stroke="#a6bdc4" stroke-width="1.2"/>
<line x1="1205.5" y1="363.8" x2="1208.0" y2="363.8" stroke="#a6bdc4" stroke-width="1.2"/>
<line x1="1205.5" y1="357.3" x2="1208.0" y2="357.3" stroke="#a6bdc4" stroke-width="1.2"/>
<line x1="1205.5" y1="350.9" x2="1210.5" y2="350.9" stroke="#a6bdc4" stroke-width="1.2"/>
<line x1="1205.5" y1="344.4" x2="1208.0" y2="344.4" stroke="#a6bdc4" stroke-width="1.2"/>
<line x1="1205.5" y1="337.9" x2="1208.0" y2="337.9" stroke="#a6bdc4" stroke-width="1.2"/>
<line x1="1205.5" y1="331.4" x2="1208.0" y2="331.4" stroke="#a6bdc4" stroke-width="1.2"/>
<line x1="1205.5" y1="324.9" x2="1208.0" y2="324.9" stroke="#a6bdc4" stroke-width="1.2"/>
<line x1="1205.5" y1="318.4" x2="1210.5" y2="318.4" stroke="#a6bdc4" stroke-width="1.2"/>
<line x1="1205.5" y1="311.9" x2="1208.0" y2="311.9" stroke="#a6bdc4" stroke-width="1.2"/>
<line x1="1205.5" y1="305.4" x2="1208.0" y2="305.4" stroke="#a6bdc4" stroke-width="1.2"/>
<line x1="1205.5" y1="298.9" x2="1208.0" y2="298.9" stroke="#a6bdc4" stroke-width="1.2"/>
<line x1="1205.5" y1="292.4" x2="1208.0" y2="292.4" stroke="#a6bdc4" stroke-width="1.2"/>
<line x1="1205.5" y1="285.9" x2="1210.5" y2="285.9" stroke="#a6bdc4" stroke-width="1.2"/>
<line x1="1205.5" y1="279.5" x2="1208.0" y2="279.5" stroke="#a6bdc4" stroke-width="1.2"/>
<line x1="1205.5" y1="273.0" x2="1208.0" y2="273.0" stroke="#a6bdc4" stroke-width="1.2"/>
<line x1="1205.5" y1="266.5" x2="1208.0" y2="266.5" stroke="#a6bdc4" stroke-width="1.2"/>
<line x1="1205.5" y1="260.0" x2="1208.0" y2="260.0" stroke="#a6bdc4" stroke-width="1.2"/>
<line x1="1205.5" y1="253.5" x2="1210.5" y2="253.5" stroke="#a6bdc4" stroke-width="1.2"/>
<line x1="1205.5" y1="247.0" x2="1208.0" y2="247.0" stroke="#a6bdc4" stroke-width="1.2"/>
<line x1="1205.5" y1="240.5" x2="1208.0" y2="240.5" stroke="#a6bdc4" stroke-width="1.2"/>
<line x1="1205.5" y1="234.0" x2="1208.0" y2="234.0" stroke="#a6bdc4" stroke-width="1.2"/>
<line x1="1205.5" y1="227.5" x2="1208.0" y2="227.5" stroke="#a6bdc4" stroke-width="1.2"/>
<line x1="1205.5" y1="221.1" x2="1210.5" y2="221.1" stroke="#a6bdc4" stroke-width="1.2"/>
<line x1="1205.5" y1="214.6" x2="1208.0" y2="214.6" stroke="#a6bdc4" stroke-width="1.2"/>
<line x1="1205.5" y1="208.1" x2="1208.0" y2="208.1" stroke="#a6bdc4" stroke-width="1.2"/>
<line x1="1205.5" y1="201.6" x2="1208.0" y2="201.6" stroke="#a6bdc4" stroke-width="1.2"/>
<line x1="1205.5" y1="195.1" x2="1208.0" y2="195.1" stroke="#a6bdc4" stroke-width="1.2"/>
<line x1="1205.5" y1="188.6" x2="1210.5" y2="188.6" stroke="#a6bdc4" stroke-width="1.2"/>
<text transform="translate(1210.7,224.6) scale(1.11,1)" font-size="14.5" fill="#111" text-anchor="start">4500</text>
<text transform="translate(1210.7,257.0) scale(1.11,1)" font-size="14.5" fill="#111" text-anchor="start">4250</text>
<text transform="translate(1210.7,321.9) scale(1.11,1)" font-size="14.5" fill="#111" text-anchor="start">3750</text>
<text transform="translate(1210.7,354.4) scale(1.11,1)" font-size="14.5" fill="#111" text-anchor="start">3500</text>
<text transform="translate(1210.7,386.8) scale(1.11,1)" font-size="14.5" fill="#111" text-anchor="start">3250</text>
<text transform="translate(1210.7,419.2) scale(1.11,1)" font-size="14.5" fill="#111" text-anchor="start">3000</text>
<text transform="translate(1210.7,451.7) scale(1.11,1)" font-size="14.5" fill="#111" text-anchor="start">2750</text>
<text transform="translate(1210.7,484.1) scale(1.11,1)" font-size="14.5" fill="#111" text-anchor="start">2500</text>
<text transform="translate(1210.7,516.6) scale(1.11,1)" font-size="14.5" fill="#111" text-anchor="start">2250</text>
<line x1="1205.5" y1="560.0" x2="1210.5" y2="560.0" stroke="#a6bdc4" stroke-width="1.2"/>
<line x1="1205.5" y1="583.2" x2="1210.5" y2="583.2" stroke="#a6bdc4" stroke-width="1.2"/>
<line x1="1205.5" y1="606.4" x2="1210.5" y2="606.4" stroke="#a6bdc4" stroke-width="1.2"/>
<line x1="1205.5" y1="629.6" x2="1210.5" y2="629.6" stroke="#a6bdc4" stroke-width="1.2"/>
<line x1="1205.5" y1="652.8" x2="1210.5" y2="652.8" stroke="#a6bdc4" stroke-width="1.2"/>
<text transform="translate(1210.7,563.6) scale(1.11,1)" font-size="14.5" fill="#111" letter-spacing="0.6">25B</text>
<text transform="translate(1210.7,586.8) scale(1.11,1)" font-size="14.5" fill="#111" letter-spacing="0.6">20B</text>
<text transform="translate(1210.7,610.0) scale(1.11,1)" font-size="14.5" fill="#111" letter-spacing="0.6">15B</text>
<text transform="translate(1210.7,633.2) scale(1.11,1)" font-size="14.5" fill="#111" letter-spacing="0.6">10B</text>
<text transform="translate(1210.7,656.4) scale(1.11,1)" font-size="14.5" fill="#111" letter-spacing="0.6">5B</text>
<line x1="1205.5" y1="790.5" x2="1208.0" y2="790.5" stroke="#a6bdc4" stroke-width="1.2"/>
<line x1="1205.5" y1="782.6" x2="1208.0" y2="782.6" stroke="#a6bdc4" stroke-width="1.2"/>
<line x1="1205.5" y1="774.6" x2="1210.5" y2="774.6" stroke="#a6bdc4" stroke-width="1.2"/>
<line x1="1205.5" y1="766.7" x2="1208.0" y2="766.7" stroke="#a6bdc4" stroke-width="1.2"/>
<line x1="1205.5" y1="758.8" x2="1208.0" y2="758.8" stroke="#a6bdc4" stroke-width="1.2"/>
<line x1="1205.5" y1="750.9" x2="1208.0" y2="750.9" stroke="#a6bdc4" stroke-width="1.2"/>
<line x1="1205.5" y1="743.0" x2="1210.5" y2="743.0" stroke="#a6bdc4" stroke-width="1.2"/>
<line x1="1205.5" y1="735.1" x2="1208.0" y2="735.1" stroke="#a6bdc4" stroke-width="1.2"/>
<line x1="1205.5" y1="727.2" x2="1208.0" y2="727.2" stroke="#a6bdc4" stroke-width="1.2"/>
<line x1="1205.5" y1="719.3" x2="1208.0" y2="719.3" stroke="#a6bdc4" stroke-width="1.2"/>
<line x1="1205.5" y1="711.4" x2="1210.5" y2="711.4" stroke="#a6bdc4" stroke-width="1.2"/>
<line x1="1205.5" y1="703.4" x2="1208.0" y2="703.4" stroke="#a6bdc4" stroke-width="1.2"/>
<line x1="1205.5" y1="695.5" x2="1208.0" y2="695.5" stroke="#a6bdc4" stroke-width="1.2"/>
<line x1="1205.5" y1="687.6" x2="1208.0" y2="687.6" stroke="#a6bdc4" stroke-width="1.2"/>
<text transform="translate(1241.0,747.4) scale(1.11,1)" font-size="14.5" fill="#111" text-anchor="end">0</text>
<text transform="translate(1241.0,778.1) scale(1.11,1)" font-size="14.5" fill="#111" text-anchor="end">-100</text>
<line x1="1205.5" y1="834.8" x2="1210.5" y2="834.8" stroke="#a6bdc4" stroke-width="1.2"/>
<text transform="translate(1210.7,838.6) scale(1.11,1)" font-size="14.5" fill="#111" text-anchor="start">80</text>
<line x1="1205.5" y1="866.2" x2="1210.5" y2="866.2" stroke="#a6bdc4" stroke-width="1.2"/>
<text transform="translate(1210.7,870.0) scale(1.11,1)" font-size="14.5" fill="#111" text-anchor="start">50</text>
<line x1="1205.5" y1="897.6" x2="1210.5" y2="897.6" stroke="#a6bdc4" stroke-width="1.2"/>
<text transform="translate(1210.7,901.4) scale(1.11,1)" font-size="14.5" fill="#111" text-anchor="start">20</text>
<path d="M1202.3,85.7 L1208,78.1 L1252.6,78.1 L1252.6,93.3 L1208,93.3 Z" fill="#e0fbfb" stroke="#4242c8" stroke-width="1.6" stroke-linejoin="miter"/>
<text transform="translate(1210,90.9) scale(1.11,1)" font-size="14.6" fill="#111">68.83</text>
<path d="M1202.3,285.1 L1208,277.5 L1275.0,277.5 L1275.0,292.7 L1208,292.7 Z" fill="#e0fbfb" stroke="#1c1c9c" stroke-width="1.8" stroke-linejoin="miter"/>
<text transform="translate(1210,290.3) scale(1.11,1)" font-size="14.6" fill="#111">3999.98</text>
<path d="M1202.3,226.5 L1208,218.9 L1275.0,218.9 L1275.0,234.1 L1208,234.1 Z" fill="#e0fbfb" stroke="#d43a40" stroke-width="1.8" stroke-linejoin="miter"/>
<text transform="translate(1210,231.7) scale(1.11,1)" font-size="14.6" fill="#111">4451.56</text>
<path d="M1202.3,204.5 L1208,197.3 L1275.0,197.3 L1275.0,211.7 L1208,211.7 Z" fill="#e0fbfb" stroke="#3a7a2a" stroke-width="1.8" stroke-linejoin="miter"/>
<text transform="translate(1210,209.7) scale(1.11,1)" font-size="14.6" fill="#111">4626.59</text>
<path d="M1202.3,187.0 L1208,178.7 L1275.0,178.7 L1275.0,195.3 L1208,195.3 Z" fill="#e0fbfb" stroke="#111" stroke-width="2.0" stroke-linejoin="miter"/>
<text transform="translate(1210,192.2) scale(1.11,1)" font-size="15.1" fill="#111" font-weight="bold">4769.83</text>
<path d="M1202.3,645.8 L1208,638.0 L1275.0,638.0 L1275.0,653.5 L1208,653.5 Z" fill="#e0fbfb" stroke="#222" stroke-width="1.7" stroke-linejoin="miter"/>
<text transform="translate(1210,651.0) scale(1.11,1)" font-size="14.6" fill="#111">6196620</text>
<path d="M1202.3,732.4 L1208,726.6 L1262.0,726.6 L1262.0,738.1 L1208,738.1 Z" fill="#e0fbfb" stroke="#7a9470" stroke-width="1.6" stroke-linejoin="miter"/>
<text transform="translate(1210,735.4) scale(1.11,1)" font-size="14.6" fill="#111">36.707</text>
<path d="M1202.3,720.8 L1208,714.6 L1262.0,714.6 L1262.0,727.0 L1208,727.0 Z" fill="#e0fbfb" stroke="#3c2ccc" stroke-width="1.8" stroke-linejoin="miter"/>
<text transform="translate(1210,724.5) scale(1.11,1)" font-size="14.6" fill="#111">73.366</text>
<path d="M1202.3,707.3 L1208,700.0 L1275.0,700.0 L1275.0,714.6 L1208,714.6 Z" fill="#e0fbfb" stroke="#222" stroke-width="1.8" stroke-linejoin="miter"/>
<text transform="translate(1210,712.5) scale(1.11,1)" font-size="14.6" fill="#111">110.073</text>
<path d="M1202.3,815.0 L1208,807.3 L1252.2,807.3 L1252.2,822.7 L1208,822.7 Z" fill="#e0fbfb" stroke="#d22" stroke-width="1.8" stroke-linejoin="miter"/>
<text transform="translate(1210,820.2) scale(1.11,1)" font-size="14.6" fill="#111"></text>
<path d="M1202.3,816.4 L1208,808.4 L1252.6,808.4 L1252.6,824.4 L1208,824.4 Z" fill="#e0fbfb" stroke="#111" stroke-width="1.9" stroke-linejoin="miter"/>
<text transform="translate(1210,821.6) scale(1.11,1)" font-size="14.6" fill="#111">96.69</text>
<text x="19.4" y="21.5" font-size="21.0" fill="#111" font-weight="bold" textLength="49.6" lengthAdjust="spacingAndGlyphs" >$SPX</text>
<text x="75.3" y="19.9" font-size="14.8" fill="#111" textLength="183.2" lengthAdjust="spacingAndGlyphs" >S&amp;P 500 Large Cap Index</text>
<text x="267.2" y="19.9" font-size="13.2" fill="#111" textLength="35.3" lengthAdjust="spacingAndGlyphs" >INDX</text>
<text x="18.9" y="39.8" font-size="14.0" fill="#111" textLength="90.2" lengthAdjust="spacingAndGlyphs" >29-Dec-2023</text>
<text x="472.0" y="39.8" font-size="16.4" fill="#111" font-weight="bold" textLength="42.8" lengthAdjust="spacingAndGlyphs" >Open</text>
<text x="519.9" y="39.8" font-size="14.8" fill="#111" textLength="57.5" lengthAdjust="spacingAndGlyphs" >4758.86</text>
<text x="587.3" y="39.8" font-size="16.4" fill="#111" font-weight="bold" textLength="34.4" lengthAdjust="spacingAndGlyphs" >High</text>
<text x="627.7" y="39.8" font-size="14.8" fill="#111" textLength="57.5" lengthAdjust="spacingAndGlyphs" >4793.30</text>
<text x="696.0" y="39.8" font-size="16.4" fill="#111" font-weight="bold" textLength="35.0" lengthAdjust="spacingAndGlyphs" >Low</text>
<text x="736.1" y="39.8" font-size="14.8" fill="#111" textLength="57.8" lengthAdjust="spacingAndGlyphs" >4751.99</text>
<text x="804.4" y="39.8" font-size="16.4" fill="#111" font-weight="bold" textLength="46.6" lengthAdjust="spacingAndGlyphs" >Close</text>
<text x="857.0" y="39.8" font-size="14.8" fill="#111" textLength="57.5" lengthAdjust="spacingAndGlyphs" >4769.83</text>
<text x="925.2" y="39.8" font-size="16.4" fill="#111" font-weight="bold" textLength="61.1" lengthAdjust="spacingAndGlyphs" >Volume</text>
<text transform="translate(993.2,39.8) scale(1.11,1)" font-size="14.5" fill="#111">6.2<tspan font-size="12.3" dx="0.6">B</tspan></text>
<text x="1035.2" y="39.8" font-size="16.4" fill="#111" font-weight="bold" textLength="31.4" lengthAdjust="spacingAndGlyphs" >Chg</text>
<text x="1071.8" y="39.8" font-size="14.8" fill="#111" textLength="118.2" lengthAdjust="spacingAndGlyphs" >+15.20 (+0.32%)</text>
<path d="M1194.3,38.2 L1205.2,38.2 L1199.7,32.3 Z" fill="#3a7030"/>
<circle cx="1077.0" cy="15.4" r="4.7" fill="none" stroke="#666" stroke-width="1.3"/><text x="1077.0" y="17.9" font-size="7.5" fill="#555" text-anchor="middle" font-weight="bold">c</text>
<text x="1086.0" y="19.7" font-size="15.4" fill="#666" textLength="119.0" lengthAdjust="spacingAndGlyphs" >StockCharts.com</text>
<rect x="0" y="0" width="1269" height="1.3" fill="#8e8e8e"/>
<circle cx="1268.3" cy="3.2" r="18.2" fill="#8a8a8a"/><circle cx="1268.3" cy="3.0" r="17.4" fill="#3a3a3a"/><circle cx="1268.3" cy="3.0" r="14.2" fill="none" stroke="#f4f4f4" stroke-width="1.7"/>
<path d="M1261.5,-4 L1275,12 M1261.5,12 L1275,-4" stroke="#f4f4f4" stroke-width="2.6" fill="none"/>
<rect x="1267.8" y="0" width="1.2" height="948" fill="#000"/>
<rect x="0" y="946.8" width="1269" height="1.2" fill="#000"/>
</svg>
</body></html>
